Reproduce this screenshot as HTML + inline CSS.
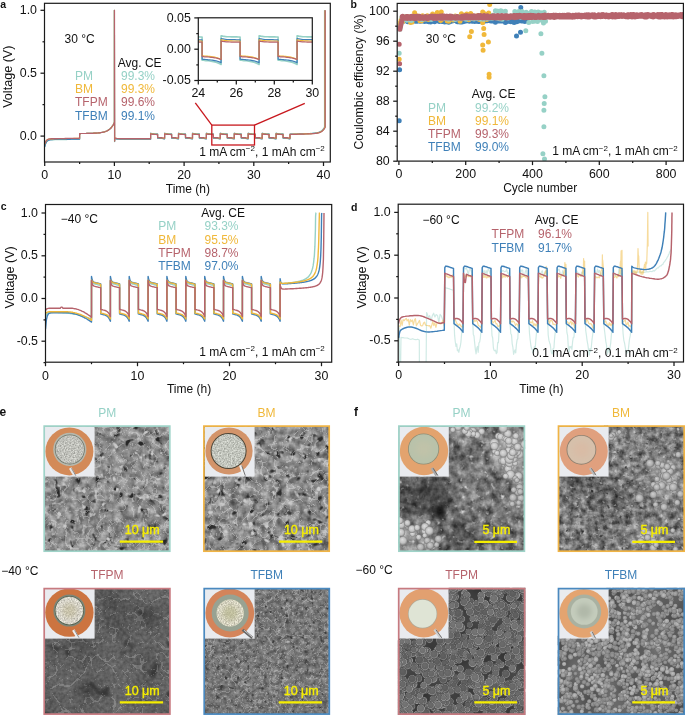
<!DOCTYPE html><html><head><meta charset="utf-8"><style>html,body{margin:0;padding:0;background:#fff}body{width:685px;height:715px;overflow:hidden;position:relative}svg{position:absolute;left:0;top:0;display:block;will-change:transform}text{font-family:"Liberation Sans",sans-serif}</style></head><body><svg width="685" height="715" viewBox="0 0 685 715"><defs><filter id="se1b" x="0" y="0" width="1" height="1" color-interpolation-filters="sRGB"><feTurbulence type="fractalNoise" baseFrequency="0.03" numOctaves="2" seed="11"/><feColorMatrix type="matrix" values="0.327 0 0 0 0.378 0.327 0 0 0 0.378 0.327 0 0 0 0.378 0 0 0 0 1"/></filter><filter id="se1m" x="0" y="0" width="1" height="1" color-interpolation-filters="sRGB"><feTurbulence type="fractalNoise" baseFrequency="0.14" numOctaves="3" seed="12"/><feColorMatrix type="matrix" values="0.784 0 0 0 0.149 0.784 0 0 0 0.149 0.784 0 0 0 0.149 0 0 0 0 0.7"/></filter><filter id="se1p" x="0" y="0" width="1" height="1" color-interpolation-filters="sRGB"><feTurbulence type="fractalNoise" baseFrequency="0.13" numOctaves="2" seed="13"/><feColorMatrix type="matrix" values="0 0 0 0 0.1568627450980392 0 0 0 0 0.1568627450980392 0 0 0 0 0.1568627450980392 -7 0 0 0 2.59"/><feGaussianBlur stdDeviation="0.5"/></filter><filter id="se1e" x="0" y="0" width="1" height="1" color-interpolation-filters="sRGB"><feTurbulence type="turbulence" baseFrequency="0.09" numOctaves="1" seed="14"/><feColorMatrix type="matrix" values="0 0 0 0 0.92 0 0 0 0 0.92 0 0 0 0 0.92 -12 0 0 0 0.3"/><feGaussianBlur stdDeviation="0.6"/></filter><filter id="se1l" x="0" y="0" width="1" height="1" color-interpolation-filters="sRGB"><feTurbulence type="fractalNoise" baseFrequency="0.16" numOctaves="2" seed="16"/><feColorMatrix type="matrix" values="0 0 0 0 0.7843137254901961 0 0 0 0 0.7843137254901961 0 0 0 0 0.7843137254901961 6 0 0 0 -3.84"/><feGaussianBlur stdDeviation="0.4"/></filter><filter id="se2b" x="0" y="0" width="1" height="1" color-interpolation-filters="sRGB"><feTurbulence type="fractalNoise" baseFrequency="0.03" numOctaves="2" seed="12"/><feColorMatrix type="matrix" values="0.261 0 0 0 0.403 0.261 0 0 0 0.403 0.261 0 0 0 0.403 0 0 0 0 1"/></filter><filter id="se2m" x="0" y="0" width="1" height="1" color-interpolation-filters="sRGB"><feTurbulence type="fractalNoise" baseFrequency="0.13" numOctaves="3" seed="13"/><feColorMatrix type="matrix" values="0.915 0 0 0 0.076 0.915 0 0 0 0.076 0.915 0 0 0 0.076 0 0 0 0 0.7"/></filter><filter id="se2p" x="0" y="0" width="1" height="1" color-interpolation-filters="sRGB"><feTurbulence type="fractalNoise" baseFrequency="0.12" numOctaves="2" seed="14"/><feColorMatrix type="matrix" values="0 0 0 0 0.17647058823529413 0 0 0 0 0.17647058823529413 0 0 0 0 0.17647058823529413 -7 0 0 0 2.59"/><feGaussianBlur stdDeviation="0.5"/></filter><filter id="se2e" x="0" y="0" width="1" height="1" color-interpolation-filters="sRGB"><feTurbulence type="turbulence" baseFrequency="0.08" numOctaves="1" seed="15"/><feColorMatrix type="matrix" values="0 0 0 0 0.92 0 0 0 0 0.92 0 0 0 0 0.92 -12 0 0 0 0.35"/><feGaussianBlur stdDeviation="0.6"/></filter><filter id="se2l" x="0" y="0" width="1" height="1" color-interpolation-filters="sRGB"><feTurbulence type="fractalNoise" baseFrequency="0.14" numOctaves="2" seed="17"/><feColorMatrix type="matrix" values="0 0 0 0 0.803921568627451 0 0 0 0 0.803921568627451 0 0 0 0 0.803921568627451 6 0 0 0 -3.7199999999999998"/><feGaussianBlur stdDeviation="0.4"/></filter><filter id="se3b" x="0" y="0" width="1" height="1" color-interpolation-filters="sRGB"><feTurbulence type="fractalNoise" baseFrequency="0.03" numOctaves="2" seed="13"/><feColorMatrix type="matrix" values="0.261 0 0 0 0.242 0.261 0 0 0 0.242 0.261 0 0 0 0.242 0 0 0 0 1"/></filter><filter id="se3m" x="0" y="0" width="1" height="1" color-interpolation-filters="sRGB"><feTurbulence type="fractalNoise" baseFrequency="0.3" numOctaves="2" seed="14"/><feColorMatrix type="matrix" values="0.392 0 0 0 0.176 0.392 0 0 0 0.176 0.392 0 0 0 0.176 0 0 0 0 0.5"/></filter><filter id="se3p" x="0" y="0" width="1" height="1" color-interpolation-filters="sRGB"><feTurbulence type="fractalNoise" baseFrequency="0.05" numOctaves="2" seed="15"/><feColorMatrix type="matrix" values="0 0 0 0 0.19607843137254902 0 0 0 0 0.19607843137254902 0 0 0 0 0.19607843137254902 -8 0 0 0 2.4"/><feGaussianBlur stdDeviation="0.5"/></filter><filter id="se3e" x="0" y="0" width="1" height="1" color-interpolation-filters="sRGB"><feTurbulence type="turbulence" baseFrequency="0.07" numOctaves="1" seed="16"/><feColorMatrix type="matrix" values="0 0 0 0 0.92 0 0 0 0 0.92 0 0 0 0 0.92 -18 0 0 0 0.2"/><feGaussianBlur stdDeviation="0.6"/></filter><filter id="se4b" x="0" y="0" width="1" height="1" color-interpolation-filters="sRGB"><feTurbulence type="fractalNoise" baseFrequency="0.03" numOctaves="2" seed="14"/><feColorMatrix type="matrix" values="0.196 0 0 0 0.357 0.196 0 0 0 0.357 0.196 0 0 0 0.357 0 0 0 0 1"/></filter><filter id="se4m" x="0" y="0" width="1" height="1" color-interpolation-filters="sRGB"><feTurbulence type="fractalNoise" baseFrequency="0.22" numOctaves="3" seed="15"/><feColorMatrix type="matrix" values="0.588 0 0 0 0.161 0.588 0 0 0 0.161 0.588 0 0 0 0.161 0 0 0 0 0.7"/></filter><filter id="se4p" x="0" y="0" width="1" height="1" color-interpolation-filters="sRGB"><feTurbulence type="fractalNoise" baseFrequency="0.2" numOctaves="2" seed="16"/><feColorMatrix type="matrix" values="0 0 0 0 0.23529411764705882 0 0 0 0 0.23529411764705882 0 0 0 0 0.23529411764705882 -6 0 0 0 2.0999999999999996"/><feGaussianBlur stdDeviation="0.5"/></filter><filter id="se4e" x="0" y="0" width="1" height="1" color-interpolation-filters="sRGB"><feTurbulence type="turbulence" baseFrequency="0.14" numOctaves="1" seed="17"/><feColorMatrix type="matrix" values="0 0 0 0 0.92 0 0 0 0 0.92 0 0 0 0 0.92 -12 0 0 0 0.25"/><feGaussianBlur stdDeviation="0.6"/></filter><filter id="se4l" x="0" y="0" width="1" height="1" color-interpolation-filters="sRGB"><feTurbulence type="fractalNoise" baseFrequency="0.22" numOctaves="2" seed="19"/><feColorMatrix type="matrix" values="0 0 0 0 0.7058823529411765 0 0 0 0 0.7058823529411765 0 0 0 0 0.7058823529411765 5 0 0 0 -3.3000000000000003"/><feGaussianBlur stdDeviation="0.4"/></filter><filter id="sf1b" x="0" y="0" width="1" height="1" color-interpolation-filters="sRGB"><feTurbulence type="fractalNoise" baseFrequency="0.025" numOctaves="2" seed="21"/><feColorMatrix type="matrix" values="0.458 0 0 0 0.210 0.458 0 0 0 0.210 0.458 0 0 0 0.210 0 0 0 0 1"/></filter><filter id="sf1m" x="0" y="0" width="1" height="1" color-interpolation-filters="sRGB"><feTurbulence type="fractalNoise" baseFrequency="0.13" numOctaves="3" seed="22"/><feColorMatrix type="matrix" values="1.046 0 0 0 -0.084 1.046 0 0 0 -0.084 1.046 0 0 0 -0.084 0 0 0 0 0.7"/></filter><filter id="sf1l" x="0" y="0" width="1" height="1" color-interpolation-filters="sRGB"><feTurbulence type="fractalNoise" baseFrequency="0.2" numOctaves="2" seed="26"/><feColorMatrix type="matrix" values="0 0 0 0 0.8431372549019608 0 0 0 0 0.8431372549019608 0 0 0 0 0.8431372549019608 4 0 0 0 -2.56"/><feGaussianBlur stdDeviation="0.4"/></filter><filter id="sf2b" x="0" y="0" width="1" height="1" color-interpolation-filters="sRGB"><feTurbulence type="fractalNoise" baseFrequency="0.025" numOctaves="2" seed="22"/><feColorMatrix type="matrix" values="0.392 0 0 0 0.267 0.392 0 0 0 0.267 0.392 0 0 0 0.267 0 0 0 0 1"/></filter><filter id="sf2m" x="0" y="0" width="1" height="1" color-interpolation-filters="sRGB"><feTurbulence type="fractalNoise" baseFrequency="0.16" numOctaves="3" seed="23"/><feColorMatrix type="matrix" values="1.046 0 0 0 -0.060 1.046 0 0 0 -0.060 1.046 0 0 0 -0.060 0 0 0 0 0.7"/></filter><filter id="sf2p" x="0" y="0" width="1" height="1" color-interpolation-filters="sRGB"><feTurbulence type="fractalNoise" baseFrequency="0.2" numOctaves="2" seed="24"/><feColorMatrix type="matrix" values="0 0 0 0 0.19607843137254902 0 0 0 0 0.19607843137254902 0 0 0 0 0.19607843137254902 -5 0 0 0 1.6500000000000001"/><feGaussianBlur stdDeviation="0.5"/></filter><filter id="sf2l" x="0" y="0" width="1" height="1" color-interpolation-filters="sRGB"><feTurbulence type="fractalNoise" baseFrequency="0.22" numOctaves="2" seed="27"/><feColorMatrix type="matrix" values="0 0 0 0 0.8235294117647058 0 0 0 0 0.8235294117647058 0 0 0 0 0.8235294117647058 4 0 0 0 -2.6"/><feGaussianBlur stdDeviation="0.4"/></filter><filter id="sf3b" x="0" y="0" width="1" height="1" color-interpolation-filters="sRGB"><feTurbulence type="fractalNoise" baseFrequency="0.03" numOctaves="2" seed="23"/><feColorMatrix type="matrix" values="0.196 0 0 0 0.145 0.196 0 0 0 0.145 0.196 0 0 0 0.145 0 0 0 0 1"/></filter><filter id="sf4b" x="0" y="0" width="1" height="1" color-interpolation-filters="sRGB"><feTurbulence type="fractalNoise" baseFrequency="0.03" numOctaves="2" seed="24"/><feColorMatrix type="matrix" values="0.261 0 0 0 0.230 0.261 0 0 0 0.230 0.261 0 0 0 0.230 0 0 0 0 1"/></filter><radialGradient id="sph1" cx="0.45" cy="0.4" r="0.6"><stop offset="0" stop-color="#acacac"/><stop offset="0.7" stop-color="#929292"/><stop offset="1" stop-color="#686868"/></radialGradient><radialGradient id="sph2" cx="0.45" cy="0.4" r="0.6"><stop offset="0" stop-color="#9c9c9c"/><stop offset="0.7" stop-color="#848484"/><stop offset="1" stop-color="#5e5e5e"/></radialGradient><radialGradient id="sph3" cx="0.45" cy="0.4" r="0.6"><stop offset="0" stop-color="#bebebe"/><stop offset="0.7" stop-color="#a2a2a2"/><stop offset="1" stop-color="#727272"/></radialGradient><radialGradient id="gr1" cx="0.5" cy="0.5" r="0.5" fx="0.4" fy="0.35"><stop offset="0" stop-color="#6c6c6c"/><stop offset="0.7" stop-color="#646464"/><stop offset="0.86" stop-color="#8a8a8a"/><stop offset="1" stop-color="#4e4e4e"/></radialGradient><radialGradient id="gr2" cx="0.5" cy="0.5" r="0.5" fx="0.4" fy="0.35"><stop offset="0" stop-color="#626262"/><stop offset="0.7" stop-color="#5a5a5a"/><stop offset="0.86" stop-color="#7c7c7c"/><stop offset="1" stop-color="#484848"/></radialGradient><radialGradient id="gr3" cx="0.5" cy="0.5" r="0.5" fx="0.4" fy="0.35"><stop offset="0" stop-color="#767676"/><stop offset="0.7" stop-color="#6e6e6e"/><stop offset="0.86" stop-color="#969696"/><stop offset="1" stop-color="#545454"/></radialGradient><radialGradient id="br1" cx="0.5" cy="0.5" r="0.5" fx="0.42" fy="0.38"><stop offset="0" stop-color="#dedede"/><stop offset="0.65" stop-color="#c2c2c2"/><stop offset="1" stop-color="#848484"/></radialGradient><radialGradient id="br2" cx="0.5" cy="0.5" r="0.5" fx="0.42" fy="0.38"><stop offset="0" stop-color="#cfcfcf"/><stop offset="0.65" stop-color="#b0b0b0"/><stop offset="1" stop-color="#7a7a7a"/></radialGradient><filter id="blur05" x="-5%" y="-5%" width="110%" height="110%"><feGaussianBlur stdDeviation="0.55"/></filter><filter id="blur2" x="-50%" y="-50%" width="200%" height="200%"><feGaussianBlur stdDeviation="2.5"/></filter><filter id="speck" x="0" y="0" width="1" height="1" color-interpolation-filters="sRGB"><feTurbulence type="fractalNoise" baseFrequency="0.7" numOctaves="2" seed="9"/><feColorMatrix type="matrix" values="1.2 0 0 0 0.12 1.2 0 0 0 0.12 1.2 0 0 0 0.12 0 0 0 0 0.4"/><feComposite in2="SourceGraphic" operator="in"/></filter><filter id="blur6" x="-20%" y="-20%" width="140%" height="140%"><feGaussianBlur stdDeviation="6"/></filter></defs><clipPath id="ca"><rect x="44.5" y="3.3" width="285.8" height="158.7"/></clipPath><path d="M44.7 147.2 L45.3 144.9 L45.9 143.3 L46.4 142.2 L47 141.4 L47.6 140.9 L48.2 140.6 L48.8 140.3 L49.3 140.2 L49.9 140 L50.5 140 L51.1 139.9 L51.7 139.9 L52.3 139.8 L52.8 139.8 L53.4 139.8 L54 139.8 L54.6 139.7 L55.2 139.7 L55.7 139.7 L56.3 139.7 L56.9 139.7 L57.5 139.7 L58.1 139.7 L58.6 139.7 L59.2 139.7 L59.8 139.7 L60.4 139.6 L61 139.6 L61.5 139.6 L62.1 139.6 L62.7 139.6 L63.3 139.6 L63.9 139.6 L64.4 139.6 L65 139.6 L65.6 139.6 L66.2 139.6 L66.8 139.6 L67.4 139.5 L67.9 139.5 L68.5 139.5 L69.1 139.5 L69.7 139.5 L70.3 139.5 L70.8 139.5 L71.4 139.5 L72 139.5 L72.6 139.5 L73.2 139.5 L73.7 139.5 L74.3 139.4 L74.9 139.4 L75.5 139.4 L76.1 139.4 L76.6 139.4 L77.2 139.4 L77.8 139.4 L78.4 139.4 L79 139.4 L79.6 139.4 L79.6 133.6 L80.1 133.6 L80.7 133.6 L81.3 133.5 L81.9 133.5 L82.5 133.5 L83.1 133.5 L83.7 133.5 L84.3 133.5 L84.8 133.5 L85.4 133.5 L86 133.5 L86.6 133.4 L87.2 133.4 L87.8 133.4 L88.4 133.4 L89 133.4 L89.6 133.4 L90.1 133.4 L90.7 133.3 L91.3 133.3 L91.9 133.3 L92.5 133.3 L93.1 133.2 L93.7 133.2 L94.3 133.2 L94.8 133.2 L95.4 133.1 L96 133.1 L96.6 133.1 L97.2 133 L97.8 133 L98.4 132.9 L99 132.8 L99.6 132.8 L100.1 132.7 L100.7 132.6 L101.3 132.5 L101.9 132.4 L102.5 132.3 L103.1 132.2 L103.7 132 L104.3 131.9 L104.8 131.7 L105.4 131.5 L106 131.2 L106.6 131 L107.2 130.7 L107.8 130.3 L108.4 130 L109 129.5 L109.6 129.1 L110.1 128.5 L110.7 127.9 L111.3 127.3 L111.9 126.5 L112.5 125.7 L113.1 124.7 L113.7 123.6 L114.3 122.4 L114.3 10.3 L114.5 141.6 L114.7 138.6 L116.6 139.1 L118.5 139.2 L120.4 139.3 L122.3 139.4 L124.2 139.4 L126.1 139.4 L128 139.4 L129.9 139.4 L131.8 139.4 L133.6 139.4 L135.5 139.4 L137.4 139.4 L139.3 139.4 L141.2 139.4 L143.1 139.4 L145 139.4 L146.9 139.4 L148.8 139.4 L150.6 139.4 L150.6 133.1 L151.6 133.4 L152.6 133.6 L153.6 133.7 L154.6 133.7 L155.6 133.8 L156.6 133.8 L157.6 133.8 L157.6 138.2 L158.6 138.3 L159.6 138.3 L160.6 138.4 L161.6 138.5 L162.6 138.6 L163.6 138.8 L164.6 139 L164.6 133.1 L165.6 133.4 L166.6 133.6 L167.6 133.7 L168.6 133.7 L169.6 133.8 L170.6 133.8 L171.6 133.8 L171.6 138.2 L172.5 138.3 L173.5 138.3 L174.5 138.4 L175.5 138.5 L176.5 138.6 L177.5 138.8 L178.5 139 L178.5 133.1 L179.5 133.4 L180.5 133.6 L181.5 133.7 L182.5 133.7 L183.5 133.8 L184.5 133.8 L185.5 133.8 L185.5 138.2 L186.5 138.3 L187.5 138.3 L188.5 138.4 L189.5 138.5 L190.5 138.6 L191.5 138.8 L192.5 139 L192.5 133.1 L193.5 133.4 L194.5 133.6 L195.5 133.7 L196.4 133.7 L197.4 133.8 L198.4 133.8 L199.4 133.8 L199.4 138.2 L200.4 138.3 L201.4 138.3 L202.4 138.4 L203.4 138.5 L204.4 138.6 L205.4 138.8 L206.4 139 L206.4 133.1 L207.4 133.4 L208.4 133.6 L209.4 133.7 L210.4 133.7 L211.4 133.8 L212.4 133.8 L213.4 133.8 L213.4 138.2 L214.4 138.3 L215.4 138.3 L216.4 138.4 L217.4 138.5 L218.4 138.6 L219.3 138.8 L220.3 139 L220.3 133.1 L221.3 133.4 L222.3 133.6 L223.3 133.7 L224.3 133.7 L225.3 133.8 L226.3 133.8 L227.3 133.8 L227.3 138.2 L228.3 138.3 L229.3 138.3 L230.3 138.4 L231.3 138.5 L232.3 138.6 L233.3 138.8 L234.3 139 L234.3 133.1 L235.3 133.4 L236.3 133.6 L237.3 133.7 L238.3 133.7 L239.3 133.8 L240.3 133.8 L241.3 133.8 L241.3 138.2 L242.2 138.3 L243.2 138.3 L244.2 138.4 L245.2 138.5 L246.2 138.6 L247.2 138.8 L248.2 139 L248.2 133.1 L249.2 133.4 L250.2 133.6 L251.2 133.7 L252.2 133.7 L253.2 133.8 L254.2 133.8 L255.2 133.8 L255.2 138.2 L256.2 138.3 L257.2 138.3 L258.2 138.4 L259.2 138.5 L260.2 138.6 L261.2 138.8 L262.2 139 L262.2 133.1 L263.2 133.4 L264.2 133.6 L265.2 133.7 L266.1 133.7 L267.1 133.8 L268.1 133.8 L269.1 133.8 L269.1 138.2 L270.1 138.3 L271.1 138.3 L272.1 138.4 L273.1 138.5 L274.1 138.6 L275.1 138.8 L276.1 139 L276.1 133.1 L277.1 133.4 L278.1 133.6 L279.1 133.7 L280.1 133.7 L281.1 133.8 L282.1 133.8 L283.1 133.8 L283.1 138.2 L284.1 138.3 L285.1 138.3 L286.1 138.4 L287.1 138.5 L288.1 138.6 L289 138.8 L290 139 L290 134.1 L290.5 134.1 L290.9 134.1 L291.3 134 L291.8 134 L292.2 134 L292.6 134 L293.1 134 L293.5 134 L293.9 134 L294.4 134 L294.8 133.9 L295.2 133.9 L295.7 133.9 L296.1 133.9 L296.5 133.9 L296.9 133.9 L297.4 133.9 L297.8 133.9 L298.2 133.8 L298.7 133.8 L299.1 133.8 L299.5 133.8 L300 133.8 L300.4 133.8 L300.8 133.8 L301.3 133.8 L301.7 133.7 L302.1 133.7 L302.6 133.7 L303 133.7 L303.4 133.7 L303.8 133.7 L304.3 133.7 L304.7 133.7 L305.1 133.6 L305.6 133.6 L306 133.6 L306.4 133.6 L306.9 133.6 L307.3 133.6 L307.7 133.5 L308.2 133.5 L308.6 133.5 L309 133.5 L309.5 133.5 L309.9 133.5 L310.3 133.4 L310.7 133.4 L311.2 133.4 L311.6 133.4 L312 133.3 L312.5 133.3 L312.9 133.3 L313.3 133.2 L313.8 133.2 L314.2 133.2 L314.6 133.1 L315.1 133.1 L315.5 133 L315.9 132.9 L316.4 132.9 L316.8 132.8 L317.2 132.7 L317.6 132.6 L318.1 132.5 L318.5 132.3 L318.9 132.2 L319.4 132 L319.8 131.8 L320.2 131.6 L320.7 131.4 L321.1 131.1 L321.5 130.8 L322 130.4 L322.4 130 L322.8 129.5 L323.3 129 L323.7 128.3 L324.1 127.6 L324.5 126.8 L324.5 10.3" fill="none" stroke="#96d1c6" stroke-width="1.2" stroke-linejoin="round" clip-path="url(#ca)"/><path d="M44.7 146.9 L45.3 144.6 L45.9 143 L46.4 141.9 L47 141.2 L47.6 140.7 L48.2 140.3 L48.8 140.1 L49.3 139.9 L49.9 139.8 L50.5 139.7 L51.1 139.6 L51.7 139.6 L52.3 139.6 L52.8 139.5 L53.4 139.5 L54 139.5 L54.6 139.5 L55.2 139.5 L55.7 139.5 L56.3 139.5 L56.9 139.4 L57.5 139.4 L58.1 139.4 L58.6 139.4 L59.2 139.4 L59.8 139.4 L60.4 139.4 L61 139.4 L61.5 139.4 L62.1 139.4 L62.7 139.4 L63.3 139.4 L63.9 139.3 L64.4 139.3 L65 139.3 L65.6 139.3 L66.2 139.3 L66.8 139.3 L67.4 139.3 L67.9 139.3 L68.5 139.3 L69.1 139.3 L69.7 139.3 L70.3 139.3 L70.8 139.2 L71.4 139.2 L72 139.2 L72.6 139.2 L73.2 139.2 L73.7 139.2 L74.3 139.2 L74.9 139.2 L75.5 139.2 L76.1 139.2 L76.6 139.2 L77.2 139.2 L77.8 139.1 L78.4 139.1 L79 139.1 L79.6 139.1 L79.6 133.6 L80.1 133.6 L80.7 133.6 L81.3 133.5 L81.9 133.5 L82.5 133.5 L83.1 133.5 L83.7 133.5 L84.3 133.5 L84.9 133.5 L85.5 133.5 L86 133.5 L86.6 133.4 L87.2 133.4 L87.8 133.4 L88.4 133.4 L89 133.4 L89.6 133.4 L90.2 133.4 L90.8 133.3 L91.4 133.3 L92 133.3 L92.5 133.3 L93.1 133.3 L93.7 133.2 L94.3 133.2 L94.9 133.2 L95.5 133.1 L96.1 133.1 L96.7 133.1 L97.3 133 L97.9 133 L98.5 132.9 L99 132.8 L99.6 132.8 L100.2 132.7 L100.8 132.6 L101.4 132.5 L102 132.4 L102.6 132.3 L103.2 132.2 L103.8 132 L104.4 131.9 L104.9 131.7 L105.5 131.5 L106.1 131.2 L106.7 131 L107.3 130.7 L107.9 130.4 L108.5 130 L109.1 129.6 L109.7 129.1 L110.3 128.6 L110.9 128 L111.4 127.3 L112 126.5 L112.6 125.7 L113.2 124.7 L113.8 123.6 L114.4 122.4 L114.4 10.3 L114.6 141.5 L114.7 138.5 L116.6 138.9 L118.5 139.1 L120.4 139.2 L122.3 139.2 L124.2 139.2 L126.1 139.2 L128 139.2 L129.9 139.2 L131.8 139.2 L133.6 139.2 L135.5 139.2 L137.4 139.2 L139.3 139.2 L141.2 139.2 L143.1 139.2 L145 139.2 L146.9 139.2 L148.8 139.2 L150.6 139.2 L150.6 133.3 L151.6 133.7 L152.6 133.8 L153.6 133.9 L154.6 134 L155.6 134 L156.6 134 L157.6 134.1 L157.6 138.1 L158.6 138.2 L159.6 138.2 L160.6 138.3 L161.6 138.4 L162.6 138.5 L163.6 138.6 L164.6 138.9 L164.6 133.3 L165.6 133.7 L166.6 133.8 L167.6 133.9 L168.6 134 L169.6 134 L170.6 134 L171.6 134.1 L171.6 138.1 L172.5 138.2 L173.5 138.2 L174.5 138.3 L175.5 138.4 L176.5 138.5 L177.5 138.6 L178.5 138.9 L178.5 133.3 L179.5 133.7 L180.5 133.8 L181.5 133.9 L182.5 134 L183.5 134 L184.5 134 L185.5 134.1 L185.5 138.1 L186.5 138.2 L187.5 138.2 L188.5 138.3 L189.5 138.4 L190.5 138.5 L191.5 138.6 L192.5 138.9 L192.5 133.3 L193.5 133.7 L194.5 133.8 L195.5 133.9 L196.4 134 L197.4 134 L198.4 134 L199.4 134.1 L199.4 138.1 L200.4 138.2 L201.4 138.2 L202.4 138.3 L203.4 138.4 L204.4 138.5 L205.4 138.6 L206.4 138.9 L206.4 133.3 L207.4 133.7 L208.4 133.8 L209.4 133.9 L210.4 134 L211.4 134 L212.4 134 L213.4 134.1 L213.4 138.1 L214.4 138.2 L215.4 138.2 L216.4 138.3 L217.4 138.4 L218.4 138.5 L219.3 138.6 L220.3 138.9 L220.3 133.3 L221.3 133.7 L222.3 133.8 L223.3 133.9 L224.3 134 L225.3 134 L226.3 134 L227.3 134.1 L227.3 138.1 L228.3 138.2 L229.3 138.2 L230.3 138.3 L231.3 138.4 L232.3 138.5 L233.3 138.6 L234.3 138.9 L234.3 133.3 L235.3 133.7 L236.3 133.8 L237.3 133.9 L238.3 134 L239.3 134 L240.3 134 L241.3 134.1 L241.3 138.1 L242.2 138.2 L243.2 138.2 L244.2 138.3 L245.2 138.4 L246.2 138.5 L247.2 138.6 L248.2 138.9 L248.2 133.3 L249.2 133.7 L250.2 133.8 L251.2 133.9 L252.2 134 L253.2 134 L254.2 134 L255.2 134.1 L255.2 138.1 L256.2 138.2 L257.2 138.2 L258.2 138.3 L259.2 138.4 L260.2 138.5 L261.2 138.6 L262.2 138.9 L262.2 133.3 L263.2 133.7 L264.2 133.8 L265.2 133.9 L266.1 134 L267.1 134 L268.1 134 L269.1 134.1 L269.1 138.1 L270.1 138.2 L271.1 138.2 L272.1 138.3 L273.1 138.4 L274.1 138.5 L275.1 138.6 L276.1 138.9 L276.1 133.3 L277.1 133.7 L278.1 133.8 L279.1 133.9 L280.1 134 L281.1 134 L282.1 134 L283.1 134.1 L283.1 138.1 L284.1 138.2 L285.1 138.2 L286.1 138.3 L287.1 138.4 L288.1 138.5 L289 138.6 L290 138.9 L290 134.2 L290.5 134.2 L290.9 134.2 L291.4 134.2 L291.8 134.2 L292.2 134.1 L292.7 134.1 L293.1 134.1 L293.5 134.1 L294 134.1 L294.4 134.1 L294.8 134.1 L295.3 134.1 L295.7 134 L296.1 134 L296.6 134 L297 134 L297.4 134 L297.9 134 L298.3 134 L298.8 134 L299.2 133.9 L299.6 133.9 L300.1 133.9 L300.5 133.9 L300.9 133.9 L301.4 133.9 L301.8 133.9 L302.2 133.9 L302.7 133.8 L303.1 133.8 L303.5 133.8 L304 133.8 L304.4 133.8 L304.9 133.8 L305.3 133.8 L305.7 133.7 L306.2 133.7 L306.6 133.7 L307 133.7 L307.5 133.7 L307.9 133.7 L308.3 133.7 L308.8 133.6 L309.2 133.6 L309.6 133.6 L310.1 133.6 L310.5 133.6 L311 133.5 L311.4 133.5 L311.8 133.5 L312.3 133.5 L312.7 133.4 L313.1 133.4 L313.6 133.4 L314 133.3 L314.4 133.3 L314.9 133.2 L315.3 133.2 L315.7 133.1 L316.2 133.1 L316.6 133 L317.1 132.9 L317.5 132.8 L317.9 132.7 L318.4 132.6 L318.8 132.5 L319.2 132.3 L319.7 132.2 L320.1 132 L320.5 131.8 L321 131.5 L321.4 131.2 L321.8 130.9 L322.3 130.5 L322.7 130.1 L323.2 129.6 L323.6 129.1 L324 128.5 L324.5 127.7 L324.9 126.9 L324.9 10.3" fill="none" stroke="#3f80b8" stroke-width="1.2" stroke-linejoin="round" clip-path="url(#ca)"/><path d="M44.7 144.2 L45.3 142.5 L45.9 141.3 L46.4 140.5 L47 140 L47.6 139.6 L48.2 139.4 L48.8 139.2 L49.3 139.1 L49.9 139 L50.5 138.9 L51.1 138.9 L51.7 138.8 L52.3 138.8 L52.8 138.8 L53.4 138.8 L54 138.7 L54.6 138.7 L55.2 138.7 L55.7 138.7 L56.3 138.7 L56.9 138.7 L57.5 138.7 L58.1 138.7 L58.6 138.7 L59.2 138.7 L59.8 138.6 L60.4 138.6 L61 138.6 L61.5 138.6 L62.1 138.6 L62.7 138.6 L63.3 138.6 L63.9 138.6 L64.4 138.6 L65 138.6 L65.6 138.6 L66.2 138.6 L66.8 138.5 L67.4 138.5 L67.9 138.5 L68.5 138.5 L69.1 138.5 L69.7 138.5 L70.3 138.5 L70.8 138.5 L71.4 138.5 L72 138.5 L72.6 138.5 L73.2 138.5 L73.7 138.4 L74.3 138.4 L74.9 138.4 L75.5 138.4 L76.1 138.4 L76.6 138.4 L77.2 138.4 L77.8 138.4 L78.4 138.4 L79 138.4 L79.6 138.4 L79.6 133.6 L80.1 133.6 L80.7 133.6 L81.3 133.5 L81.9 133.5 L82.5 133.5 L83.1 133.5 L83.7 133.5 L84.3 133.5 L84.9 133.5 L85.5 133.5 L86 133.5 L86.6 133.4 L87.2 133.4 L87.8 133.4 L88.4 133.4 L89 133.4 L89.6 133.4 L90.2 133.4 L90.8 133.3 L91.4 133.3 L92 133.3 L92.5 133.3 L93.1 133.3 L93.7 133.2 L94.3 133.2 L94.9 133.2 L95.5 133.1 L96.1 133.1 L96.7 133.1 L97.3 133 L97.9 133 L98.5 132.9 L99 132.8 L99.6 132.8 L100.2 132.7 L100.8 132.6 L101.4 132.5 L102 132.4 L102.6 132.3 L103.2 132.2 L103.8 132 L104.4 131.9 L104.9 131.7 L105.5 131.5 L106.1 131.2 L106.7 131 L107.3 130.7 L107.9 130.4 L108.5 130 L109.1 129.6 L109.7 129.1 L110.3 128.6 L110.9 128 L111.4 127.3 L112 126.5 L112.6 125.7 L113.2 124.7 L113.8 123.6 L114.4 122.4 L114.4 10.3 L114.6 141 L114.7 138 L116.6 138.4 L118.5 138.6 L120.4 138.7 L122.3 138.7 L124.2 138.7 L126.1 138.7 L128 138.7 L129.9 138.7 L131.8 138.7 L133.6 138.7 L135.5 138.7 L137.4 138.7 L139.3 138.7 L141.2 138.7 L143.1 138.7 L145 138.7 L146.9 138.7 L148.8 138.7 L150.6 138.7 L150.6 133.6 L151.6 133.9 L152.6 134.1 L153.6 134.2 L154.6 134.2 L155.6 134.3 L156.6 134.3 L157.6 134.3 L157.6 137.6 L158.6 137.7 L159.6 137.7 L160.6 137.8 L161.6 137.9 L162.6 138 L163.6 138.1 L164.6 138.4 L164.6 133.6 L165.6 133.9 L166.6 134.1 L167.6 134.2 L168.6 134.2 L169.6 134.3 L170.6 134.3 L171.6 134.3 L171.6 137.6 L172.5 137.7 L173.5 137.7 L174.5 137.8 L175.5 137.9 L176.5 138 L177.5 138.1 L178.5 138.4 L178.5 133.6 L179.5 133.9 L180.5 134.1 L181.5 134.2 L182.5 134.2 L183.5 134.3 L184.5 134.3 L185.5 134.3 L185.5 137.6 L186.5 137.7 L187.5 137.7 L188.5 137.8 L189.5 137.9 L190.5 138 L191.5 138.1 L192.5 138.4 L192.5 133.6 L193.5 133.9 L194.5 134.1 L195.5 134.2 L196.4 134.2 L197.4 134.3 L198.4 134.3 L199.4 134.3 L199.4 137.6 L200.4 137.7 L201.4 137.7 L202.4 137.8 L203.4 137.9 L204.4 138 L205.4 138.1 L206.4 138.4 L206.4 133.6 L207.4 133.9 L208.4 134.1 L209.4 134.2 L210.4 134.2 L211.4 134.3 L212.4 134.3 L213.4 134.3 L213.4 137.6 L214.4 137.7 L215.4 137.7 L216.4 137.8 L217.4 137.9 L218.4 138 L219.3 138.1 L220.3 138.4 L220.3 133.6 L221.3 133.9 L222.3 134.1 L223.3 134.2 L224.3 134.2 L225.3 134.3 L226.3 134.3 L227.3 134.3 L227.3 137.6 L228.3 137.7 L229.3 137.7 L230.3 137.8 L231.3 137.9 L232.3 138 L233.3 138.1 L234.3 138.4 L234.3 133.6 L235.3 133.9 L236.3 134.1 L237.3 134.2 L238.3 134.2 L239.3 134.3 L240.3 134.3 L241.3 134.3 L241.3 137.6 L242.2 137.7 L243.2 137.7 L244.2 137.8 L245.2 137.9 L246.2 138 L247.2 138.1 L248.2 138.4 L248.2 133.6 L249.2 133.9 L250.2 134.1 L251.2 134.2 L252.2 134.2 L253.2 134.3 L254.2 134.3 L255.2 134.3 L255.2 137.6 L256.2 137.7 L257.2 137.7 L258.2 137.8 L259.2 137.9 L260.2 138 L261.2 138.1 L262.2 138.4 L262.2 133.6 L263.2 133.9 L264.2 134.1 L265.2 134.2 L266.1 134.2 L267.1 134.3 L268.1 134.3 L269.1 134.3 L269.1 137.6 L270.1 137.7 L271.1 137.7 L272.1 137.8 L273.1 137.9 L274.1 138 L275.1 138.1 L276.1 138.4 L276.1 133.6 L277.1 133.9 L278.1 134.1 L279.1 134.2 L280.1 134.2 L281.1 134.3 L282.1 134.3 L283.1 134.3 L283.1 137.6 L284.1 137.7 L285.1 137.7 L286.1 137.8 L287.1 137.9 L288.1 138 L289 138.1 L290 138.4 L290 134.3 L290.5 134.3 L290.9 134.3 L291.4 134.3 L291.8 134.3 L292.2 134.3 L292.7 134.3 L293.1 134.3 L293.5 134.2 L294 134.2 L294.4 134.2 L294.9 134.2 L295.3 134.2 L295.7 134.2 L296.2 134.2 L296.6 134.1 L297 134.1 L297.5 134.1 L297.9 134.1 L298.4 134.1 L298.8 134.1 L299.2 134.1 L299.7 134.1 L300.1 134 L300.5 134 L301 134 L301.4 134 L301.9 134 L302.3 134 L302.7 134 L303.2 134 L303.6 133.9 L304 133.9 L304.5 133.9 L304.9 133.9 L305.4 133.9 L305.8 133.9 L306.2 133.9 L306.7 133.8 L307.1 133.8 L307.5 133.8 L308 133.8 L308.4 133.8 L308.9 133.8 L309.3 133.7 L309.7 133.7 L310.2 133.7 L310.6 133.7 L311 133.7 L311.5 133.6 L311.9 133.6 L312.3 133.6 L312.8 133.6 L313.2 133.5 L313.7 133.5 L314.1 133.5 L314.5 133.4 L315 133.4 L315.4 133.3 L315.8 133.3 L316.3 133.2 L316.7 133.1 L317.2 133 L317.6 133 L318 132.9 L318.5 132.7 L318.9 132.6 L319.3 132.5 L319.8 132.3 L320.2 132.1 L320.7 131.9 L321.1 131.6 L321.5 131.4 L322 131 L322.4 130.7 L322.8 130.3 L323.3 129.8 L323.7 129.2 L324.2 128.6 L324.6 127.9 L325 127 L325 10.3" fill="none" stroke="#f0b83a" stroke-width="1.2" stroke-linejoin="round" clip-path="url(#ca)"/><path d="M44.7 144 L45.3 142.4 L45.9 141.2 L46.4 140.4 L47 139.9 L47.6 139.5 L48.2 139.2 L48.8 139.1 L49.3 138.9 L49.9 138.8 L50.5 138.8 L51.1 138.7 L51.7 138.7 L52.3 138.7 L52.8 138.7 L53.4 138.6 L54 138.6 L54.6 138.6 L55.2 138.6 L55.7 138.6 L56.3 138.6 L56.9 138.6 L57.5 138.6 L58.1 138.5 L58.6 138.5 L59.2 138.5 L59.8 138.5 L60.4 138.5 L61 138.5 L61.5 138.5 L62.1 138.5 L62.7 138.5 L63.3 138.5 L63.9 138.5 L64.4 138.5 L65 138.4 L65.6 138.4 L66.2 138.4 L66.8 138.4 L67.4 138.4 L67.9 138.4 L68.5 138.4 L69.1 138.4 L69.7 138.4 L70.3 138.4 L70.8 138.4 L71.4 138.4 L72 138.3 L72.6 138.3 L73.2 138.3 L73.7 138.3 L74.3 138.3 L74.9 138.3 L75.5 138.3 L76.1 138.3 L76.6 138.3 L77.2 138.3 L77.8 138.3 L78.4 138.3 L79 138.2 L79.6 138.2 L79.6 133.6 L80.1 133.6 L80.7 133.6 L81.3 133.5 L81.9 133.5 L82.5 133.5 L83.1 133.5 L83.7 133.5 L84.3 133.5 L84.9 133.5 L85.5 133.5 L86.1 133.5 L86.7 133.4 L87.3 133.4 L87.9 133.4 L88.4 133.4 L89 133.4 L89.6 133.4 L90.2 133.4 L90.8 133.3 L91.4 133.3 L92 133.3 L92.6 133.3 L93.2 133.3 L93.8 133.2 L94.4 133.2 L95 133.2 L95.6 133.1 L96.2 133.1 L96.7 133.1 L97.3 133 L97.9 133 L98.5 132.9 L99.1 132.8 L99.7 132.8 L100.3 132.7 L100.9 132.6 L101.5 132.5 L102.1 132.4 L102.7 132.3 L103.3 132.2 L103.9 132 L104.5 131.9 L105.1 131.7 L105.6 131.5 L106.2 131.2 L106.8 131 L107.4 130.7 L108 130.4 L108.6 130 L109.2 129.6 L109.8 129.1 L110.4 128.6 L111 128 L111.6 127.3 L112.2 126.5 L112.8 125.7 L113.4 124.7 L113.9 123.6 L114.5 122.4 L114.5 10.3 L114.7 140.9 L114.7 137.9 L116.6 138.3 L118.5 138.5 L120.4 138.6 L122.3 138.6 L124.2 138.6 L126.1 138.6 L128 138.6 L129.9 138.6 L131.8 138.6 L133.6 138.6 L135.5 138.6 L137.4 138.6 L139.3 138.6 L141.2 138.6 L143.1 138.6 L145 138.6 L146.9 138.6 L148.8 138.6 L150.6 138.6 L150.6 133.8 L151.6 134.2 L152.6 134.3 L153.6 134.4 L154.6 134.5 L155.6 134.5 L156.6 134.6 L157.6 134.6 L157.6 137.5 L158.6 137.5 L159.6 137.6 L160.6 137.7 L161.6 137.7 L162.6 137.9 L163.6 138 L164.6 138.2 L164.6 133.8 L165.6 134.2 L166.6 134.3 L167.6 134.4 L168.6 134.5 L169.6 134.5 L170.6 134.6 L171.6 134.6 L171.6 137.5 L172.5 137.5 L173.5 137.6 L174.5 137.7 L175.5 137.7 L176.5 137.9 L177.5 138 L178.5 138.2 L178.5 133.8 L179.5 134.2 L180.5 134.3 L181.5 134.4 L182.5 134.5 L183.5 134.5 L184.5 134.6 L185.5 134.6 L185.5 137.5 L186.5 137.5 L187.5 137.6 L188.5 137.7 L189.5 137.7 L190.5 137.9 L191.5 138 L192.5 138.2 L192.5 133.8 L193.5 134.2 L194.5 134.3 L195.5 134.4 L196.4 134.5 L197.4 134.5 L198.4 134.6 L199.4 134.6 L199.4 137.5 L200.4 137.5 L201.4 137.6 L202.4 137.7 L203.4 137.7 L204.4 137.9 L205.4 138 L206.4 138.2 L206.4 133.8 L207.4 134.2 L208.4 134.3 L209.4 134.4 L210.4 134.5 L211.4 134.5 L212.4 134.6 L213.4 134.6 L213.4 137.5 L214.4 137.5 L215.4 137.6 L216.4 137.7 L217.4 137.7 L218.4 137.9 L219.3 138 L220.3 138.2 L220.3 133.8 L221.3 134.2 L222.3 134.3 L223.3 134.4 L224.3 134.5 L225.3 134.5 L226.3 134.6 L227.3 134.6 L227.3 137.5 L228.3 137.5 L229.3 137.6 L230.3 137.7 L231.3 137.7 L232.3 137.9 L233.3 138 L234.3 138.2 L234.3 133.8 L235.3 134.2 L236.3 134.3 L237.3 134.4 L238.3 134.5 L239.3 134.5 L240.3 134.6 L241.3 134.6 L241.3 137.5 L242.2 137.5 L243.2 137.6 L244.2 137.7 L245.2 137.7 L246.2 137.9 L247.2 138 L248.2 138.2 L248.2 133.8 L249.2 134.2 L250.2 134.3 L251.2 134.4 L252.2 134.5 L253.2 134.5 L254.2 134.6 L255.2 134.6 L255.2 137.5 L256.2 137.5 L257.2 137.6 L258.2 137.7 L259.2 137.7 L260.2 137.9 L261.2 138 L262.2 138.2 L262.2 133.8 L263.2 134.2 L264.2 134.3 L265.2 134.4 L266.1 134.5 L267.1 134.5 L268.1 134.6 L269.1 134.6 L269.1 137.5 L270.1 137.5 L271.1 137.6 L272.1 137.7 L273.1 137.7 L274.1 137.9 L275.1 138 L276.1 138.2 L276.1 133.8 L277.1 134.2 L278.1 134.3 L279.1 134.4 L280.1 134.5 L281.1 134.5 L282.1 134.6 L283.1 134.6 L283.1 137.5 L284.1 137.5 L285.1 137.6 L286.1 137.7 L287.1 137.7 L288.1 137.9 L289 138 L290 138.2 L290 134.5 L290.5 134.5 L290.9 134.4 L291.4 134.4 L291.8 134.4 L292.2 134.4 L292.7 134.4 L293.1 134.4 L293.6 134.4 L294 134.3 L294.4 134.3 L294.9 134.3 L295.3 134.3 L295.8 134.3 L296.2 134.3 L296.6 134.3 L297.1 134.3 L297.5 134.2 L298 134.2 L298.4 134.2 L298.8 134.2 L299.3 134.2 L299.7 134.2 L300.2 134.2 L300.6 134.2 L301 134.1 L301.5 134.1 L301.9 134.1 L302.4 134.1 L302.8 134.1 L303.2 134.1 L303.7 134.1 L304.1 134.1 L304.6 134 L305 134 L305.4 134 L305.9 134 L306.3 134 L306.8 134 L307.2 133.9 L307.6 133.9 L308.1 133.9 L308.5 133.9 L309 133.9 L309.4 133.9 L309.8 133.8 L310.3 133.8 L310.7 133.8 L311.2 133.8 L311.6 133.8 L312 133.7 L312.5 133.7 L312.9 133.7 L313.4 133.6 L313.8 133.6 L314.2 133.6 L314.7 133.5 L315.1 133.5 L315.6 133.4 L316 133.4 L316.4 133.3 L316.9 133.3 L317.3 133.2 L317.8 133.1 L318.2 133 L318.6 132.9 L319.1 132.7 L319.5 132.6 L320 132.4 L320.4 132.2 L320.8 132 L321.3 131.8 L321.7 131.5 L322.2 131.2 L322.6 130.8 L323 130.4 L323.5 129.9 L323.9 129.4 L324.4 128.7 L324.8 128 L325.2 127.2 L325.2 10.3" fill="none" stroke="#b6636c" stroke-width="1.2" stroke-linejoin="round" clip-path="url(#ca)"/><rect x="44.5" y="3.3" width="285.8" height="158.7" fill="none" stroke="#1a1a1a" stroke-width="1.2"/><line x1="40.5" y1="136.1" x2="44.5" y2="136.1" stroke="#1a1a1a" stroke-width="1.25"/><text x="37" y="139.7" text-anchor="end" fill="#111" font-size="12.4" >0.0</text><line x1="40.5" y1="73.2" x2="44.5" y2="73.2" stroke="#1a1a1a" stroke-width="1.25"/><text x="37" y="76.8" text-anchor="end" fill="#111" font-size="12.4" >0.5</text><line x1="40.5" y1="10.3" x2="44.5" y2="10.3" stroke="#1a1a1a" stroke-width="1.25"/><text x="37" y="13.9" text-anchor="end" fill="#111" font-size="12.4" >1.0</text><line x1="42.5" y1="104.6" x2="44.5" y2="104.6" stroke="#1a1a1a" stroke-width="1.25"/><line x1="42.5" y1="41.8" x2="44.5" y2="41.8" stroke="#1a1a1a" stroke-width="1.25"/><line x1="44.7" y1="162" x2="44.7" y2="166" stroke="#1a1a1a" stroke-width="1.25"/><text x="44.7" y="179.3" text-anchor="middle" fill="#111" font-size="12.4" >0</text><line x1="114.4" y1="162" x2="114.4" y2="166" stroke="#1a1a1a" stroke-width="1.25"/><text x="114.4" y="179.3" text-anchor="middle" fill="#111" font-size="12.4" >10</text><line x1="184.1" y1="162" x2="184.1" y2="166" stroke="#1a1a1a" stroke-width="1.25"/><text x="184.1" y="179.3" text-anchor="middle" fill="#111" font-size="12.4" >20</text><line x1="253.8" y1="162" x2="253.8" y2="166" stroke="#1a1a1a" stroke-width="1.25"/><text x="253.8" y="179.3" text-anchor="middle" fill="#111" font-size="12.4" >30</text><line x1="323.5" y1="162" x2="323.5" y2="166" stroke="#1a1a1a" stroke-width="1.25"/><text x="323.5" y="179.3" text-anchor="middle" fill="#111" font-size="12.4" >40</text><line x1="79.6" y1="162" x2="79.6" y2="164" stroke="#1a1a1a" stroke-width="1.25"/><line x1="149.2" y1="162" x2="149.2" y2="164" stroke="#1a1a1a" stroke-width="1.25"/><line x1="218.9" y1="162" x2="218.9" y2="164" stroke="#1a1a1a" stroke-width="1.25"/><line x1="288.6" y1="162" x2="288.6" y2="164" stroke="#1a1a1a" stroke-width="1.25"/><text x="187.9" y="192.7" text-anchor="middle" fill="#111" font-size="12" >Time (h)</text><text x="12.4" y="76.7" text-anchor="middle" fill="#111" font-size="12.6" transform="rotate(-90 12.4 76.7)">Voltage (V)</text><text x="64.5" y="42.9" text-anchor="start" fill="#111" font-size="12" >30 &#176;C</text><text x="117.8" y="66.7" text-anchor="start" fill="#111" font-size="12" >Avg. CE</text><text x="75" y="80.1" text-anchor="start" fill="#96d1c6" font-size="12" >PM</text><text x="121" y="80.1" text-anchor="start" fill="#96d1c6" font-size="12" >99.3%</text><text x="75" y="93.2" text-anchor="start" fill="#f0b83a" font-size="12" >BM</text><text x="121" y="93.2" text-anchor="start" fill="#f0b83a" font-size="12" >99.3%</text><text x="75" y="106.4" text-anchor="start" fill="#b6636c" font-size="12" >TFPM</text><text x="121" y="106.4" text-anchor="start" fill="#b6636c" font-size="12" >99.6%</text><text x="75" y="119.5" text-anchor="start" fill="#3f80b8" font-size="12" >TFBM</text><text x="121" y="119.5" text-anchor="start" fill="#3f80b8" font-size="12" >99.1%</text><text x="324.8" y="155.6" fill="#111" font-size="12" text-anchor="end">1 mA cm<tspan font-size="8" dy="-4.5">&#8722;2</tspan><tspan dy="4.5">, 1 mAh cm</tspan><tspan font-size="8" dy="-4.5">&#8722;2</tspan></text><rect x="211.8" y="125.1" width="42.7" height="19.9" fill="none" stroke="#c8181e" stroke-width="1.3"/><line x1="195.3" y1="102.9" x2="211.8" y2="125.1" stroke="#c8181e" stroke-width="1.3"/><line x1="254.5" y1="125.1" x2="304.8" y2="103.3" stroke="#c8181e" stroke-width="1.3"/><rect x="198.3" y="17.8" width="114.0" height="62.60000000000001" fill="#fff"/><clipPath id="ci"><rect x="198.3" y="17.8" width="114.0" height="62.60000000000001"/></clipPath><path d="M183.1 35.7 L184.8 36.1 L186.6 36.4 L188.3 36.6 L190 36.7 L191.7 36.8 L193.5 36.9 L195.2 36.9 L196.9 36.9 L198.6 36.9 L200.4 37 L202.1 37 L202.1 60.2 L203.4 60.3 L204.6 60.4 L205.9 60.6 L207.2 60.7 L208.4 60.8 L209.7 61 L211 61.2 L212.2 61.4 L213.5 61.7 L214.8 61.9 L216 62.3 L217.3 62.7 L218.6 63.2 L219.8 63.8 L221.1 64.5 L221.1 35.7 L222.8 36.1 L224.6 36.4 L226.3 36.6 L228 36.7 L229.7 36.8 L231.5 36.9 L233.2 36.9 L234.9 36.9 L236.6 36.9 L238.4 37 L240.1 37 L240.1 60.2 L241.4 60.3 L242.6 60.4 L243.9 60.6 L245.2 60.7 L246.4 60.8 L247.7 61 L249 61.2 L250.2 61.4 L251.5 61.7 L252.8 61.9 L254 62.3 L255.3 62.7 L256.6 63.2 L257.8 63.8 L259.1 64.5 L259.1 35.7 L260.8 36.1 L262.6 36.4 L264.3 36.6 L266 36.7 L267.7 36.8 L269.5 36.9 L271.2 36.9 L272.9 36.9 L274.6 36.9 L276.4 37 L278.1 37 L278.1 60.2 L279.4 60.3 L280.6 60.4 L281.9 60.6 L283.2 60.7 L284.4 60.8 L285.7 61 L287 61.2 L288.2 61.4 L289.5 61.7 L290.8 61.9 L292 62.3 L293.3 62.7 L294.6 63.2 L295.8 63.8 L297.1 64.5 L297.1 35.7 L298.8 36.1 L300.6 36.4 L302.3 36.6 L304 36.7 L305.7 36.8 L307.5 36.9 L309.2 36.9 L310.9 36.9 L312.6 36.9 L314.4 37 L316.1 37 L316.1 60.2 L317.4 60.3 L318.6 60.4 L319.9 60.6 L321.2 60.7 L322.4 60.8 L323.7 61 L325 61.2 L326.2 61.4 L327.5 61.7 L328.8 61.9 L330 62.3 L331.3 62.7 L332.6 63.2 L333.8 63.8 L335.1 64.5" fill="none" stroke="#96d1c6" stroke-width="1.6" stroke-linejoin="round" clip-path="url(#ci)"/><path d="M183.1 38.6 L184.8 38.9 L186.6 39.2 L188.3 39.4 L190 39.5 L191.7 39.6 L193.5 39.7 L195.2 39.7 L196.9 39.7 L198.6 39.8 L200.4 39.8 L202.1 39.8 L202.1 59.2 L203.4 59.3 L204.6 59.4 L205.9 59.5 L207.2 59.6 L208.4 59.8 L209.7 59.9 L211 60 L212.2 60.2 L213.5 60.4 L214.8 60.6 L216 60.9 L217.3 61.2 L218.6 61.6 L219.8 62.1 L221.1 62.7 L221.1 38.6 L222.8 38.9 L224.6 39.2 L226.3 39.4 L228 39.5 L229.7 39.6 L231.5 39.7 L233.2 39.7 L234.9 39.7 L236.6 39.8 L238.4 39.8 L240.1 39.8 L240.1 59.2 L241.4 59.3 L242.6 59.4 L243.9 59.5 L245.2 59.6 L246.4 59.8 L247.7 59.9 L249 60 L250.2 60.2 L251.5 60.4 L252.8 60.6 L254 60.9 L255.3 61.2 L256.6 61.6 L257.8 62.1 L259.1 62.7 L259.1 38.6 L260.8 38.9 L262.6 39.2 L264.3 39.4 L266 39.5 L267.7 39.6 L269.5 39.7 L271.2 39.7 L272.9 39.7 L274.6 39.8 L276.4 39.8 L278.1 39.8 L278.1 59.2 L279.4 59.3 L280.6 59.4 L281.9 59.5 L283.2 59.6 L284.4 59.8 L285.7 59.9 L287 60 L288.2 60.2 L289.5 60.4 L290.8 60.6 L292 60.9 L293.3 61.2 L294.6 61.6 L295.8 62.1 L297.1 62.7 L297.1 38.6 L298.8 38.9 L300.6 39.2 L302.3 39.4 L304 39.5 L305.7 39.6 L307.5 39.7 L309.2 39.7 L310.9 39.7 L312.6 39.8 L314.4 39.8 L316.1 39.8 L316.1 59.2 L317.4 59.3 L318.6 59.4 L319.9 59.5 L321.2 59.6 L322.4 59.8 L323.7 59.9 L325 60 L326.2 60.2 L327.5 60.4 L328.8 60.6 L330 60.9 L331.3 61.2 L332.6 61.6 L333.8 62.1 L335.1 62.7" fill="none" stroke="#3f80b8" stroke-width="1.2" stroke-linejoin="round" clip-path="url(#ci)"/><path d="M183.1 39.8 L184.8 40.2 L186.6 40.5 L188.3 40.6 L190 40.8 L191.7 40.9 L193.5 40.9 L195.2 41 L196.9 41 L198.6 41 L200.4 41 L202.1 41 L202.1 55.8 L203.4 55.9 L204.6 56 L205.9 56.1 L207.2 56.2 L208.4 56.3 L209.7 56.4 L211 56.6 L212.2 56.8 L213.5 56.9 L214.8 57.2 L216 57.5 L217.3 57.8 L218.6 58.2 L219.8 58.7 L221.1 59.2 L221.1 39.8 L222.8 40.2 L224.6 40.5 L226.3 40.6 L228 40.8 L229.7 40.9 L231.5 40.9 L233.2 41 L234.9 41 L236.6 41 L238.4 41 L240.1 41 L240.1 55.8 L241.4 55.9 L242.6 56 L243.9 56.1 L245.2 56.2 L246.4 56.3 L247.7 56.4 L249 56.6 L250.2 56.8 L251.5 56.9 L252.8 57.2 L254 57.5 L255.3 57.8 L256.6 58.2 L257.8 58.7 L259.1 59.2 L259.1 39.8 L260.8 40.2 L262.6 40.5 L264.3 40.6 L266 40.8 L267.7 40.9 L269.5 40.9 L271.2 41 L272.9 41 L274.6 41 L276.4 41 L278.1 41 L278.1 55.8 L279.4 55.9 L280.6 56 L281.9 56.1 L283.2 56.2 L284.4 56.3 L285.7 56.4 L287 56.6 L288.2 56.8 L289.5 56.9 L290.8 57.2 L292 57.5 L293.3 57.8 L294.6 58.2 L295.8 58.7 L297.1 59.2 L297.1 39.8 L298.8 40.2 L300.6 40.5 L302.3 40.6 L304 40.8 L305.7 40.9 L307.5 40.9 L309.2 41 L310.9 41 L312.6 41 L314.4 41 L316.1 41 L316.1 55.8 L317.4 55.9 L318.6 56 L319.9 56.1 L321.2 56.2 L322.4 56.3 L323.7 56.4 L325 56.6 L326.2 56.8 L327.5 56.9 L328.8 57.2 L330 57.5 L331.3 57.8 L332.6 58.2 L333.8 58.7 L335.1 59.2" fill="none" stroke="#f0b83a" stroke-width="1.2" stroke-linejoin="round" clip-path="url(#ci)"/><path d="M183.1 41.1 L184.8 41.4 L186.6 41.6 L188.3 41.8 L190 41.9 L191.7 42 L193.5 42.1 L195.2 42.1 L196.9 42.1 L198.6 42.1 L200.4 42.2 L202.1 42.2 L202.1 56.6 L203.4 56.7 L204.6 56.8 L205.9 56.9 L207.2 56.9 L208.4 57 L209.7 57.2 L211 57.3 L212.2 57.4 L213.5 57.6 L214.8 57.8 L216 58 L217.3 58.3 L218.6 58.6 L219.8 59.1 L221.1 59.5 L221.1 41.1 L222.8 41.4 L224.6 41.6 L226.3 41.8 L228 41.9 L229.7 42 L231.5 42.1 L233.2 42.1 L234.9 42.1 L236.6 42.1 L238.4 42.2 L240.1 42.2 L240.1 56.6 L241.4 56.7 L242.6 56.8 L243.9 56.9 L245.2 56.9 L246.4 57 L247.7 57.2 L249 57.3 L250.2 57.4 L251.5 57.6 L252.8 57.8 L254 58 L255.3 58.3 L256.6 58.6 L257.8 59.1 L259.1 59.5 L259.1 41.1 L260.8 41.4 L262.6 41.6 L264.3 41.8 L266 41.9 L267.7 42 L269.5 42.1 L271.2 42.1 L272.9 42.1 L274.6 42.1 L276.4 42.2 L278.1 42.2 L278.1 56.6 L279.4 56.7 L280.6 56.8 L281.9 56.9 L283.2 56.9 L284.4 57 L285.7 57.2 L287 57.3 L288.2 57.4 L289.5 57.6 L290.8 57.8 L292 58 L293.3 58.3 L294.6 58.6 L295.8 59.1 L297.1 59.5 L297.1 41.1 L298.8 41.4 L300.6 41.6 L302.3 41.8 L304 41.9 L305.7 42 L307.5 42.1 L309.2 42.1 L310.9 42.1 L312.6 42.1 L314.4 42.2 L316.1 42.2 L316.1 56.6 L317.4 56.7 L318.6 56.8 L319.9 56.9 L321.2 56.9 L322.4 57 L323.7 57.2 L325 57.3 L326.2 57.4 L327.5 57.6 L328.8 57.8 L330 58 L331.3 58.3 L332.6 58.6 L333.8 59.1 L335.1 59.5" fill="none" stroke="#b6636c" stroke-width="1.2" stroke-linejoin="round" clip-path="url(#ci)"/><rect x="198.3" y="17.8" width="114" height="62.6" fill="none" stroke="#1a1a1a" stroke-width="1.2"/><line x1="194.3" y1="80.5" x2="198.3" y2="80.5" stroke="#1a1a1a" stroke-width="1.25"/><text x="190.8" y="84.1" text-anchor="end" fill="#111" font-size="12.4" >-0.05</text><line x1="194.3" y1="49.2" x2="198.3" y2="49.2" stroke="#1a1a1a" stroke-width="1.25"/><text x="190.8" y="52.8" text-anchor="end" fill="#111" font-size="12.4" >0.00</text><line x1="194.3" y1="17.9" x2="198.3" y2="17.9" stroke="#1a1a1a" stroke-width="1.25"/><text x="190.8" y="21.5" text-anchor="end" fill="#111" font-size="12.4" >0.05</text><line x1="196.3" y1="64.9" x2="198.3" y2="64.9" stroke="#1a1a1a" stroke-width="1.25"/><line x1="196.3" y1="33.6" x2="198.3" y2="33.6" stroke="#1a1a1a" stroke-width="1.25"/><line x1="198.3" y1="80.4" x2="198.3" y2="84.4" stroke="#1a1a1a" stroke-width="1.25"/><text x="198.3" y="96.8" text-anchor="middle" fill="#111" font-size="12.4" >24</text><line x1="236.3" y1="80.4" x2="236.3" y2="84.4" stroke="#1a1a1a" stroke-width="1.25"/><text x="236.3" y="96.8" text-anchor="middle" fill="#111" font-size="12.4" >26</text><line x1="274.3" y1="80.4" x2="274.3" y2="84.4" stroke="#1a1a1a" stroke-width="1.25"/><text x="274.3" y="96.8" text-anchor="middle" fill="#111" font-size="12.4" >28</text><line x1="312.3" y1="80.4" x2="312.3" y2="84.4" stroke="#1a1a1a" stroke-width="1.25"/><text x="312.3" y="96.8" text-anchor="middle" fill="#111" font-size="12.4" >30</text><line x1="217.3" y1="80.4" x2="217.3" y2="82.4" stroke="#1a1a1a" stroke-width="1.25"/><line x1="255.3" y1="80.4" x2="255.3" y2="82.4" stroke="#1a1a1a" stroke-width="1.25"/><line x1="293.3" y1="80.4" x2="293.3" y2="82.4" stroke="#1a1a1a" stroke-width="1.25"/><text x="0.3" y="8.3" text-anchor="start" fill="#111" font-size="10.5" font-weight="bold" >a</text><clipPath id="cb"><rect x="397.2" y="3.4" width="286.2" height="157.7"/></clipPath><g clip-path="url(#cb)"><path d="M399.2 120.7h0M399.6 69.7h0M399.9 27.4h0M400.6 24.7h0M401.2 22h0M401.9 21h0M402.6 21.4h0M403.2 20.9h0M403.9 20.1h0M404.6 20.5h0M405.2 20.2h0M405.9 20.7h0M406.6 20.6h0M407.2 20.7h0M407.9 21.8h0M408.6 20.3h0M409.3 20.5h0M409.9 20.5h0M410.6 21.8h0M411.3 21.8h0M411.9 21.3h0M412.6 21.1h0M413.3 20.6h0M413.9 20.8h0M414.6 20.5h0M415.3 21.2h0M415.9 20.6h0M416.6 20.6h0M417.3 21.2h0M417.9 19.8h0M418.6 20.5h0M419.3 20.1h0M419.9 21.2h0M420.6 21.2h0M421.3 21h0M421.9 20.9h0M422.6 20.4h0M423.3 20.7h0M423.9 21.1h0M424.6 21.4h0M425.3 21.1h0M426 20.1h0M426.6 21.3h0M427.3 20.7h0M428 20.5h0M428.6 21.7h0M429.3 20.8h0M430 20h0M430.6 22h0M431.3 21h0M432 20.9h0M432.6 21.3h0M433.3 20.5h0M434 20.8h0M434.6 21.7h0M435.3 20.3h0M436 20.4h0M436.6 20.2h0M437.3 19.9h0M438 20.6h0M438.6 20.7h0M439.3 21.6h0M440 20.4h0M440.6 21.2h0M441.3 21.1h0M442 21.6h0M442.7 21.4h0M443.3 21.1h0M444 20h0M444.7 22h0M445.3 21.7h0M446 20.7h0M446.7 19.9h0M447.3 20.5h0M448 21.9h0M448.7 22.3h0M449.3 20.6h0M450 21.2h0M450.7 21.5h0M451.3 20.2h0M452 20.1h0M452.7 20.7h0M453.3 20.7h0M454 20.5h0M454.7 19.8h0M455.3 20.4h0M456 20.5h0M456.7 20.5h0M457.3 21.7h0M458 20h0M458.7 20.2h0M459.4 20.5h0M460 22h0M460.7 21.2h0M461.4 20.3h0M462 21.9h0M462.7 20.9h0M463.4 20.2h0M464 21.6h0M464.7 19.8h0M465.4 20.5h0M466 20.9h0M466.7 20.6h0M467.4 20.4h0M468 20.7h0M468.7 20.1h0M469.4 21.2h0M470 21h0M470.7 20.2h0M471.4 20.8h0M472 21.3h0M472.7 20.2h0M473.4 19.9h0M474 21.1h0M474.7 21.6h0M475.4 20.9h0M476.1 20.9h0M476.7 21h0M477.4 20h0M478.1 21.4h0M478.7 20h0M479.4 21.6h0M480.1 21.3h0M480.7 20.4h0M481.4 20.1h0M482.1 20.3h0M482.7 20.6h0M483.4 20.7h0M484.1 20.7h0M484.7 20.5h0M485.4 20.9h0M486.1 20.6h0M486.7 20.5h0M487.4 20.8h0M488.1 20.3h0M488.7 20.5h0M489.4 19.6h0M490.1 20.6h0M490.8 21.1h0M491.4 21h0M492.1 20.8h0M492.8 20.2h0M493.4 21h0M494.1 20.6h0M494.8 19.7h0M495.4 22.3h0M496.1 21.5h0M496.8 20.7h0M497.4 20.6h0M498.1 20.7h0M498.8 21.1h0M499.4 20.4h0M500.1 20.6h0M500.8 21.1h0M501.4 19.3h0M502.1 20.6h0M502.8 21.1h0M503.4 20.9h0M504.1 20.9h0M504.8 20.8h0M505.4 22.4h0M506.1 21.1h0M506.8 20.2h0M507.4 21.5h0M508.1 20.8h0M508.8 20.2h0M509.5 20.3h0M510.1 19.9h0M510.8 21.8h0M511.5 21h0M512.1 21h0M512.8 20.4h0M513.5 20.1h0M514.1 22.4h0M514.8 20.1h0M515.5 21.7h0M516.1 20.4h0M516.8 21.7h0M517.5 20.7h0M518.1 20.1h0M518.8 20.9h0M519.5 20.7h0M520.1 20.3h0M520.8 20.7h0M521.5 20.9h0M522.1 19.9h0M522.8 20.2h0M523.5 21h0M524.1 19.2h0M524.8 21.5h0M525.5 20.3h0M526.2 21h0M526.8 20.7h0M520.8 7.4h0M520.5 32.2h0M516.5 35.9h0" stroke="#3f80b8" stroke-width="5.0" stroke-linecap="round" fill="none"/><path d="M399.2 59.2h0M399.9 24.3h0M400.6 22.1h0M401.2 19.8h0M401.9 18.5h0M402.6 21.8h0M403.2 16.9h0M403.9 18.7h0M404.6 17h0M405.2 18h0M405.9 17.9h0M406.6 16.6h0M407.2 17h0M407.9 16.8h0M408.6 17h0M409.3 17.7h0M409.9 17.7h0M410.6 22.5h0M411.3 17.3h0M411.9 22.2h0M412.6 17h0M413.3 16.5h0M413.9 17.8h0M414.6 12.8h0M415.3 18.1h0M415.9 18.6h0M416.6 16.9h0M417.3 17.5h0M417.9 16.1h0M418.6 18.3h0M419.3 16.9h0M419.9 20.7h0M420.6 18.3h0M421.3 21.1h0M421.9 17.5h0M422.6 15.7h0M423.3 17.1h0M423.9 19.2h0M424.6 18.3h0M425.3 17.2h0M426 18.2h0M426.6 17.4h0M427.3 15.7h0M428 18.7h0M428.6 19.5h0M429.3 17.8h0M430 17.7h0M430.6 18h0M431.3 16.1h0M432 16.1h0M432.6 14h0M433.3 16.7h0M434 18h0M434.6 16.6h0M435.3 16.7h0M436 16.4h0M436.6 16.9h0M437.3 12.4h0M438 16.4h0M438.6 17.1h0M439.3 14.8h0M440 16.2h0M440.6 20.4h0M441.3 12.1h0M442 18.2h0M442.7 19.1h0M443.3 18.2h0M444 17.3h0M444.7 17h0M445.3 17.7h0M446 16.8h0M446.7 17.2h0M447.3 21h0M448 16.5h0M448.7 21.3h0M449.3 17.5h0M450 17.2h0M450.7 16.6h0M451.3 17.8h0M452 17.3h0M452.7 17.4h0M453.3 20.1h0M454 17.8h0M454.7 17.4h0M455.3 15.9h0M456 16.2h0M456.7 16.7h0M457.3 18h0M458 16.4h0M458.7 17.3h0M459.4 17.8h0M460 21.3h0M460.7 18.5h0M461.4 13.8h0M462 17.6h0M462.7 17.8h0M463.4 17.7h0M464 17.1h0M464.7 14.9h0M465.4 17.8h0M466 16.4h0M466.7 13.9h0M467.4 17.4h0M468 15.9h0M468.7 19.8h0M469.4 16.3h0M470 17.5h0M470.7 17.5h0M471.4 16.1h0M472 15.6h0M472.7 17.1h0M473.4 18.6h0M474 17.6h0M474.7 17.5h0M475.4 18.1h0M476.1 17.3h0M476.7 15.9h0M477.4 18h0M478.1 15.8h0M478.7 17.1h0M479.4 19.5h0M480.1 17.6h0M480.7 15.8h0M481.4 16.2h0M482.1 18.2h0M482.7 22.7h0M483.4 18.3h0M484.1 13.5h0M484.7 16.6h0M485.4 16.9h0M486.1 17.4h0M486.7 19.6h0M487.4 18.6h0M488.1 17h0M488.7 13.1h0M489.4 17.5h0M490.1 17.5h0M489.7 4.4h0M482.7 11.9h0M471.4 31.5h0M469.7 36.7h0M483.7 28.4h0M484.1 34.4h0M488.4 41.9h0M482.7 44.9h0M483.1 50.2h0M489.1 74.2h0M489.1 77.2h0M470.7 13.4h0" stroke="#f0b83a" stroke-width="5.0" stroke-linecap="round" fill="none"/><path d="M399.2 53.2h0M399.9 29.2h0M400.6 26.2h0M401.2 23.2h0M401.9 17.5h0M402.6 17.6h0M403.2 19.1h0M403.9 17.9h0M404.6 18.1h0M405.2 17.1h0M405.9 17.7h0M406.6 20.3h0M407.2 18.6h0M407.9 18.1h0M408.6 17.2h0M409.3 17.5h0M409.9 18h0M410.6 17.7h0M411.3 20.4h0M411.9 18.1h0M412.6 17.2h0M413.3 18h0M413.9 16.5h0M414.6 18.8h0M415.3 17.7h0M415.9 17.8h0M416.6 18h0M417.3 18.5h0M417.9 18.6h0M418.6 17.2h0M419.3 18.4h0M419.9 18.4h0M420.6 17.4h0M421.3 17.5h0M421.9 19.5h0M422.6 17.9h0M423.3 18.3h0M423.9 17.7h0M424.6 16.9h0M425.3 18.3h0M426 19h0M426.6 17.3h0M427.3 18.6h0M428 17.6h0M428.6 17.5h0M429.3 17.5h0M430 18.3h0M430.6 17.3h0M431.3 19.4h0M432 16.9h0M432.6 17.9h0M433.3 17.8h0M434 18h0M434.6 18.5h0M435.3 17.3h0M436 17.7h0M436.6 17.7h0M437.3 18.2h0M438 16.8h0M438.6 18.5h0M439.3 17.6h0M440 18.4h0M440.6 16.9h0M441.3 17.6h0M442 18.2h0M442.7 18.3h0M443.3 17.2h0M444 18.1h0M444.7 18.5h0M445.3 16.8h0M446 17.8h0M446.7 18.7h0M447.3 16.7h0M448 17.7h0M448.7 19.2h0M449.3 17.1h0M450 18.4h0M450.7 18.1h0M451.3 16.4h0M452 17.1h0M452.7 18.8h0M453.3 17.4h0M454 17h0M454.7 16.8h0M455.3 19.6h0M456 17.8h0M456.7 18.4h0M457.3 18.1h0M458 18.5h0M458.7 17.6h0M459.4 18h0M460 16.7h0M460.7 18.4h0M461.4 18.6h0M462 17.9h0M462.7 17.1h0M463.4 18.1h0M464 18.3h0M464.7 18.1h0M465.4 18.2h0M466 19.3h0M466.7 18h0M467.4 18.7h0M468 18.2h0M468.7 18.6h0M469.4 16.9h0M470 18.8h0M470.7 17.5h0M471.4 17.9h0M472 17.5h0M472.7 18.6h0M473.4 18.2h0M474 18.9h0M474.7 16.9h0M475.4 17.9h0M476.1 17.8h0M476.7 17.4h0M477.4 18.5h0M478.1 18h0M478.7 18.5h0M479.4 18.1h0M480.1 16.7h0M480.7 18.9h0M481.4 17.9h0M482.1 18.7h0M482.7 17.1h0M483.4 19.3h0M484.1 18.2h0M484.7 17.8h0M485.4 18.2h0M486.1 17.4h0M486.7 18.4h0M487.4 18.4h0M488.1 18.6h0M488.7 18.5h0M489.4 16.7h0M490.1 17.6h0M490.8 16.9h0M491.4 16.7h0M492.1 18.2h0M492.8 15.3h0M493.4 16.1h0M494.1 17.6h0M494.8 16.7h0M495.4 10.8h0M496.1 16.3h0M496.8 17.9h0M497.4 11.2h0M498.1 11.2h0M498.8 17.2h0M499.4 18.7h0M500.1 11.3h0M500.8 10.7h0M501.4 10.9h0M502.1 19.3h0M502.8 17.4h0M503.4 16.5h0M504.1 17.3h0M504.8 16.1h0M505.4 11.3h0M506.1 15.4h0M506.8 16.4h0M507.4 16.6h0M508.1 18h0M508.8 16.8h0M509.5 16.9h0M510.1 16.8h0M510.8 16h0M511.5 16.5h0M512.1 16.5h0M512.8 16h0M513.5 16h0M514.1 16.2h0M514.8 11.5h0M515.5 12.1h0M516.1 15.8h0M516.8 16.7h0M517.5 16.5h0M518.1 16.1h0M518.8 11.5h0M519.5 16.4h0M520.1 15.8h0M520.8 17.3h0M521.5 15.7h0M522.1 11.5h0M522.8 16.1h0M523.5 16.4h0M524.1 16.8h0M524.8 17.6h0M525.5 16.7h0M526.2 12.3h0M526.8 17.2h0M527.5 16.7h0M528.2 16.5h0M528.8 22.5h0M529.5 16.4h0M530.2 15.4h0M530.8 12.5h0M531.5 11.4h0M532.2 16.4h0M532.8 21.4h0M533.5 16.9h0M534.2 21.2h0M534.8 12h0M535.5 15.3h0M536.2 16.8h0M536.8 20.6h0M537.5 21.4h0M538.2 12h0M538.8 13.8h0M539.5 16.2h0M540.2 15.3h0M540.9 12.7h0M541.5 15.9h0M542.2 20.5h0M542.9 15.9h0M543.5 22.9h0M544.2 12.3h0M544.9 15.9h0M545.5 21.3h0M525.8 30.7h0M540.9 33.7h0M541.9 53.2h0M543.9 75.7h0M544.9 96.7h0M544.2 103.4h0M543.9 110.2h0M543.9 126.7h0M542.9 153.7h0M544.5 159h0" stroke="#96d1c6" stroke-width="5.0" stroke-linecap="round" fill="none"/><path d="M399.2 44.2h0M399.6 63.7h0M399.9 29.2h0M400.2 27.7h0M400.6 26.2h0M400.9 24.7h0M401.2 23.2h0M401.6 21.7h0M401.9 20.2h0M402.2 16.6h0M402.6 16.3h0M402.9 18.1h0M403.2 18.6h0M403.6 18.6h0M403.9 17.5h0M404.2 17h0M404.6 17.7h0M404.9 18.2h0M405.2 17.7h0M405.6 17.2h0M405.9 17.1h0M406.2 16.9h0M406.6 16.6h0M406.9 17.1h0M407.2 18.5h0M407.6 16.6h0M407.9 18h0M408.3 17.3h0M408.6 17.8h0M408.9 16.9h0M409.3 18.3h0M409.6 18.1h0M409.9 18.1h0M410.3 18.4h0M410.6 16.5h0M410.9 17.3h0M411.3 17.9h0M411.6 17.7h0M411.9 16.2h0M412.3 17.4h0M412.6 18.1h0M412.9 16.7h0M413.3 17.1h0M413.6 16.2h0M413.9 18.5h0M414.3 17.5h0M414.6 16.6h0M414.9 16.6h0M415.3 16.4h0M415.6 18.6h0M415.9 18h0M416.3 18.4h0M416.6 18.2h0M416.9 16.2h0M417.3 17.2h0M417.6 16.3h0M417.9 17.7h0M418.3 16.5h0M418.6 17.5h0M418.9 18h0M419.3 16.7h0M419.6 16.3h0M419.9 18.4h0M420.3 17.1h0M420.6 17.1h0M420.9 18.1h0M421.3 17.7h0M421.6 18.3h0M421.9 18.1h0M422.3 18h0M422.6 17.1h0M422.9 17h0M423.3 18.1h0M423.6 18.6h0M423.9 17.8h0M424.3 16.9h0M424.6 18.2h0M425 17.8h0M425.3 18.1h0M425.6 16.6h0M426 17.2h0M426.3 18.5h0M426.6 18.4h0M427 17.6h0M427.3 17.2h0M427.6 17h0M428 18.4h0M428.3 18.2h0M428.6 16.8h0M429 17.5h0M429.3 17.9h0M429.6 17.8h0M430 16.2h0M430.3 17.8h0M430.6 17.1h0M431 17.7h0M431.3 17.5h0M431.6 16.4h0M432 16h0M432.3 17.6h0M432.6 18.1h0M433 16.7h0M433.3 18h0M433.6 18.5h0M434 16.2h0M434.3 17.5h0M434.6 16.4h0M435 17.5h0M435.3 16.3h0M435.6 17.4h0M436 18.1h0M436.3 18.5h0M436.6 17.1h0M437 16.9h0M437.3 16.2h0M437.6 18.3h0M438 16.9h0M438.3 17.6h0M438.6 17.2h0M439 18.1h0M439.3 17.8h0M439.6 17.2h0M440 16.1h0M440.3 18.2h0M440.6 17.2h0M441 16.4h0M441.3 16h0M441.7 18h0M442 18.2h0M442.3 16.1h0M442.7 16h0M443 17.2h0M443.3 18.3h0M443.7 16.1h0M444 17.5h0M444.3 16.2h0M444.7 16.9h0M445 16.3h0M445.3 18h0M445.7 16.4h0M446 17.9h0M446.3 17.4h0M446.7 16.3h0M447 16.3h0M447.3 18h0M447.7 17.9h0M448 17.4h0M448.3 17.1h0M448.7 17.4h0M449 18.1h0M449.3 17.8h0M449.7 16.6h0M450 16.1h0M450.3 18.3h0M450.7 17h0M451 16.5h0M451.3 18.3h0M451.7 16.3h0M452 18.1h0M452.3 16.9h0M452.7 17h0M453 16.8h0M453.3 17.6h0M453.7 17.3h0M454 16.9h0M454.3 17.3h0M454.7 16.7h0M455 17.2h0M455.3 17.2h0M455.7 18.3h0M456 16.8h0M456.3 17.1h0M456.7 17.8h0M457 16.4h0M457.3 16.4h0M457.7 17.2h0M458 17.9h0M458.4 17.1h0M458.7 18.1h0M459 18h0M459.4 17.2h0M459.7 18.1h0M460 17.2h0M460.4 17h0M460.7 18.2h0M461 16.7h0M461.4 18.1h0M461.7 16.4h0M462 16.3h0M462.4 17h0M462.7 18.2h0M463 17h0M463.4 17.3h0M463.7 15.9h0M464 17.9h0M464.4 16.1h0M464.7 15.7h0M465 16.4h0M465.4 16.2h0M465.7 17.8h0M466 15.8h0M466.4 17h0M466.7 15.8h0M467 15.9h0M467.4 17.8h0M467.7 16.2h0M468 15.9h0M468.4 18.1h0M468.7 17.4h0M469 16.3h0M469.4 17.8h0M469.7 16h0M470 17.5h0M470.4 16.2h0M470.7 17.9h0M471 16.9h0M471.4 15.9h0M471.7 17.7h0M472 17.5h0M472.4 16.9h0M472.7 17.4h0M473 18.1h0M473.4 17.7h0M473.7 17.8h0M474 15.8h0M474.4 16.5h0M474.7 15.9h0M475.1 17.8h0M475.4 16.2h0M475.7 17.9h0M476.1 16.8h0M476.4 16.6h0M476.7 17.3h0M477.1 15.9h0M477.4 16.8h0M477.7 16.7h0M478.1 15.9h0M478.4 17.9h0M478.7 15.6h0M479.1 16.6h0M479.4 17.1h0M479.7 16.1h0M480.1 17.5h0M480.4 15.6h0M480.7 16.7h0M481.1 17.2h0M481.4 16.2h0M481.7 17h0M482.1 17.7h0M482.4 16.2h0M482.7 18h0M483.1 16h0M483.4 17.5h0M483.7 16.5h0M484.1 15.6h0M484.4 16.6h0M484.7 16.4h0M485.1 17.3h0M485.4 18.1h0M485.7 18h0M486.1 17.7h0M486.4 16.5h0M486.7 17h0M487.1 16.8h0M487.4 15.8h0M487.7 17.7h0M488.1 17.5h0M488.4 16.4h0M488.7 18h0M489.1 18.1h0M489.4 17.2h0M489.7 17.8h0M490.1 17.2h0M490.4 17.5h0M490.8 16.6h0M491.1 16.6h0M491.4 17.5h0M491.8 16.5h0M492.1 16.8h0M492.4 17.7h0M492.8 15.7h0M493.1 17.4h0M493.4 17.7h0M493.8 17.8h0M494.1 16.4h0M494.4 15.8h0M494.8 16h0M495.1 17h0M495.4 17.3h0M495.8 18h0M496.1 16.4h0M496.4 16.6h0M496.8 17.1h0M497.1 16.4h0M497.4 16.9h0M497.8 15.6h0M498.1 16.1h0M498.4 17.4h0M498.8 15.7h0M499.1 17.9h0M499.4 16.6h0M499.8 16.9h0M500.1 17.4h0M500.4 17.8h0M500.8 16h0M501.1 17.9h0M501.4 16.6h0M501.8 15.6h0M502.1 17.6h0M502.4 17.4h0M502.8 16.4h0M503.1 16.7h0M503.4 16.3h0M503.8 15.9h0M504.1 17.5h0M504.4 17.1h0M504.8 17.2h0M505.1 17.8h0M505.4 15.7h0M505.8 15.9h0M506.1 16.1h0M506.4 17.9h0M506.8 15.8h0M507.1 16h0M507.4 16.7h0M507.8 16h0M508.1 16.8h0M508.5 17.3h0M508.8 17.6h0M509.1 17.3h0M509.5 17.8h0M509.8 17h0M510.1 16h0M510.5 16.1h0M510.8 15.7h0M511.1 16.1h0M511.5 17.2h0M511.8 16.5h0M512.1 16.8h0M512.5 15.9h0M512.8 16.5h0M513.1 17.2h0M513.5 16.2h0M513.8 15.4h0M514.1 17.3h0M514.5 15.6h0M514.8 17.8h0M515.1 17.2h0M515.5 17.2h0M515.8 15.9h0M516.1 15.4h0M516.5 15.9h0M516.8 17h0M517.1 15.6h0M517.5 17h0M517.8 17.2h0M518.1 15.5h0M518.5 16.2h0M518.8 16h0M519.1 16.1h0M519.5 15.3h0M519.8 16.6h0M520.1 15.7h0M520.5 16h0M520.8 15.6h0M521.1 16.7h0M521.5 15.9h0M521.8 16.3h0M522.1 17h0M522.5 17.2h0M522.8 16.2h0M523.1 17.6h0M523.5 15.5h0M523.8 17.4h0M524.1 17.7h0M524.5 17.5h0M524.8 15.4h0M525.2 16.9h0M525.5 17.4h0M525.8 17.7h0M526.2 17.6h0M526.5 16h0M526.8 16.1h0M527.2 16h0M527.5 15.9h0M527.8 17.6h0M528.2 16.2h0M528.5 16.8h0M528.8 15.6h0M529.2 15.6h0M529.5 15.4h0M529.8 17.6h0M530.2 15.5h0M530.5 15.4h0M530.8 15.3h0M531.2 17.4h0M531.5 17.2h0M531.8 17.4h0M532.2 17.6h0M532.5 15.5h0M532.8 15.6h0M533.2 16.1h0M533.5 15.6h0M533.8 16.1h0M534.2 16.9h0M534.5 17.4h0M534.8 17.4h0M535.2 15.7h0M535.5 17.1h0M535.8 16.9h0M536.2 16.6h0M536.5 17.6h0M536.8 17h0M537.2 16.9h0M537.5 15.8h0M537.8 16.7h0M538.2 16.8h0M538.5 15.2h0M538.8 16.4h0M539.2 15.5h0M539.5 16.1h0M539.8 17.6h0M540.2 16.6h0M540.5 16.5h0M540.9 15.7h0M541.2 16.7h0M541.5 15.8h0M541.9 16.2h0M542.2 17.1h0M542.5 15.4h0M542.9 17.4h0M543.2 15.5h0M543.5 17.2h0M543.9 17.6h0M544.2 17.1h0M544.5 15.6h0M544.9 15.1h0M545.2 17.6h0M545.5 16.3h0M545.9 16.3h0M546.2 15.5h0M546.5 17.1h0M546.9 16.3h0M547.2 16.7h0M547.5 15.4h0M547.9 16.9h0M548.2 15.2h0M548.5 16.8h0M548.9 17h0M549.2 15.8h0M549.5 16.3h0M549.9 17.3h0M550.2 15.9h0M550.5 17.3h0M550.9 15.5h0M551.2 15.8h0M551.5 15.5h0M551.9 15.9h0M552.2 16.6h0M552.5 16.5h0M552.9 16.5h0M553.2 15.2h0M553.5 17.3h0M553.9 15.2h0M554.2 17.4h0M554.5 17h0M554.9 16.8h0M555.2 15.2h0M555.5 16.2h0M555.9 16.5h0M556.2 15.2h0M556.5 16.9h0M556.9 16.3h0M557.2 16.1h0M557.5 15.6h0M557.9 15.6h0M558.2 15.8h0M558.6 16.6h0M558.9 16.6h0M559.2 17.1h0M559.6 15.3h0M559.9 15.8h0M560.2 15.6h0M560.6 17h0M560.9 16.3h0M561.2 15.5h0M561.6 16h0M561.9 17.1h0M562.2 16.3h0M562.6 15.2h0M562.9 16.8h0M563.2 16.9h0M563.6 16.7h0M563.9 15.6h0M564.2 15.3h0M564.6 17h0M564.9 17h0M565.2 16.8h0M565.6 16.6h0M565.9 16.1h0M566.2 17h0M566.6 16.6h0M566.9 16.9h0M567.2 14.9h0M567.6 15.5h0M567.9 17.1h0M568.2 14.9h0M568.6 17.1h0M568.9 16.4h0M569.2 14.9h0M569.6 15.3h0M569.9 15.5h0M570.2 16.3h0M570.6 16.9h0M570.9 15.7h0M571.2 17.1h0M571.6 16.8h0M571.9 16.4h0M572.2 17.3h0M572.6 16.3h0M572.9 15.3h0M573.2 15.6h0M573.6 16.1h0M573.9 15.7h0M574.2 16.2h0M574.6 17h0M574.9 15.8h0M575.3 16.3h0M575.6 15.4h0M575.9 15h0M576.3 16.2h0M576.6 15.9h0M576.9 15.4h0M577.3 16.2h0M577.6 16.7h0M577.9 15.5h0M578.3 15.1h0M578.6 15.3h0M578.9 15.5h0M579.3 15.1h0M579.6 15.6h0M579.9 15.7h0M580.3 16.1h0M580.6 16.5h0M580.9 15.7h0M581.3 17h0M581.6 16.2h0M581.9 15.3h0M582.3 15.4h0M582.6 15.7h0M582.9 16.6h0M583.3 16.2h0M583.6 16.1h0M583.9 15.7h0M584.3 16.2h0M584.6 15.5h0M584.9 14.9h0M585.3 16.8h0M585.6 15.6h0M585.9 15.3h0M586.3 16.2h0M586.6 16h0M586.9 14.7h0M587.3 17.1h0M587.6 15.8h0M587.9 16.8h0M588.3 15.2h0M588.6 14.8h0M588.9 15.9h0M589.3 16.9h0M589.6 15.7h0M589.9 15.8h0M590.3 15.4h0M590.6 15.9h0M591 15.6h0M591.3 15.1h0M591.6 15.9h0M592 16.1h0M592.3 14.8h0M592.6 16.6h0M593 15.4h0M593.3 16.2h0M593.6 15.2h0M594 16.9h0M594.3 14.7h0M594.6 16.3h0M595 17h0M595.3 16.5h0M595.6 16.1h0M596 17.1h0M596.3 16.1h0M596.6 16.1h0M597 15.4h0M597.3 16.2h0M597.6 16.5h0M598 16.6h0M598.3 15.2h0M598.6 14.7h0M599 15.8h0M599.3 16.6h0M599.6 15.1h0M600 16.1h0M600.3 16.6h0M600.6 16.8h0M601 15.1h0M601.3 15h0M601.6 15.5h0M602 15.9h0M602.3 15.7h0M602.6 16.5h0M603 14.6h0M603.3 16.2h0M603.6 15.5h0M604 15h0M604.3 15h0M604.6 15.9h0M605 16.3h0M605.3 15.7h0M605.6 16.7h0M606 14.9h0M606.3 16.2h0M606.6 14.9h0M607 16.4h0M607.3 16.1h0M607.6 16.4h0M608 16h0M608.3 16.6h0M608.7 17h0M609 15.2h0M609.3 16.3h0M609.7 16.4h0M610 16.3h0M610.3 15.8h0M610.7 15.9h0M611 15.4h0M611.3 15.3h0M611.7 16.1h0M612 14.6h0M612.3 14.8h0M612.7 16.9h0M613 14.9h0M613.3 14.7h0M613.7 15h0M614 16.6h0M614.3 14.9h0M614.7 15.4h0M615 16.9h0M615.3 17h0M615.7 14.6h0M616 15.3h0M616.3 16.3h0M616.7 16.7h0M617 16.6h0M617.3 16.4h0M617.7 15h0M618 16.1h0M618.3 16.6h0M618.7 14.7h0M619 15h0M619.3 16.5h0M619.7 14.7h0M620 15.4h0M620.3 15h0M620.7 15.3h0M621 14.7h0M621.3 15h0M621.7 14.8h0M622 16.5h0M622.3 15.2h0M622.7 15.6h0M623 15.1h0M623.3 15.9h0M623.7 14.7h0M624 15.6h0M624.4 16.3h0M624.7 16.4h0M625 16.6h0M625.4 15.7h0M625.7 16.8h0M626 15.8h0M626.4 16.6h0M626.7 15.7h0M627 15.7h0M627.4 15.6h0M627.7 14.8h0M628 17h0M628.4 14.8h0M628.7 15.8h0M629 15.5h0M629.4 15.3h0M629.7 14.8h0M630 16h0M630.4 15.9h0M630.7 14.5h0M631 16.8h0M631.4 15.4h0M631.7 15.4h0M632 16.9h0M632.4 15.4h0M632.7 15.2h0M633 14.6h0M633.4 16.1h0M633.7 14.5h0M634 15.7h0M634.4 15.7h0M634.7 14.7h0M635 16.9h0M635.4 15.1h0M635.7 15.4h0M636 16.1h0M636.4 14.8h0M636.7 16h0M637 15.8h0M637.4 15.6h0M637.7 15h0M638 16.4h0M638.4 15.9h0M638.7 15.9h0M639 15.6h0M639.4 14.9h0M639.7 16.2h0M640 14.9h0M640.4 15.9h0M640.7 15.7h0M641 16.3h0M641.4 15.7h0M641.7 14.5h0M642.1 15.3h0M642.4 15h0M642.7 16.1h0M643.1 16.2h0M643.4 16.2h0M643.7 15.5h0M644.1 15.4h0M644.4 15h0M644.7 16.9h0M645.1 15.1h0M645.4 14.7h0M645.7 15.6h0M646.1 16.8h0M646.4 16.2h0M646.7 17h0M647.1 16.5h0M647.4 14.6h0M647.7 15.4h0M648.1 15.3h0M648.4 15h0M648.7 14.7h0M649.1 15.4h0M649.4 15.4h0M649.7 15.4h0M650.1 15.2h0M650.4 15.5h0M650.7 15.2h0M651.1 16.4h0M651.4 15.3h0M651.7 15.8h0M652.1 15h0M652.4 16.7h0M652.7 16.5h0M653.1 16.9h0M653.4 15h0M653.7 14.6h0M654.1 15.3h0M654.4 16h0M654.7 14.9h0M655.1 15h0M655.4 15.5h0M655.7 16.3h0M656.1 16.2h0M656.4 15.9h0M656.7 16.2h0M657.1 15.9h0M657.4 15.3h0M657.8 14.6h0M658.1 16.8h0M658.4 15.5h0M658.8 16.9h0M659.1 16.7h0M659.4 14.9h0M659.8 15.5h0M660.1 14.6h0M660.4 15.8h0M660.8 16.9h0M661.1 16h0M661.4 15.5h0M661.8 14.6h0M662.1 14.5h0M662.4 15.8h0M662.8 15.9h0M663.1 16.7h0M663.4 15.3h0M663.8 16.4h0M664.1 16.6h0M664.4 16.9h0M664.8 17h0M665.1 15.2h0M665.4 16.7h0M665.8 14.5h0M666.1 16.8h0M666.4 14.8h0M666.8 16.6h0M667.1 16.9h0M667.4 15.1h0M667.8 16.4h0M668.1 15.1h0M668.4 16.5h0M668.8 16.8h0M669.1 15h0M669.4 15.2h0M669.8 14.8h0M670.1 15.1h0M670.4 16.8h0M670.8 15.4h0M671.1 15.2h0M671.4 15.8h0M671.8 14.6h0M672.1 16.3h0M672.4 14.5h0M672.8 15.1h0M673.1 16.9h0M673.4 16.9h0M673.8 15.3h0M674.1 14.9h0M674.5 16.8h0M674.8 16.2h0M675.1 15.1h0M675.5 16.6h0M675.8 14.8h0M676.1 15.7h0M676.5 16.8h0M676.8 16h0M677.1 15.5h0M677.5 15.9h0M677.8 15.2h0M678.1 16.6h0M678.5 14.9h0M678.8 16h0M679.1 15.3h0M679.5 15.4h0M679.8 15.9h0M680.1 16h0M680.5 15h0M680.8 14.6h0M681.1 15h0M681.5 15.5h0M681.8 16.2h0M682.1 16.8h0M682.5 14.5h0M682.8 15.2h0M683.1 14.9h0M683.5 16.1h0M683.8 15.4h0M684.1 14.5h0M684.5 14.9h0M684.8 15.4h0M685.1 16.2h0M685.5 15.9h0M685.8 14.7h0" stroke="#b6636c" stroke-width="5.0" stroke-linecap="round" fill="none"/></g><rect x="397.2" y="3.4" width="286.2" height="157.7" fill="none" stroke="#1a1a1a" stroke-width="1.2"/><line x1="393.2" y1="161.2" x2="397.2" y2="161.2" stroke="#1a1a1a" stroke-width="1.25"/><text x="389.7" y="164.8" text-anchor="end" fill="#111" font-size="12.4" >80</text><line x1="393.2" y1="131.2" x2="397.2" y2="131.2" stroke="#1a1a1a" stroke-width="1.25"/><text x="389.7" y="134.8" text-anchor="end" fill="#111" font-size="12.4" >84</text><line x1="393.2" y1="101.2" x2="397.2" y2="101.2" stroke="#1a1a1a" stroke-width="1.25"/><text x="389.7" y="104.8" text-anchor="end" fill="#111" font-size="12.4" >88</text><line x1="393.2" y1="71.2" x2="397.2" y2="71.2" stroke="#1a1a1a" stroke-width="1.25"/><text x="389.7" y="74.8" text-anchor="end" fill="#111" font-size="12.4" >92</text><line x1="393.2" y1="41.2" x2="397.2" y2="41.2" stroke="#1a1a1a" stroke-width="1.25"/><text x="389.7" y="44.8" text-anchor="end" fill="#111" font-size="12.4" >96</text><line x1="393.2" y1="11.2" x2="397.2" y2="11.2" stroke="#1a1a1a" stroke-width="1.25"/><text x="389.7" y="14.8" text-anchor="end" fill="#111" font-size="12.4" >100</text><line x1="395.2" y1="146.2" x2="397.2" y2="146.2" stroke="#1a1a1a" stroke-width="1.25"/><line x1="395.2" y1="116.2" x2="397.2" y2="116.2" stroke="#1a1a1a" stroke-width="1.25"/><line x1="395.2" y1="86.2" x2="397.2" y2="86.2" stroke="#1a1a1a" stroke-width="1.25"/><line x1="395.2" y1="56.2" x2="397.2" y2="56.2" stroke="#1a1a1a" stroke-width="1.25"/><line x1="395.2" y1="26.2" x2="397.2" y2="26.2" stroke="#1a1a1a" stroke-width="1.25"/><line x1="398.9" y1="161.1" x2="398.9" y2="165.1" stroke="#1a1a1a" stroke-width="1.25"/><text x="398.9" y="178.4" text-anchor="middle" fill="#111" font-size="12.4" >0</text><line x1="465.7" y1="161.1" x2="465.7" y2="165.1" stroke="#1a1a1a" stroke-width="1.25"/><text x="465.7" y="178.4" text-anchor="middle" fill="#111" font-size="12.4" >200</text><line x1="532.5" y1="161.1" x2="532.5" y2="165.1" stroke="#1a1a1a" stroke-width="1.25"/><text x="532.5" y="178.4" text-anchor="middle" fill="#111" font-size="12.4" >400</text><line x1="599.3" y1="161.1" x2="599.3" y2="165.1" stroke="#1a1a1a" stroke-width="1.25"/><text x="599.3" y="178.4" text-anchor="middle" fill="#111" font-size="12.4" >600</text><line x1="666.1" y1="161.1" x2="666.1" y2="165.1" stroke="#1a1a1a" stroke-width="1.25"/><text x="666.1" y="178.4" text-anchor="middle" fill="#111" font-size="12.4" >800</text><line x1="432.3" y1="161.1" x2="432.3" y2="163.1" stroke="#1a1a1a" stroke-width="1.25"/><line x1="499.1" y1="161.1" x2="499.1" y2="163.1" stroke="#1a1a1a" stroke-width="1.25"/><line x1="565.9" y1="161.1" x2="565.9" y2="163.1" stroke="#1a1a1a" stroke-width="1.25"/><line x1="632.7" y1="161.1" x2="632.7" y2="163.1" stroke="#1a1a1a" stroke-width="1.25"/><text x="540.2" y="191.5" text-anchor="middle" fill="#111" font-size="12" >Cycle number</text><text x="363.3" y="82" text-anchor="middle" fill="#111" font-size="12.3" transform="rotate(-90 363.3 82)">Coulombic efficiency (%)</text><text x="425.8" y="42.7" text-anchor="start" fill="#111" font-size="12" >30 &#176;C</text><text x="471.7" y="98" text-anchor="start" fill="#111" font-size="12" >Avg. CE</text><text x="428" y="111.5" text-anchor="start" fill="#96d1c6" font-size="12" >PM</text><text x="475" y="111.5" text-anchor="start" fill="#96d1c6" font-size="12" >99.2%</text><text x="428" y="124.7" text-anchor="start" fill="#f0b83a" font-size="12" >BM</text><text x="475" y="124.7" text-anchor="start" fill="#f0b83a" font-size="12" >99.1%</text><text x="428" y="137.8" text-anchor="start" fill="#b6636c" font-size="12" >TFPM</text><text x="475" y="137.8" text-anchor="start" fill="#b6636c" font-size="12" >99.3%</text><text x="428" y="150.9" text-anchor="start" fill="#3f80b8" font-size="12" >TFBM</text><text x="475" y="150.9" text-anchor="start" fill="#3f80b8" font-size="12" >99.0%</text><text x="677.8" y="155.4" fill="#111" font-size="12" text-anchor="end">1 mA cm<tspan font-size="8" dy="-4.5">&#8722;2</tspan><tspan dy="4.5">, 1 mAh cm</tspan><tspan font-size="8" dy="-4.5">&#8722;2</tspan></text><text x="350.6" y="8" text-anchor="start" fill="#111" font-size="10.5" font-weight="bold" >b</text><clipPath id="cc"><rect x="45.5" y="204.5" width="286.2" height="157.7"/></clipPath><path d="M45.5 317.3 L46.4 314.6 L47.3 313.4 L48.3 312.8 L49.2 312.6 L50.1 312.5 L51 312.5 L51.9 312.5 L52.9 312.4 L53.8 312.4 L54.7 312.4 L55.6 312.4 L56.5 312.4 L57.5 312.4 L58.4 312.5 L59.3 312.5 L60.2 312.5 L61.1 312.6 L62.1 312.6 L63 312.7 L63.9 312.7 L64.8 312.8 L65.7 312.9 L66.7 313 L67.6 313.1 L68.5 313.2 L69.4 313.3 L70.3 313.5 L71.3 313.6 L72.2 313.8 L73.1 313.9 L74 314.1 L74.9 314.3 L75.9 314.4 L76.8 314.6 L77.7 314.8 L78.6 315.1 L79.5 315.3 L80.5 315.5 L81.4 315.8 L82.3 316 L83.2 316.3 L84.1 316.5 L85.1 316.8 L86 317.1 L86.9 317.4 L87.8 317.7 L88.7 318 L89.7 318.3 L90.6 318.7 L91.5 319 L91.5 281 L92.2 282.5 L92.9 283.2 L93.6 283.5 L94.3 283.8 L95 284 L95.7 284.2 L96.5 284.4 L97.2 284.6 L97.9 284.8 L98.6 285 L99.3 285.1 L100 285.3 L100.7 285.5 L100.7 313.5 L101.4 313.6 L102.2 313.8 L102.9 314 L103.7 314.2 L104.4 314.4 L105.2 314.6 L105.9 314.9 L106.6 315.2 L107.4 315.7 L108.1 316.3 L108.9 317.2 L109.6 318.3 L110.4 319.9 L110.4 281 L111.1 282.5 L111.8 283.2 L112.5 283.5 L113.2 283.8 L113.9 284 L114.6 284.2 L115.3 284.4 L116 284.6 L116.7 284.8 L117.4 285 L118.1 285.1 L118.9 285.3 L119.6 285.5 L119.6 313.5 L120.3 313.6 L121 313.8 L121.8 314 L122.5 314.2 L123.3 314.4 L124 314.6 L124.8 314.9 L125.5 315.2 L126.2 315.7 L127 316.3 L127.7 317.2 L128.5 318.3 L129.2 319.9 L129.2 281 L129.9 282.5 L130.6 283.2 L131.3 283.5 L132.1 283.8 L132.8 284 L133.5 284.2 L134.2 284.4 L134.9 284.6 L135.6 284.8 L136.3 285 L137 285.1 L137.7 285.3 L138.4 285.5 L138.4 313.5 L139.2 313.6 L139.9 313.8 L140.6 314 L141.4 314.2 L142.1 314.4 L142.9 314.6 L143.6 314.9 L144.4 315.2 L145.1 315.7 L145.9 316.3 L146.6 317.2 L147.3 318.3 L148.1 319.9 L148.1 281 L148.8 282.5 L149.5 283.2 L150.2 283.5 L150.9 283.8 L151.6 284 L152.3 284.2 L153 284.4 L153.7 284.6 L154.4 284.8 L155.2 285 L155.9 285.1 L156.6 285.3 L157.3 285.5 L157.3 313.5 L158 313.6 L158.8 313.8 L159.5 314 L160.3 314.2 L161 314.4 L161.7 314.6 L162.5 314.9 L163.2 315.2 L164 315.7 L164.7 316.3 L165.5 317.2 L166.2 318.3 L166.9 319.9 L166.9 281 L167.6 282.5 L168.4 283.2 L169.1 283.5 L169.8 283.8 L170.5 284 L171.2 284.2 L171.9 284.4 L172.6 284.6 L173.3 284.8 L174 285 L174.7 285.1 L175.4 285.3 L176.1 285.5 L176.1 313.5 L176.9 313.6 L177.6 313.8 L178.4 314 L179.1 314.2 L179.9 314.4 L180.6 314.6 L181.3 314.9 L182.1 315.2 L182.8 315.7 L183.6 316.3 L184.3 317.2 L185.1 318.3 L185.8 319.9 L185.8 281 L186.5 282.5 L187.2 283.2 L187.9 283.5 L188.6 283.8 L189.3 284 L190 284.2 L190.8 284.4 L191.5 284.6 L192.2 284.8 L192.9 285 L193.6 285.1 L194.3 285.3 L195 285.5 L195 313.5 L195.7 313.6 L196.5 313.8 L197.2 314 L198 314.2 L198.7 314.4 L199.5 314.6 L200.2 314.9 L200.9 315.2 L201.7 315.7 L202.4 316.3 L203.2 317.2 L203.9 318.3 L204.7 319.9 L204.7 281 L205.4 282.5 L206.1 283.2 L206.8 283.5 L207.5 283.8 L208.2 284 L208.9 284.2 L209.6 284.4 L210.3 284.6 L211 284.8 L211.7 285 L212.4 285.1 L213.2 285.3 L213.9 285.5 L213.9 313.5 L214.6 313.6 L215.3 313.8 L216.1 314 L216.8 314.2 L217.6 314.4 L218.3 314.6 L219.1 314.9 L219.8 315.2 L220.5 315.7 L221.3 316.3 L222 317.2 L222.8 318.3 L223.5 319.9 L223.5 281 L224.2 282.5 L224.9 283.2 L225.6 283.5 L226.4 283.8 L227.1 284 L227.8 284.2 L228.5 284.4 L229.2 284.6 L229.9 284.8 L230.6 285 L231.3 285.1 L232 285.3 L232.7 285.5 L232.7 313.5 L233.5 313.6 L234.2 313.8 L234.9 314 L235.7 314.2 L236.4 314.4 L237.2 314.6 L237.9 314.9 L238.7 315.2 L239.4 315.7 L240.2 316.3 L240.9 317.2 L241.6 318.3 L242.4 319.9 L242.4 281 L243.1 282.5 L243.8 283.2 L244.5 283.5 L245.2 283.8 L245.9 284 L246.6 284.2 L247.3 284.4 L248 284.6 L248.7 284.8 L249.5 285 L250.2 285.1 L250.9 285.3 L251.6 285.5 L251.6 313.5 L252.3 313.6 L253.1 313.8 L253.8 314 L254.6 314.2 L255.3 314.4 L256 314.6 L256.8 314.9 L257.5 315.2 L258.3 315.7 L259 316.3 L259.8 317.2 L260.5 318.3 L261.2 319.9 L261.2 281 L261.9 282.5 L262.7 283.2 L263.4 283.5 L264.1 283.8 L264.8 284 L265.5 284.2 L266.2 284.4 L266.9 284.6 L267.6 284.8 L268.3 285 L269 285.1 L269.7 285.3 L270.4 285.5 L270.4 313.5 L271.2 313.6 L271.9 313.8 L272.7 314 L273.4 314.2 L274.2 314.4 L274.9 314.6 L275.6 314.9 L276.4 315.2 L277.1 315.7 L277.9 316.3 L278.6 317.2 L279.4 318.3 L280.1 319.9 L280.1 281.7 L280.4 282.3 L280.6 282.7 L280.9 283 L281.1 283.2 L281.4 283.3 L281.6 283.4 L281.9 283.5 L282.2 283.5 L282.4 283.5 L282.7 283.5 L282.9 283.5 L283.2 283.5 L283.4 283.5 L283.7 283.5 L284 283.5 L284.2 283.4 L284.5 283.4 L284.7 283.4 L285 283.4 L285.3 283.3 L285.5 283.3 L285.8 283.3 L286 283.3 L286.3 283.2 L286.5 283.2 L286.8 283.2 L287.1 283.2 L287.3 283.1 L287.6 283.1 L287.8 283.1 L288.1 283.1 L288.3 283 L288.6 283 L288.9 283 L289.1 282.9 L289.4 282.9 L289.6 282.9 L289.9 282.9 L290.1 282.8 L290.4 282.8 L290.7 282.8 L290.9 282.7 L291.2 282.7 L291.4 282.7 L291.7 282.6 L291.9 282.6 L292.2 282.5 L292.5 282.5 L292.7 282.5 L293 282.4 L293.2 282.4 L293.5 282.4 L293.8 282.3 L294 282.3 L294.3 282.2 L294.5 282.2 L294.8 282.2 L295 282.1 L295.3 282.1 L295.6 282 L295.8 282 L296.1 281.9 L296.3 281.9 L296.6 281.8 L296.8 281.8 L297.1 281.7 L297.4 281.7 L297.6 281.6 L297.9 281.6 L298.1 281.5 L298.4 281.4 L298.6 281.4 L298.9 281.3 L299.2 281.3 L299.4 281.2 L299.7 281.1 L299.9 281.1 L300.2 281 L300.5 280.9 L300.7 280.8 L301 280.8 L301.2 280.7 L301.5 280.6 L301.7 280.5 L302 280.4 L302.3 280.4 L302.5 280.3 L302.8 280.2 L303 280.1 L303.3 280 L303.5 279.9 L303.8 279.8 L304.1 279.6 L304.3 279.5 L304.6 279.4 L304.8 279.3 L305.1 279.1 L305.3 279 L305.6 278.8 L305.9 278.7 L306.1 278.5 L306.4 278.4 L306.6 278.2 L306.9 278 L307.1 277.8 L307.4 277.6 L307.7 277.4 L307.9 277.2 L308.2 276.9 L308.4 276.7 L308.7 276.4 L309 276.1 L309.2 275.8 L309.5 275.5 L309.7 275.1 L310 274.7 L310.2 274.3 L310.5 273.9 L310.8 273.4 L311 272.8 L311.3 272.3 L311.5 271.6 L311.8 270.9 L312 270.1 L312.3 269.3 L312.6 268.3 L312.8 267.2 L313.1 265.9 L313.3 264.4 L313.6 262.7 L313.8 260.6 L314.1 258.2 L314.4 255.1 L314.6 251.3 L314.9 246.4 L315.1 239.8 L315.4 230.4 L315.6 216.1 L315.9 213 L316.2 213 L316.2 213" fill="none" stroke="#96d1c6" stroke-width="1.4" stroke-linejoin="round" clip-path="url(#cc)"/><path d="M45.5 329.3 L46.4 319.9 L47.3 315.8 L48.3 314.1 L49.2 313.3 L50.1 313 L51 312.8 L51.9 312.7 L52.9 312.7 L53.8 312.7 L54.7 312.7 L55.6 312.7 L56.5 312.7 L57.5 312.7 L58.4 312.7 L59.3 312.7 L60.2 312.7 L61.1 312.7 L62.1 312.7 L63 312.7 L63.9 312.7 L64.8 312.7 L65.7 312.7 L66.7 312.7 L67.6 312.7 L68.5 312.8 L69.4 312.9 L70.3 313 L71.3 313.1 L72.2 313.3 L73.1 313.5 L74 313.7 L74.9 313.9 L75.9 314.1 L76.8 314.4 L77.7 314.7 L78.6 315 L79.5 315.4 L80.5 315.8 L81.4 316.2 L82.3 316.6 L83.2 317 L84.1 317.5 L85.1 318 L86 318.5 L86.9 319 L87.8 319.6 L88.7 320.2 L89.7 320.8 L90.6 321.4 L91.5 322.1 L91.5 276.4 L92.2 279.9 L92.9 281.3 L93.6 282 L94.3 282.3 L95 282.5 L95.7 282.7 L96.5 282.9 L97.2 283 L97.9 283.2 L98.6 283.3 L99.3 283.5 L100 283.6 L100.7 283.8 L100.7 313.9 L101.4 314.1 L102.2 314.3 L102.9 314.5 L103.7 314.7 L104.4 314.9 L105.2 315.2 L105.9 315.5 L106.6 315.9 L107.4 316.4 L108.1 317.1 L108.9 318.1 L109.6 319.4 L110.4 321.2 L110.4 276.4 L111.1 279.9 L111.8 281.3 L112.5 282 L113.2 282.3 L113.9 282.5 L114.6 282.7 L115.3 282.9 L116 283 L116.7 283.2 L117.4 283.3 L118.1 283.5 L118.9 283.6 L119.6 283.8 L119.6 313.9 L120.3 314.1 L121 314.3 L121.8 314.5 L122.5 314.7 L123.3 314.9 L124 315.2 L124.8 315.5 L125.5 315.9 L126.2 316.4 L127 317.1 L127.7 318.1 L128.5 319.4 L129.2 321.2 L129.2 276.4 L129.9 279.9 L130.6 281.3 L131.3 282 L132.1 282.3 L132.8 282.5 L133.5 282.7 L134.2 282.9 L134.9 283 L135.6 283.2 L136.3 283.3 L137 283.5 L137.7 283.6 L138.4 283.8 L138.4 313.9 L139.2 314.1 L139.9 314.3 L140.6 314.5 L141.4 314.7 L142.1 314.9 L142.9 315.2 L143.6 315.5 L144.4 315.9 L145.1 316.4 L145.9 317.1 L146.6 318.1 L147.3 319.4 L148.1 321.2 L148.1 276.4 L148.8 279.9 L149.5 281.3 L150.2 282 L150.9 282.3 L151.6 282.5 L152.3 282.7 L153 282.9 L153.7 283 L154.4 283.2 L155.2 283.3 L155.9 283.5 L156.6 283.6 L157.3 283.8 L157.3 313.9 L158 314.1 L158.8 314.3 L159.5 314.5 L160.3 314.7 L161 314.9 L161.7 315.2 L162.5 315.5 L163.2 315.9 L164 316.4 L164.7 317.1 L165.5 318.1 L166.2 319.4 L166.9 321.2 L166.9 276.4 L167.6 279.9 L168.4 281.3 L169.1 282 L169.8 282.3 L170.5 282.5 L171.2 282.7 L171.9 282.9 L172.6 283 L173.3 283.2 L174 283.3 L174.7 283.5 L175.4 283.6 L176.1 283.8 L176.1 313.9 L176.9 314.1 L177.6 314.3 L178.4 314.5 L179.1 314.7 L179.9 314.9 L180.6 315.2 L181.3 315.5 L182.1 315.9 L182.8 316.4 L183.6 317.1 L184.3 318.1 L185.1 319.4 L185.8 321.2 L185.8 276.4 L186.5 279.9 L187.2 281.3 L187.9 282 L188.6 282.3 L189.3 282.5 L190 282.7 L190.8 282.9 L191.5 283 L192.2 283.2 L192.9 283.3 L193.6 283.5 L194.3 283.6 L195 283.8 L195 313.9 L195.7 314.1 L196.5 314.3 L197.2 314.5 L198 314.7 L198.7 314.9 L199.5 315.2 L200.2 315.5 L200.9 315.9 L201.7 316.4 L202.4 317.1 L203.2 318.1 L203.9 319.4 L204.7 321.2 L204.7 276.4 L205.4 279.9 L206.1 281.3 L206.8 282 L207.5 282.3 L208.2 282.5 L208.9 282.7 L209.6 282.9 L210.3 283 L211 283.2 L211.7 283.3 L212.4 283.5 L213.2 283.6 L213.9 283.8 L213.9 313.9 L214.6 314.1 L215.3 314.3 L216.1 314.5 L216.8 314.7 L217.6 314.9 L218.3 315.2 L219.1 315.5 L219.8 315.9 L220.5 316.4 L221.3 317.1 L222 318.1 L222.8 319.4 L223.5 321.2 L223.5 276.4 L224.2 279.9 L224.9 281.3 L225.6 282 L226.4 282.3 L227.1 282.5 L227.8 282.7 L228.5 282.9 L229.2 283 L229.9 283.2 L230.6 283.3 L231.3 283.5 L232 283.6 L232.7 283.8 L232.7 313.9 L233.5 314.1 L234.2 314.3 L234.9 314.5 L235.7 314.7 L236.4 314.9 L237.2 315.2 L237.9 315.5 L238.7 315.9 L239.4 316.4 L240.2 317.1 L240.9 318.1 L241.6 319.4 L242.4 321.2 L242.4 276.4 L243.1 279.9 L243.8 281.3 L244.5 282 L245.2 282.3 L245.9 282.5 L246.6 282.7 L247.3 282.9 L248 283 L248.7 283.2 L249.5 283.3 L250.2 283.5 L250.9 283.6 L251.6 283.8 L251.6 313.9 L252.3 314.1 L253.1 314.3 L253.8 314.5 L254.6 314.7 L255.3 314.9 L256 315.2 L256.8 315.5 L257.5 315.9 L258.3 316.4 L259 317.1 L259.8 318.1 L260.5 319.4 L261.2 321.2 L261.2 276.4 L261.9 279.9 L262.7 281.3 L263.4 282 L264.1 282.3 L264.8 282.5 L265.5 282.7 L266.2 282.9 L266.9 283 L267.6 283.2 L268.3 283.3 L269 283.5 L269.7 283.6 L270.4 283.8 L270.4 313.9 L271.2 314.1 L271.9 314.3 L272.7 314.5 L273.4 314.7 L274.2 314.9 L274.9 315.2 L275.6 315.5 L276.4 315.9 L277.1 316.4 L277.9 317.1 L278.6 318.1 L279.4 319.4 L280.1 321.2 L280.1 278.7 L280.4 280.5 L280.7 281.7 L281 282.5 L281.3 283 L281.6 283.3 L281.9 283.6 L282.2 283.7 L282.5 283.8 L282.8 283.9 L283.1 283.9 L283.4 283.9 L283.7 283.9 L284 283.9 L284.3 283.9 L284.6 283.9 L284.9 283.9 L285.2 283.8 L285.5 283.8 L285.8 283.8 L286.1 283.8 L286.4 283.8 L286.7 283.8 L287 283.7 L287.3 283.7 L287.6 283.7 L287.9 283.7 L288.2 283.7 L288.5 283.6 L288.8 283.6 L289.1 283.6 L289.3 283.6 L289.6 283.6 L289.9 283.5 L290.2 283.5 L290.5 283.5 L290.8 283.5 L291.1 283.5 L291.4 283.4 L291.7 283.4 L292 283.4 L292.3 283.4 L292.6 283.4 L292.9 283.3 L293.2 283.3 L293.5 283.3 L293.8 283.3 L294.1 283.2 L294.4 283.2 L294.7 283.2 L295 283.2 L295.3 283.1 L295.6 283.1 L295.9 283.1 L296.2 283 L296.5 283 L296.8 283 L297.1 283 L297.4 282.9 L297.7 282.9 L298 282.9 L298.3 282.8 L298.6 282.8 L298.9 282.8 L299.2 282.8 L299.5 282.7 L299.8 282.7 L300.1 282.6 L300.4 282.6 L300.7 282.6 L301 282.5 L301.3 282.5 L301.6 282.5 L301.9 282.4 L302.2 282.4 L302.5 282.3 L302.8 282.3 L303.1 282.3 L303.4 282.2 L303.7 282.2 L304 282.1 L304.3 282.1 L304.6 282 L304.9 282 L305.2 281.9 L305.5 281.9 L305.8 281.8 L306.1 281.8 L306.4 281.7 L306.7 281.6 L307 281.6 L307.2 281.5 L307.5 281.4 L307.8 281.4 L308.1 281.3 L308.4 281.2 L308.7 281.1 L309 281.1 L309.3 281 L309.6 280.9 L309.9 280.8 L310.2 280.7 L310.5 280.6 L310.8 280.5 L311.1 280.4 L311.4 280.3 L311.7 280.1 L312 280 L312.3 279.9 L312.6 279.7 L312.9 279.6 L313.2 279.4 L313.5 279.2 L313.8 279.1 L314.1 278.9 L314.4 278.6 L314.7 278.4 L315 278.2 L315.3 277.9 L315.6 277.6 L315.9 277.3 L316.2 276.9 L316.5 276.5 L316.8 276.1 L317.1 275.6 L317.4 275.1 L317.7 274.5 L318 273.8 L318.3 273 L318.6 272.1 L318.9 271 L319.2 269.7 L319.5 268.1 L319.8 266.1 L320.1 263.6 L320.4 260.2 L320.7 255.5 L321 248.5 L321.3 236.9 L321.6 214.3 L321.9 213 L321.9 213" fill="none" stroke="#3f80b8" stroke-width="1.4" stroke-linejoin="round" clip-path="url(#cc)"/><path d="M45.5 313.9 L46.4 312.7 L47.3 312.2 L48.3 311.9 L49.2 311.8 L50.1 311.8 L51 311.8 L51.9 311.8 L52.9 311.8 L53.8 311.8 L54.7 311.8 L55.6 311.8 L56.5 311.8 L57.5 311.8 L58.4 311.8 L59.3 311.8 L60.2 311.8 L61.1 311.8 L62.1 311.8 L63 311.8 L63.9 311.8 L64.8 311.8 L65.7 311.8 L66.7 311.8 L67.6 311.8 L68.5 311.9 L69.4 311.9 L70.3 312 L71.3 312.1 L72.2 312.3 L73.1 312.5 L74 312.6 L74.9 312.8 L75.9 313.1 L76.8 313.3 L77.7 313.6 L78.6 313.9 L79.5 314.2 L80.5 314.5 L81.4 314.9 L82.3 315.3 L83.2 315.7 L84.1 316.1 L85.1 316.6 L86 317 L86.9 317.5 L87.8 318 L88.7 318.6 L89.7 319.1 L90.6 319.7 L91.5 320.3 L91.5 280.1 L92.2 281.4 L92.9 282 L93.6 282.3 L94.3 282.6 L95 282.8 L95.7 283 L96.5 283.2 L97.2 283.4 L97.9 283.5 L98.6 283.7 L99.3 283.9 L100 284.1 L100.7 284.3 L100.7 313 L101.4 313.2 L102.2 313.4 L102.9 313.5 L103.7 313.7 L104.4 313.9 L105.2 314.1 L105.9 314.3 L106.6 314.7 L107.4 315.1 L108.1 315.7 L108.9 316.5 L109.6 317.6 L110.4 319 L110.4 280.1 L111.1 281.4 L111.8 282 L112.5 282.3 L113.2 282.6 L113.9 282.8 L114.6 283 L115.3 283.2 L116 283.4 L116.7 283.5 L117.4 283.7 L118.1 283.9 L118.9 284.1 L119.6 284.3 L119.6 313 L120.3 313.2 L121 313.4 L121.8 313.5 L122.5 313.7 L123.3 313.9 L124 314.1 L124.8 314.3 L125.5 314.7 L126.2 315.1 L127 315.7 L127.7 316.5 L128.5 317.6 L129.2 319 L129.2 280.1 L129.9 281.4 L130.6 282 L131.3 282.3 L132.1 282.6 L132.8 282.8 L133.5 283 L134.2 283.2 L134.9 283.4 L135.6 283.5 L136.3 283.7 L137 283.9 L137.7 284.1 L138.4 284.3 L138.4 313 L139.2 313.2 L139.9 313.4 L140.6 313.5 L141.4 313.7 L142.1 313.9 L142.9 314.1 L143.6 314.3 L144.4 314.7 L145.1 315.1 L145.9 315.7 L146.6 316.5 L147.3 317.6 L148.1 319 L148.1 280.1 L148.8 281.4 L149.5 282 L150.2 282.3 L150.9 282.6 L151.6 282.8 L152.3 283 L153 283.2 L153.7 283.4 L154.4 283.5 L155.2 283.7 L155.9 283.9 L156.6 284.1 L157.3 284.3 L157.3 313 L158 313.2 L158.8 313.4 L159.5 313.5 L160.3 313.7 L161 313.9 L161.7 314.1 L162.5 314.3 L163.2 314.7 L164 315.1 L164.7 315.7 L165.5 316.5 L166.2 317.6 L166.9 319 L166.9 280.1 L167.6 281.4 L168.4 282 L169.1 282.3 L169.8 282.6 L170.5 282.8 L171.2 283 L171.9 283.2 L172.6 283.4 L173.3 283.5 L174 283.7 L174.7 283.9 L175.4 284.1 L176.1 284.3 L176.1 313 L176.9 313.2 L177.6 313.4 L178.4 313.5 L179.1 313.7 L179.9 313.9 L180.6 314.1 L181.3 314.3 L182.1 314.7 L182.8 315.1 L183.6 315.7 L184.3 316.5 L185.1 317.6 L185.8 319 L185.8 280.1 L186.5 281.4 L187.2 282 L187.9 282.3 L188.6 282.6 L189.3 282.8 L190 283 L190.8 283.2 L191.5 283.4 L192.2 283.5 L192.9 283.7 L193.6 283.9 L194.3 284.1 L195 284.3 L195 313 L195.7 313.2 L196.5 313.4 L197.2 313.5 L198 313.7 L198.7 313.9 L199.5 314.1 L200.2 314.3 L200.9 314.7 L201.7 315.1 L202.4 315.7 L203.2 316.5 L203.9 317.6 L204.7 319 L204.7 280.1 L205.4 281.4 L206.1 282 L206.8 282.3 L207.5 282.6 L208.2 282.8 L208.9 283 L209.6 283.2 L210.3 283.4 L211 283.5 L211.7 283.7 L212.4 283.9 L213.2 284.1 L213.9 284.3 L213.9 313 L214.6 313.2 L215.3 313.4 L216.1 313.5 L216.8 313.7 L217.6 313.9 L218.3 314.1 L219.1 314.3 L219.8 314.7 L220.5 315.1 L221.3 315.7 L222 316.5 L222.8 317.6 L223.5 319 L223.5 280.1 L224.2 281.4 L224.9 282 L225.6 282.3 L226.4 282.6 L227.1 282.8 L227.8 283 L228.5 283.2 L229.2 283.4 L229.9 283.5 L230.6 283.7 L231.3 283.9 L232 284.1 L232.7 284.3 L232.7 313 L233.5 313.2 L234.2 313.4 L234.9 313.5 L235.7 313.7 L236.4 313.9 L237.2 314.1 L237.9 314.3 L238.7 314.7 L239.4 315.1 L240.2 315.7 L240.9 316.5 L241.6 317.6 L242.4 319 L242.4 280.1 L243.1 281.4 L243.8 282 L244.5 282.3 L245.2 282.6 L245.9 282.8 L246.6 283 L247.3 283.2 L248 283.4 L248.7 283.5 L249.5 283.7 L250.2 283.9 L250.9 284.1 L251.6 284.3 L251.6 313 L252.3 313.2 L253.1 313.4 L253.8 313.5 L254.6 313.7 L255.3 313.9 L256 314.1 L256.8 314.3 L257.5 314.7 L258.3 315.1 L259 315.7 L259.8 316.5 L260.5 317.6 L261.2 319 L261.2 280.1 L261.9 281.4 L262.7 282 L263.4 282.3 L264.1 282.6 L264.8 282.8 L265.5 283 L266.2 283.2 L266.9 283.4 L267.6 283.5 L268.3 283.7 L269 283.9 L269.7 284.1 L270.4 284.3 L270.4 313 L271.2 313.2 L271.9 313.4 L272.7 313.5 L273.4 313.7 L274.2 313.9 L274.9 314.1 L275.6 314.3 L276.4 314.7 L277.1 315.1 L277.9 315.7 L278.6 316.5 L279.4 317.6 L280.1 319 L280.1 281.9 L280.4 282.4 L280.7 282.8 L280.9 283 L281.2 283.2 L281.5 283.3 L281.8 283.3 L282.1 283.4 L282.4 283.4 L282.6 283.4 L282.9 283.4 L283.2 283.4 L283.5 283.4 L283.8 283.4 L284.1 283.4 L284.3 283.3 L284.6 283.3 L284.9 283.3 L285.2 283.3 L285.5 283.3 L285.8 283.2 L286 283.2 L286.3 283.2 L286.6 283.2 L286.9 283.2 L287.2 283.1 L287.4 283.1 L287.7 283.1 L288 283.1 L288.3 283 L288.6 283 L288.9 283 L289.1 283 L289.4 282.9 L289.7 282.9 L290 282.9 L290.3 282.9 L290.6 282.8 L290.8 282.8 L291.1 282.8 L291.4 282.8 L291.7 282.7 L292 282.7 L292.3 282.7 L292.5 282.7 L292.8 282.6 L293.1 282.6 L293.4 282.6 L293.7 282.5 L293.9 282.5 L294.2 282.5 L294.5 282.4 L294.8 282.4 L295.1 282.4 L295.4 282.3 L295.6 282.3 L295.9 282.3 L296.2 282.2 L296.5 282.2 L296.8 282.2 L297.1 282.1 L297.3 282.1 L297.6 282.1 L297.9 282 L298.2 282 L298.5 281.9 L298.7 281.9 L299 281.9 L299.3 281.8 L299.6 281.8 L299.9 281.7 L300.2 281.7 L300.4 281.6 L300.7 281.6 L301 281.5 L301.3 281.5 L301.6 281.4 L301.9 281.4 L302.1 281.3 L302.4 281.3 L302.7 281.2 L303 281.1 L303.3 281.1 L303.6 281 L303.8 280.9 L304.1 280.9 L304.4 280.8 L304.7 280.7 L305 280.7 L305.2 280.6 L305.5 280.5 L305.8 280.4 L306.1 280.3 L306.4 280.2 L306.7 280.1 L306.9 280 L307.2 279.9 L307.5 279.8 L307.8 279.7 L308.1 279.6 L308.4 279.5 L308.6 279.4 L308.9 279.2 L309.2 279.1 L309.5 279 L309.8 278.8 L310.1 278.6 L310.3 278.5 L310.6 278.3 L310.9 278.1 L311.2 277.9 L311.5 277.7 L311.7 277.5 L312 277.2 L312.3 277 L312.6 276.7 L312.9 276.4 L313.2 276.1 L313.4 275.7 L313.7 275.3 L314 274.9 L314.3 274.5 L314.6 273.9 L314.9 273.4 L315.1 272.8 L315.4 272.1 L315.7 271.3 L316 270.4 L316.3 269.3 L316.6 268.1 L316.8 266.7 L317.1 265.1 L317.4 263 L317.7 260.5 L318 257.3 L318.2 253 L318.5 247.2 L318.8 238.6 L319.1 224.9 L319.4 213 L319.7 213 L319.7 213" fill="none" stroke="#f0b83a" stroke-width="1.4" stroke-linejoin="round" clip-path="url(#cc)"/><path d="M45.5 310.5 L46.4 309.2 L47.3 308.6 L48.3 308.4 L49.2 308.2 L50.1 308.2 L51 308.2 L51.9 308.2 L52.9 308.2 L53.8 308.2 L54.7 308.2 L55.6 308.2 L56.5 308.2 L57.5 308.2 L58.4 308.2 L59.3 308.2 L60.2 308.2 L61.1 307.1 L62.1 307.1 L63 308.2 L63.9 308.2 L64.8 308.2 L65.7 308.2 L66.7 308.2 L67.6 308.2 L68.5 308.2 L69.4 308.2 L70.3 308.2 L71.3 308.2 L72.2 308.3 L73.1 308.4 L74 308.6 L74.9 308.7 L75.9 308.9 L76.8 309.2 L77.7 309.4 L78.6 309.7 L79.5 310.1 L80.5 310.4 L81.4 310.8 L82.3 311.3 L83.2 311.7 L84.1 312.2 L85.1 312.8 L86 313.3 L86.9 313.9 L87.8 314.5 L88.7 315.2 L89.7 315.8 L90.6 316.6 L91.5 317.3 L91.5 280.5 L92.2 283.9 L92.9 285.2 L93.6 285.9 L94.3 286.2 L95 286.4 L95.7 286.6 L96.5 286.8 L97.2 286.9 L97.9 287.1 L98.6 287.3 L99.3 287.4 L100 287.6 L100.7 287.7 L100.7 309.3 L101.4 309.5 L102.2 309.7 L102.9 309.9 L103.7 310.1 L104.4 310.3 L105.2 310.5 L105.9 310.8 L106.6 311.2 L107.4 311.8 L108.1 312.5 L108.9 313.4 L109.6 314.7 L110.4 316.5 L110.4 280.5 L111.1 283.9 L111.8 285.2 L112.5 285.9 L113.2 286.2 L113.9 286.4 L114.6 286.6 L115.3 286.8 L116 286.9 L116.7 287.1 L117.4 287.3 L118.1 287.4 L118.9 287.6 L119.6 287.7 L119.6 309.3 L120.3 309.5 L121 309.7 L121.8 309.9 L122.5 310.1 L123.3 310.3 L124 310.5 L124.8 310.8 L125.5 311.2 L126.2 311.8 L127 312.5 L127.7 313.4 L128.5 314.7 L129.2 316.5 L129.2 280.5 L129.9 283.9 L130.6 285.2 L131.3 285.9 L132.1 286.2 L132.8 286.4 L133.5 286.6 L134.2 286.8 L134.9 286.9 L135.6 287.1 L136.3 287.3 L137 287.4 L137.7 287.6 L138.4 287.7 L138.4 309.3 L139.2 309.5 L139.9 309.7 L140.6 309.9 L141.4 310.1 L142.1 310.3 L142.9 310.5 L143.6 310.8 L144.4 311.2 L145.1 311.8 L145.9 312.5 L146.6 313.4 L147.3 314.7 L148.1 316.5 L148.1 280.5 L148.8 283.9 L149.5 285.2 L150.2 285.9 L150.9 286.2 L151.6 286.4 L152.3 286.6 L153 286.8 L153.7 286.9 L154.4 287.1 L155.2 287.3 L155.9 287.4 L156.6 287.6 L157.3 287.7 L157.3 309.3 L158 309.5 L158.8 309.7 L159.5 309.9 L160.3 310.1 L161 310.3 L161.7 310.5 L162.5 310.8 L163.2 311.2 L164 311.8 L164.7 312.5 L165.5 313.4 L166.2 314.7 L166.9 316.5 L166.9 280.5 L167.6 283.9 L168.4 285.2 L169.1 285.9 L169.8 286.2 L170.5 286.4 L171.2 286.6 L171.9 286.8 L172.6 286.9 L173.3 287.1 L174 287.3 L174.7 287.4 L175.4 287.6 L176.1 287.7 L176.1 309.3 L176.9 309.5 L177.6 309.7 L178.4 309.9 L179.1 310.1 L179.9 310.3 L180.6 310.5 L181.3 310.8 L182.1 311.2 L182.8 311.8 L183.6 312.5 L184.3 313.4 L185.1 314.7 L185.8 316.5 L185.8 280.5 L186.5 283.9 L187.2 285.2 L187.9 285.9 L188.6 286.2 L189.3 286.4 L190 286.6 L190.8 286.8 L191.5 286.9 L192.2 287.1 L192.9 287.3 L193.6 287.4 L194.3 287.6 L195 287.7 L195 309.3 L195.7 309.5 L196.5 309.7 L197.2 309.9 L198 310.1 L198.7 310.3 L199.5 310.5 L200.2 310.8 L200.9 311.2 L201.7 311.8 L202.4 312.5 L203.2 313.4 L203.9 314.7 L204.7 316.5 L204.7 280.5 L205.4 283.9 L206.1 285.2 L206.8 285.9 L207.5 286.2 L208.2 286.4 L208.9 286.6 L209.6 286.8 L210.3 286.9 L211 287.1 L211.7 287.3 L212.4 287.4 L213.2 287.6 L213.9 287.7 L213.9 309.3 L214.6 309.5 L215.3 309.7 L216.1 309.9 L216.8 310.1 L217.6 310.3 L218.3 310.5 L219.1 310.8 L219.8 311.2 L220.5 311.8 L221.3 312.5 L222 313.4 L222.8 314.7 L223.5 316.5 L223.5 280.5 L224.2 283.9 L224.9 285.2 L225.6 285.9 L226.4 286.2 L227.1 286.4 L227.8 286.6 L228.5 286.8 L229.2 286.9 L229.9 287.1 L230.6 287.3 L231.3 287.4 L232 287.6 L232.7 287.7 L232.7 309.3 L233.5 309.5 L234.2 309.7 L234.9 309.9 L235.7 310.1 L236.4 310.3 L237.2 310.5 L237.9 310.8 L238.7 311.2 L239.4 311.8 L240.2 312.5 L240.9 313.4 L241.6 314.7 L242.4 316.5 L242.4 280.5 L243.1 283.9 L243.8 285.2 L244.5 285.9 L245.2 286.2 L245.9 286.4 L246.6 286.6 L247.3 286.8 L248 286.9 L248.7 287.1 L249.5 287.3 L250.2 287.4 L250.9 287.6 L251.6 287.7 L251.6 309.3 L252.3 309.5 L253.1 309.7 L253.8 309.9 L254.6 310.1 L255.3 310.3 L256 310.5 L256.8 310.8 L257.5 311.2 L258.3 311.8 L259 312.5 L259.8 313.4 L260.5 314.7 L261.2 316.5 L261.2 280.5 L261.9 283.9 L262.7 285.2 L263.4 285.9 L264.1 286.2 L264.8 286.4 L265.5 286.6 L266.2 286.8 L266.9 286.9 L267.6 287.1 L268.3 287.3 L269 287.4 L269.7 287.6 L270.4 287.7 L270.4 309.3 L271.2 309.5 L271.9 309.7 L272.7 309.9 L273.4 310.1 L274.2 310.3 L274.9 310.5 L275.6 310.8 L276.4 311.2 L277.1 311.8 L277.9 312.5 L278.6 313.4 L279.4 314.7 L280.1 316.5 L280.1 284.1 L280.4 285.9 L280.7 287.1 L281 287.8 L281.4 288.3 L281.7 288.6 L282 288.8 L282.3 288.9 L282.6 289 L282.9 289 L283.2 289.1 L283.5 289.1 L283.9 289.1 L284.2 289.1 L284.5 289.1 L284.8 289.1 L285.1 289.1 L285.4 289 L285.7 289 L286.1 289 L286.4 289 L286.7 289 L287 289 L287.3 289 L287.6 288.9 L287.9 288.9 L288.2 288.9 L288.6 288.9 L288.9 288.9 L289.2 288.9 L289.5 288.9 L289.8 288.8 L290.1 288.8 L290.4 288.8 L290.8 288.8 L291.1 288.8 L291.4 288.8 L291.7 288.8 L292 288.7 L292.3 288.7 L292.6 288.7 L293 288.7 L293.3 288.7 L293.6 288.7 L293.9 288.6 L294.2 288.6 L294.5 288.6 L294.8 288.6 L295.1 288.6 L295.5 288.6 L295.8 288.5 L296.1 288.5 L296.4 288.5 L296.7 288.5 L297 288.5 L297.3 288.4 L297.7 288.4 L298 288.4 L298.3 288.4 L298.6 288.4 L298.9 288.3 L299.2 288.3 L299.5 288.3 L299.8 288.3 L300.2 288.3 L300.5 288.2 L300.8 288.2 L301.1 288.2 L301.4 288.2 L301.7 288.1 L302 288.1 L302.4 288.1 L302.7 288.1 L303 288 L303.3 288 L303.6 288 L303.9 288 L304.2 287.9 L304.5 287.9 L304.9 287.9 L305.2 287.9 L305.5 287.8 L305.8 287.8 L306.1 287.8 L306.4 287.7 L306.7 287.7 L307.1 287.7 L307.4 287.6 L307.7 287.6 L308 287.6 L308.3 287.5 L308.6 287.5 L308.9 287.4 L309.3 287.4 L309.6 287.4 L309.9 287.3 L310.2 287.3 L310.5 287.2 L310.8 287.2 L311.1 287.1 L311.4 287.1 L311.8 287 L312.1 287 L312.4 286.9 L312.7 286.8 L313 286.8 L313.3 286.7 L313.6 286.6 L314 286.5 L314.3 286.5 L314.6 286.4 L314.9 286.3 L315.2 286.2 L315.5 286.1 L315.8 286 L316.1 285.9 L316.5 285.7 L316.8 285.6 L317.1 285.4 L317.4 285.3 L317.7 285.1 L318 284.9 L318.3 284.7 L318.7 284.4 L319 284.2 L319.3 283.9 L319.6 283.5 L319.9 283.2 L320.2 282.7 L320.5 282.2 L320.8 281.6 L321.2 280.8 L321.5 279.9 L321.8 278.7 L322.1 277.2 L322.4 275.1 L322.7 272.2 L323 267.6 L323.4 259.5 L323.7 241.1 L324 213 L324 213" fill="none" stroke="#b6636c" stroke-width="1.4" stroke-linejoin="round" clip-path="url(#cc)"/><rect x="45.5" y="204.5" width="286.2" height="157.7" fill="none" stroke="#1a1a1a" stroke-width="1.2"/><line x1="41.5" y1="341.2" x2="45.5" y2="341.2" stroke="#1a1a1a" stroke-width="1.25"/><text x="38" y="344.9" text-anchor="end" fill="#111" font-size="12.4" >-0.5</text><line x1="41.5" y1="298.5" x2="45.5" y2="298.5" stroke="#1a1a1a" stroke-width="1.25"/><text x="38" y="302.1" text-anchor="end" fill="#111" font-size="12.4" >0.0</text><line x1="41.5" y1="255.8" x2="45.5" y2="255.8" stroke="#1a1a1a" stroke-width="1.25"/><text x="38" y="259.4" text-anchor="end" fill="#111" font-size="12.4" >0.5</text><line x1="41.5" y1="213" x2="45.5" y2="213" stroke="#1a1a1a" stroke-width="1.25"/><text x="38" y="216.6" text-anchor="end" fill="#111" font-size="12.4" >1.0</text><line x1="43.5" y1="362.6" x2="45.5" y2="362.6" stroke="#1a1a1a" stroke-width="1.25"/><line x1="43.5" y1="319.9" x2="45.5" y2="319.9" stroke="#1a1a1a" stroke-width="1.25"/><line x1="43.5" y1="277.1" x2="45.5" y2="277.1" stroke="#1a1a1a" stroke-width="1.25"/><line x1="43.5" y1="234.4" x2="45.5" y2="234.4" stroke="#1a1a1a" stroke-width="1.25"/><line x1="45.5" y1="362.2" x2="45.5" y2="366.2" stroke="#1a1a1a" stroke-width="1.25"/><text x="45.5" y="379.5" text-anchor="middle" fill="#111" font-size="12.4" >0</text><line x1="137.5" y1="362.2" x2="137.5" y2="366.2" stroke="#1a1a1a" stroke-width="1.25"/><text x="137.5" y="379.5" text-anchor="middle" fill="#111" font-size="12.4" >10</text><line x1="229.5" y1="362.2" x2="229.5" y2="366.2" stroke="#1a1a1a" stroke-width="1.25"/><text x="229.5" y="379.5" text-anchor="middle" fill="#111" font-size="12.4" >20</text><line x1="321.5" y1="362.2" x2="321.5" y2="366.2" stroke="#1a1a1a" stroke-width="1.25"/><text x="321.5" y="379.5" text-anchor="middle" fill="#111" font-size="12.4" >30</text><line x1="91.5" y1="362.2" x2="91.5" y2="364.2" stroke="#1a1a1a" stroke-width="1.25"/><line x1="183.5" y1="362.2" x2="183.5" y2="364.2" stroke="#1a1a1a" stroke-width="1.25"/><line x1="275.5" y1="362.2" x2="275.5" y2="364.2" stroke="#1a1a1a" stroke-width="1.25"/><text x="189.1" y="393" text-anchor="middle" fill="#111" font-size="12" >Time (h)</text><text x="14" y="277.4" text-anchor="middle" fill="#111" font-size="12.6" transform="rotate(-90 14 277.4)">Voltage (V)</text><text x="60.8" y="223.4" text-anchor="start" fill="#111" font-size="12" >&#8722;40 &#176;C</text><text x="201.2" y="217.3" text-anchor="start" fill="#111" font-size="12" >Avg. CE</text><text x="158.2" y="230.4" text-anchor="start" fill="#96d1c6" font-size="12" >PM</text><text x="204.5" y="230.4" text-anchor="start" fill="#96d1c6" font-size="12" >93.3%</text><text x="158.2" y="243.6" text-anchor="start" fill="#f0b83a" font-size="12" >BM</text><text x="204.5" y="243.6" text-anchor="start" fill="#f0b83a" font-size="12" >95.5%</text><text x="158.2" y="256.7" text-anchor="start" fill="#b6636c" font-size="12" >TFPM</text><text x="204.5" y="256.7" text-anchor="start" fill="#b6636c" font-size="12" >98.7%</text><text x="158.2" y="269.9" text-anchor="start" fill="#3f80b8" font-size="12" >TFBM</text><text x="204.5" y="269.9" text-anchor="start" fill="#3f80b8" font-size="12" >97.0%</text><text x="324.8" y="355.5" fill="#111" font-size="12" text-anchor="end">1 mA cm<tspan font-size="8" dy="-4.5">&#8722;2</tspan><tspan dy="4.5">, 1 mAh cm</tspan><tspan font-size="8" dy="-4.5">&#8722;2</tspan></text><text x="0.8" y="210.3" text-anchor="start" fill="#111" font-size="10.5" font-weight="bold" >c</text><clipPath id="cd"><rect x="398.2" y="204.2" width="285.3" height="157.8"/></clipPath><path d="M398.6 326.2 L399.3 328.8 L399.7 366.5 L400.6 366.5 L401 337.4 L401.4 337.6 L403 337.6 L404.6 338 L406.2 338 L407.9 338.2 L409.5 339 L411.1 339.3 L412.7 338.7 L414.4 339.5 L416 339.7 L417.6 339.2 L419.3 340 L419.4 366.5 L426.1 366.5 L426.6 312.6 L427.1 313.5 L428.4 317.5 L429.7 315.7 L431 321.1 L432.3 315.8 L433.6 313.2 L434.9 317 L436.2 314.6 L437.5 315.4 L438.8 322.1 L440.1 314.4 L441.4 316.2 L442.7 319.5 L444 322.5 L444.5 315.1 L445 287.4 L445.9 288 L446.8 288.1 L447.7 288.3 L448.6 288.7 L449.5 288.8 L450.5 289.5 L451.4 289.5 L452.3 290.1 L453.2 289.9 L453.9 317 L454.6 335.4 L455.3 342 L456 346.4 L456.7 343.8 L457.4 350.6 L458.1 350 L458.8 352.3 L459.5 348.7 L460.2 346.6 L460.9 342.3 L461.6 334.1 L462.3 325.5 L463 316.8 L463.2 315.1 L463.7 269.6 L464.6 268 L465.5 268.9 L466.4 268.1 L467.4 270.9 L468.3 275.1 L469.2 270 L470.1 269.5 L471 270.2 L471.9 273.1 L472.6 318.4 L473.3 334.4 L474 336 L474.7 343.4 L475.4 349.6 L476.1 353.8 L476.8 348 L477.5 346.4 L478.2 352.3 L478.9 343 L479.7 341.8 L480.4 337.8 L481.1 328 L481.8 318 L482 315.1 L482.4 268.2 L483.3 274.8 L484.2 270.7 L485.2 275.4 L486.1 270.5 L487 273.8 L487.9 269.8 L488.8 269.3 L489.8 273.3 L490.7 269.8 L491.3 321.9 L492 335.6 L492.7 338 L493.4 348 L494.1 350.3 L494.8 350.9 L495.6 350.1 L496.3 353.6 L497 352.7 L497.7 342.5 L498.4 342.6 L499.1 330.9 L499.8 322.9 L500.5 321.3 L500.7 315.1 L501.1 271.3 L502.1 271.2 L503 270.5 L503.9 271.2 L504.8 271.7 L505.7 271.5 L506.6 269.4 L507.6 273 L508.5 273.8 L509.4 271.9 L510 322.5 L510.8 333.7 L511.5 334.8 L512.2 343.8 L512.9 347.3 L513.6 354.3 L514.3 351.8 L515 349.9 L515.7 352.9 L516.4 344.6 L517.1 339.9 L517.8 338.6 L518.5 325.2 L519.2 320.5 L519.4 315.1 L519.9 269.7 L520.8 272.5 L521.7 270 L522.6 270.1 L523.5 275.9 L524.5 275.8 L525.4 271.4 L526.3 269.5 L527.2 275.2 L528.1 273.9 L528.8 319.5 L529.5 333.5 L530.2 340 L530.9 345.6 L531.6 348.9 L532.3 349.3 L533 352.8 L533.7 351.7 L534.4 346.5 L535.1 349.7 L535.8 340.4 L536.5 332.8 L537.2 327.9 L538 322.6 L538.1 315.1 L538.6 268.7 L539.5 273.3 L540.4 274 L541.3 272.4 L542.3 270.7 L543.2 275.5 L544.1 274.1 L545 274.3 L545.9 270.7 L546.9 274.1 L547.5 317.2 L548.2 334.8 L548.9 340.2 L549.6 342.7 L550.3 344.5 L551 350.5 L551.7 353.4 L552.4 353.9 L553.1 348.5 L553.9 348.2 L554.6 338.4 L555.3 331.9 L556 329 L556.7 322.2 L556.9 315.1 L557.3 268.7 L558.2 270.2 L559.2 269.2 L560.1 273.1 L561 275 L561.9 274.1 L562.8 270.5 L563.7 274.8 L564.7 274.5 L565.6 274.2 L566.2 320.9 L566.9 332.7 L567.6 335.3 L568.3 347 L569.1 352 L569.8 346.3 L570.5 347.8 L571.2 346.4 L571.9 349.4 L572.6 341.7 L573.3 337.3 L574 337.2 L574.7 324.2 L575.4 317.4 L575.6 315.1 L576 269.8 L577 271.2 L577.9 273.2 L578.8 273.1 L579.7 274.3 L580.6 275.8 L581.6 272.1 L582.5 274.7 L583.4 270.9 L584.3 277.1 L585 316.8 L585.7 330.3 L586.4 335.2 L587.1 340.6 L587.8 344.3 L588.5 349.4 L589.2 355.2 L589.9 348.5 L590.6 351.6 L591.3 347.3 L592 339.6 L592.7 334.6 L593.4 327 L594.1 316.5 L594.3 315.1 L594.8 270.2 L595.7 272.5 L596.6 273.5 L597.5 269.1 L598.4 272.4 L599.4 270.3 L600.3 273.9 L601.2 275.4 L602.1 273.1 L603 271.2 L603.7 323.1 L604.4 329.5 L605.1 335.2 L605.8 341.4 L606.5 345 L607.2 354.3 L607.9 349.9 L608.6 347.5 L609.3 352.7 L610 347.6 L610.7 343 L611.4 334.6 L612.2 326.9 L612.9 320.5 L613 315.1 L613.5 268.9 L614.4 275.2 L615.3 275 L616.3 274.8 L617.2 275.1 L618.1 275.8 L619 269.1 L619.9 270.3 L620.8 276.5 L621.8 273.6 L622.4 321.8 L623.1 333.6 L623.8 340.1 L624.5 342.8 L625.2 347 L625.9 351.3 L626.6 353.7 L627.4 352.1 L628.1 352 L628.8 345.1 L629.5 339.1 L630.2 335.9 L630.9 329.8 L631.6 323 L631.8 272.5 L632.9 272.2 L634.4 272 L636.2 272.5 L638.2 272 L640.1 272.2 L641.9 272.4 L643.5 272.4 L645.2 272.1 L646.8 271.7 L648.4 272 L649.8 271.4 L651 271.5 L652.1 271.6 L652.9 271 L653.6 270.6 L654.2 271.1 L654.9 270.3 L655.6 269.9 L656.5 268.7 L657.4 267.9 L658.4 268 L659.3 266.5 L660.3 265.9 L661.1 265.8 L662 264.7 L662.8 264.4 L663.6 262.6 L664.3 262 L665.1 260.8 L665.7 259.9 L666.4 259 L667 257.7 L667.5 256.7 L668.1 256.1 L668.5 254.3 L669 254.2 L669.3 253.2 L669.7 251.6 L669.9 252 L670.2 251.4 L670.4 250.9 L670.5 249.5" fill="none" stroke="#96d1c6" stroke-width="1.2" stroke-linejoin="round" clip-path="url(#cd)" stroke-opacity="0.45"/><path d="M399.1 325.6 L400.1 326.6 L401.1 320 L402.1 325.3 L403.1 319.6 L404.2 320.7 L405.2 319.3 L406.2 318.3 L407.2 321 L408.3 319.3 L409.3 325.1 L410.3 319.5 L411.3 321.5 L412.3 320 L413.4 324.8 L414.4 320 L415.4 318.7 L416.4 325.6 L417.5 323.8 L418.5 322.2 L419.5 320.4 L420.5 325.2 L421.6 325.9 L422.6 325.6 L423.6 323 L424.6 322.2 L425.6 325.2 L426.7 325.5 L427.7 325.5 L428.7 325.9 L429.7 325.5 L430.8 328.2 L431.8 325 L432.8 321.3 L433.8 325.6 L434.8 322.9 L435.9 327.3 L436.9 323.1 L437.9 322.4 L438.9 322.8 L440 323.8 L441 323.9 L442 322.4 L443 320.2 L444 325.7 L444.5 306.6 L445 278 L445.5 275.8 L446.1 275.2 L446.7 276.5 L447.2 276.8 L447.8 275.9 L448.4 277.7 L448.9 277.4 L449.5 277.6 L450.1 276.3 L450.7 277.2 L451.2 277.5 L451.8 275.9 L452.4 275 L452.9 277.3 L453.5 275.9 L454 320.7 L454.9 319 L455.8 321 L456.7 323.2 L457.6 324.1 L458.5 325.7 L459.5 324 L460.4 325.1 L461.3 326.7 L462.2 326.4 L463.1 327.2 L463.2 306.6 L463.7 275.7 L464.3 277.8 L464.8 274.9 L465.4 276.7 L466 276.3 L466.5 276.7 L467.1 275.5 L467.7 275.5 L468.2 276.4 L468.8 276.7 L469.4 275.8 L469.9 275.4 L470.5 276.9 L471.1 275.8 L471.7 275 L472.2 276.7 L472.7 321.6 L473.6 322.2 L474.5 320.3 L475.4 321.2 L476.4 320.3 L477.3 321.4 L478.2 325.2 L479.1 326 L480 326.3 L480.9 327.3 L481.9 325.2 L482 306.6 L482.4 275.4 L483 275.2 L483.6 277.4 L484.1 275.3 L484.7 277.2 L485.3 276.9 L485.8 275.8 L486.4 278 L487 278 L487.5 275.5 L488.1 277.3 L488.7 277.1 L489.2 276.3 L489.8 276 L490.4 278.3 L491 277.2 L491.4 320.6 L492.3 320.9 L493.2 322.9 L494.2 321.6 L495.1 320.3 L496 323.8 L496.9 323.6 L497.8 326.4 L498.8 326.2 L499.7 324.8 L500.6 328.2 L500.7 306.6 L501.1 275.3 L501.7 275.2 L502.3 278 L502.8 275.1 L503.4 277 L504 275.7 L504.6 275.7 L505.1 277.3 L505.7 276 L506.3 276.1 L506.8 275.6 L507.4 277.4 L508 275.7 L508.5 275 L509.1 276 L509.7 276.5 L510.1 322.2 L511.1 320.9 L512 322.2 L512.9 320.9 L513.8 321.7 L514.7 322.9 L515.6 325.5 L516.6 323.7 L517.5 324.4 L518.4 327.3 L519.3 324.2 L519.4 306.6 L519.9 276.1 L520.4 277.9 L521 275.1 L521.6 277.8 L522.1 277.2 L522.7 275.8 L523.3 276.3 L523.9 276.4 L524.4 276.1 L525 276.7 L525.6 277.2 L526.1 277.7 L526.7 278.1 L527.3 275.9 L527.8 275.7 L528.4 276.5 L528.9 319 L529.8 321.6 L530.7 322.7 L531.6 322.7 L532.5 320.7 L533.5 325.6 L534.4 323.8 L535.3 325.7 L536.2 323.7 L537.1 326.4 L538 327.1 L538.1 306.6 L538.6 276.9 L539.2 276.5 L539.7 275.7 L540.3 277.1 L540.9 275.4 L541.4 277.9 L542 277.4 L542.6 278 L543.1 277.6 L543.7 275 L544.3 275.8 L544.9 272.1 L545.4 271.4 L546 273.1 L546.2 266.3 L546.4 274.9 L546.6 271.2 L547.1 270.6 L547.6 321.5 L548.5 319.4 L549.4 323.9 L550.3 320.5 L551.3 320.6 L552.2 320.9 L553.1 324.5 L554 324.2 L554.9 324.6 L555.9 325 L556.8 323.8 L556.9 306.6 L557.3 276 L557.9 277.3 L558.5 275.4 L559 276.7 L559.6 276.3 L560.2 275.8 L560.7 278.3 L561.3 275.7 L561.9 275.7 L562.4 275.1 L563 274.8 L563.6 274.1 L564.2 270.8 L564.7 266.9 L564.9 262.5 L565.1 274.9 L565.3 269 L565.9 264.4 L566.3 322.6 L567.2 321.6 L568.2 322.8 L569.1 324.2 L570 322.5 L570.9 321 L571.8 324.8 L572.7 322.5 L573.7 324 L574.6 327.5 L575.5 324.4 L575.6 306.6 L576 276.3 L576.6 275.1 L577.2 275.9 L577.8 275.8 L578.3 277.1 L578.9 275.5 L579.5 275.1 L580 275.4 L580.6 276.2 L581.2 275.3 L581.7 275.8 L582.3 273.7 L582.9 268.5 L583.4 268 L583.6 258.6 L583.8 274.9 L584 266.7 L584.6 261.1 L585 320.8 L586 322.5 L586.9 319.4 L587.8 320.9 L588.7 323.3 L589.6 323.9 L590.6 323.7 L591.5 324 L592.4 326.5 L593.3 328.2 L594.2 327.7 L594.3 306.6 L594.8 275.6 L595.3 277.8 L595.9 276.7 L596.5 277.6 L597.1 277.6 L597.6 277.7 L598.2 276.9 L598.8 277.7 L599.3 277.8 L599.9 275.5 L600.5 275.4 L601 270.9 L601.6 270.2 L602.2 266.9 L602.4 254.8 L602.5 274.9 L602.7 260.2 L603.3 266.6 L603.8 320.4 L604.7 322.6 L605.6 320.8 L606.5 322.8 L607.4 324.6 L608.4 325.6 L609.3 322.7 L610.2 325.6 L611.1 323.6 L612 325.8 L613 324 L613 306.6 L613.5 277.3 L614.1 277.5 L614.6 277.4 L615.2 275.5 L615.8 276.2 L616.3 277.1 L616.9 278 L617.5 276 L618.1 274.2 L618.6 276.6 L619.2 274.3 L619.8 273.3 L620.3 262.9 L620.9 260.2 L621.1 250.9 L621.3 274.9 L621.5 257.4 L622 250.3 L622.5 322.6 L623.4 321.9 L624.3 320.9 L625.3 319.8 L626.2 324.8 L627.1 324.3 L628 322.1 L628.9 326.4 L629.8 325.6 L630.8 326.5 L631.7 325.3 L632.2 270.5 L632.6 273.7 L632.9 271.3 L633.2 271.3 L633.5 270.9 L633.8 272.1 L634.2 270.5 L634.5 272.9 L634.8 272.7 L635.1 273.5 L635.4 271.1 L635.8 272.4 L636.1 273.3 L636.4 273.7 L636.7 271.7 L637.1 271.9 L637.4 269 L637.7 262.4 L638 248.5 L638.3 255.3 L638.7 256.3 L639 264.6 L639.3 271.1 L639.6 271.2 L639.9 272.9 L640.3 272.8 L640.6 270.4 L640.9 274 L641.2 272 L641.5 274 L641.9 274.1 L642.2 271.7 L642.5 273.4 L642.8 274.2 L643.2 270.3 L643.5 272.8 L643.8 267.9 L644.1 267.9 L644.4 264.9 L644.8 264.1 L645.1 268.6 L645.4 262.1 L645.7 269.1 L646 262.8 L646.4 263.9 L646.7 263.2 L647 254.8 L647.4 242.4 L647.8 212.4 L648.1 246.6" fill="none" stroke="#f0b83a" stroke-width="1.2" stroke-linejoin="round" clip-path="url(#cd)" stroke-opacity="0.5"/><path d="M398.6 338.2 L398.7 337.5 L398.9 336.5 L399 335.3 L399.3 334.1 L399.5 333.1 L399.7 332.3 L399.9 331.6 L400.2 330.9 L400.6 330.3 L401.4 329.7 L402.5 329 L403.9 328.3 L405.6 327.7 L407.2 327.2 L408.7 326.9 L410 326.9 L411.3 327 L412.5 327.2 L413.8 327.6 L415.1 328 L416.6 328.5 L418.1 329.1 L419.6 329.8 L421.1 330.5 L422.5 331 L423.7 331.3 L424.7 331.6 L425.7 331.8 L426.8 331.9 L428 332 L429.3 332 L430.7 331.9 L432.2 331.7 L433.8 331.6 L435.3 331.4 L437 331.2 L439 330.9 L440.8 330.6 L442.4 330.4 L443.6 330.2 L444.3 330.2 L444.8 267.6 L445.7 266.1 L446.7 266.2 L447.7 266.5 L448.7 266.8 L449.6 267.1 L450.6 267.5 L451.6 267.8 L452.5 268.1 L453.5 268.5 L454 323.7 L455 324.4 L456 325.1 L457 325.9 L458 326.7 L459.1 327.6 L460.1 328.6 L461.1 329.7 L462.1 330.9 L463.1 332.2 L463 332.2 L463.5 267.6 L464.5 266.1 L465.4 266.2 L466.4 266.5 L467.4 266.8 L468.3 267.1 L469.3 267.5 L470.3 267.8 L471.3 268.1 L472.2 268.5 L472.7 323.7 L473.7 324.4 L474.7 325.1 L475.7 325.9 L476.8 326.7 L477.8 327.6 L478.8 328.6 L479.8 329.7 L480.8 330.9 L481.9 332.2 L481.8 332.2 L482.2 267.6 L483.2 266.1 L484.2 266.2 L485.1 266.5 L486.1 266.8 L487.1 267.1 L488 267.5 L489 267.8 L490 268.1 L491 268.5 L491.4 323.7 L492.4 324.4 L493.4 325.1 L494.5 325.9 L495.5 326.7 L496.5 327.6 L497.5 328.6 L498.5 329.7 L499.6 330.9 L500.6 332.2 L500.5 332.2 L501 267.6 L501.9 266.1 L502.9 266.2 L503.9 266.5 L504.8 266.8 L505.8 267.1 L506.8 267.5 L507.7 267.8 L508.7 268.1 L509.7 268.5 L510.1 323.7 L511.2 324.4 L512.2 325.1 L513.2 325.9 L514.2 326.7 L515.2 327.6 L516.3 328.6 L517.3 329.7 L518.3 330.9 L519.3 332.2 L519.2 332.2 L519.7 267.6 L520.7 266.1 L521.6 266.2 L522.6 266.5 L523.6 266.8 L524.5 267.1 L525.5 267.5 L526.5 267.8 L527.4 268.1 L528.4 268.5 L528.9 323.7 L529.9 324.4 L530.9 325.1 L531.9 325.9 L532.9 326.7 L534 327.6 L535 328.6 L536 329.7 L537 330.9 L538 332.2 L538 332.2 L538.4 267.6 L539.4 266.1 L540.3 266.2 L541.3 266.5 L542.3 266.8 L543.3 267.1 L544.2 267.5 L545.2 267.8 L546.2 268.1 L547.1 268.5 L547.6 323.7 L548.6 324.4 L549.6 325.1 L550.7 325.9 L551.7 326.7 L552.7 327.6 L553.7 328.6 L554.7 329.7 L555.8 330.9 L556.8 332.2 L556.7 332.2 L557.1 267.6 L558.1 266.1 L559.1 266.2 L560 266.5 L561 266.8 L562 267.1 L563 267.5 L563.9 267.8 L564.9 268.1 L565.9 268.5 L566.3 323.7 L567.3 324.4 L568.4 325.1 L569.4 325.9 L570.4 326.7 L571.4 327.6 L572.4 328.6 L573.5 329.7 L574.5 330.9 L575.5 332.2 L575.4 332.2 L575.9 267.6 L576.8 266.1 L577.8 266.2 L578.8 266.5 L579.7 266.8 L580.7 267.1 L581.7 267.5 L582.6 267.8 L583.6 268.1 L584.6 268.5 L585 323.7 L586.1 324.4 L587.1 325.1 L588.1 325.9 L589.1 326.7 L590.1 327.6 L591.2 328.6 L592.2 329.7 L593.2 330.9 L594.2 332.2 L594.1 332.2 L594.6 267.6 L595.6 266.1 L596.5 266.2 L597.5 266.5 L598.5 266.8 L599.4 267.1 L600.4 267.5 L601.4 267.8 L602.3 268.1 L603.3 268.5 L603.8 323.7 L604.8 324.4 L605.8 325.1 L606.8 325.9 L607.9 326.7 L608.9 327.6 L609.9 328.6 L610.9 329.7 L611.9 330.9 L613 332.2 L612.9 332.2 L613.3 267.6 L614.3 266.1 L615.3 266.2 L616.2 266.5 L617.2 266.8 L618.2 267.1 L619.1 267.5 L620.1 267.8 L621.1 268.1 L622 268.5 L622.5 323.7 L623.5 324.4 L624.5 325.1 L625.6 325.9 L626.6 326.7 L627.6 327.6 L628.6 328.6 L629.6 329.7 L630.7 330.9 L631.7 332.2 L631.6 332.2 L631.8 266.3 L632 266.5 L632.3 266.7 L632.7 267 L633.2 267.3 L633.8 267.6 L634.5 267.9 L635.5 268.1 L636.7 268.4 L638.1 268.7 L639.5 268.9 L640.8 269.2 L641.9 269.3 L642.8 269.4 L643.6 269.5 L644.3 269.6 L645 269.6 L645.7 269.6 L646.5 269.5 L647.3 269.4 L648.3 269.2 L649.3 269 L650.2 268.7 L651.1 268.4 L652 268 L652.7 267.6 L653.3 267.2 L653.9 266.7 L654.5 266.1 L655 265.5 L655.6 264.6 L656.3 263.6 L656.9 262.4 L657.5 261.1 L658.2 259.8 L658.8 258.3 L659.3 256.9 L659.8 255.5 L660.3 254.2 L660.8 252.7 L661.2 251.2 L661.6 249.5 L662.1 247.5 L662.5 245.2 L662.9 242.7 L663.3 240 L663.7 237.1 L664 234.2 L664.4 231.2 L664.7 228 L664.9 224.4 L665.2 220.8 L665.4 217.4 L665.6 214.5 L665.7 212.4" fill="none" stroke="#3f80b8" stroke-width="1.45" stroke-linejoin="round" clip-path="url(#cd)"/><path d="M398.6 323.7 L398.7 323.2 L398.8 322.4 L399 321.5 L399.2 320.7 L399.5 319.9 L399.9 319.2 L400.2 318.6 L400.7 318 L401.3 317.5 L402.3 317 L403.6 316.6 L405.1 316.4 L406.9 316.1 L408.7 316 L410.5 315.8 L412.3 315.7 L414.2 315.5 L416.1 315.5 L418 315.5 L419.7 315.6 L421.3 316 L422.8 316.4 L424.3 317 L425.7 317.6 L427.1 318.1 L428.3 318.6 L429.5 319.1 L430.7 319.7 L431.9 320.2 L433 320.7 L434.2 321.2 L435.5 321.8 L436.7 322.4 L437.9 322.9 L439 323.2 L440.1 323.3 L441.1 323.2 L442.1 323 L443 322.8 L443.6 322.7 L444.3 322.7 L444.8 273.2 L445.7 273.6 L446.7 273.9 L447.7 274.3 L448.7 274.7 L449.6 275.1 L450.6 275.5 L451.6 275.8 L452.5 276.2 L453.5 276.6 L454 319 L455 318.7 L456 318.5 L457 318.5 L458 318.7 L459.1 319.1 L460.1 319.9 L461.1 320.9 L462.1 322.1 L463.1 323.7 L463 323.7 L463.5 273.2 L464.5 282.1 L465.4 282.5 L466.4 274.3 L467.4 274.7 L468.3 275.1 L469.3 275.5 L470.3 275.8 L471.3 276.2 L472.2 276.6 L472.7 319 L473.7 318.7 L474.7 318.5 L475.7 318.5 L476.8 318.7 L477.8 319.1 L478.8 319.9 L479.8 320.9 L480.8 322.1 L481.9 323.7 L481.8 323.7 L482.2 273.2 L483.2 273.6 L484.2 273.9 L485.1 274.3 L486.1 274.7 L487.1 275.1 L488 275.5 L489 275.8 L490 276.2 L491 276.6 L491.4 319 L492.4 318.7 L493.4 318.5 L494.5 318.5 L495.5 318.7 L496.5 319.1 L497.5 319.9 L498.5 320.9 L499.6 322.1 L500.6 323.7 L500.5 323.7 L501 273.2 L501.9 273.6 L502.9 273.9 L503.9 274.3 L504.8 274.7 L505.8 275.1 L506.8 275.5 L507.7 275.8 L508.7 276.2 L509.7 276.6 L510.1 319 L511.2 318.7 L512.2 318.5 L513.2 318.5 L514.2 318.7 L515.2 319.1 L516.3 319.9 L517.3 320.9 L518.3 322.1 L519.3 323.7 L519.2 323.7 L519.7 273.2 L520.7 273.6 L521.6 273.9 L522.6 274.3 L523.6 274.7 L524.5 275.1 L525.5 275.5 L526.5 275.8 L527.4 276.2 L528.4 276.6 L528.9 319 L529.9 318.7 L530.9 318.5 L531.9 318.5 L532.9 318.7 L534 319.1 L535 319.9 L536 320.9 L537 322.1 L538 323.7 L538 323.7 L538.4 273.2 L539.4 273.6 L540.3 273.9 L541.3 274.3 L542.3 274.7 L543.3 275.1 L544.2 275.5 L545.2 275.8 L546.2 276.2 L547.1 276.6 L547.6 319 L548.6 318.7 L549.6 318.5 L550.7 318.5 L551.7 318.7 L552.7 319.1 L553.7 319.9 L554.7 320.9 L555.8 322.1 L556.8 323.7 L556.7 323.7 L557.1 273.2 L558.1 273.6 L559.1 273.9 L560 274.3 L561 274.7 L562 275.1 L563 275.5 L563.9 275.8 L564.9 276.2 L565.9 276.6 L566.3 319 L567.3 318.7 L568.4 318.5 L569.4 318.5 L570.4 318.7 L571.4 319.1 L572.4 319.9 L573.5 320.9 L574.5 322.1 L575.5 323.7 L575.4 323.7 L575.9 273.2 L576.8 273.6 L577.8 273.9 L578.8 274.3 L579.7 274.7 L580.7 275.1 L581.7 275.5 L582.6 275.8 L583.6 276.2 L584.6 276.6 L585 319 L586.1 318.7 L587.1 318.5 L588.1 318.5 L589.1 318.7 L590.1 319.1 L591.2 319.9 L592.2 320.9 L593.2 322.1 L594.2 323.7 L594.1 323.7 L594.6 273.2 L595.6 273.6 L596.5 273.9 L597.5 274.3 L598.5 274.7 L599.4 275.1 L600.4 275.5 L601.4 275.8 L602.3 276.2 L603.3 276.6 L603.8 319 L604.8 318.7 L605.8 318.5 L606.8 318.5 L607.9 318.7 L608.9 319.1 L609.9 319.9 L610.9 320.9 L611.9 322.1 L613 323.7 L612.9 323.7 L613.3 273.2 L614.3 273.6 L615.3 273.9 L616.2 274.3 L617.2 274.7 L618.2 275.1 L619.1 275.5 L620.1 275.8 L621.1 276.2 L622 276.6 L622.5 319 L623.5 318.7 L624.5 318.5 L625.6 318.5 L626.6 318.7 L627.6 319.1 L628.6 319.9 L629.6 320.9 L630.7 322.1 L631.7 323.7 L631.6 323.7 L631.8 273.2 L632.9 273.6 L634.4 274.1 L636.2 274.8 L638.2 275.5 L640.1 276.1 L641.9 276.6 L643.5 277 L645.1 277.4 L646.6 277.7 L648.2 277.9 L649.6 278.2 L651 278.4 L652.4 278.6 L653.7 278.8 L655 279 L656.2 279.1 L657.3 279.2 L658.4 279.2 L659.4 279.1 L660.4 278.9 L661.4 278.7 L662.3 278.4 L663.1 278.1 L663.9 277.6 L664.6 277.2 L665.3 276.7 L665.9 276.1 L666.5 275.5 L667.1 274.6 L667.6 273.6 L668 272.3 L668.5 270.8 L668.9 269.1 L669.2 267.4 L669.6 265.5 L669.9 263.8 L670.1 262.1 L670.4 260.4 L670.6 258.8 L670.7 257 L670.9 254.9 L671.1 252.6 L671.2 250 L671.3 247 L671.4 243.9 L671.5 240.6 L671.6 237.2 L671.7 233.8 L671.8 230.1 L671.8 226.1 L671.9 221.9 L671.9 218 L672 214.8 L672 212.4" fill="none" stroke="#b6636c" stroke-width="1.45" stroke-linejoin="round" clip-path="url(#cd)"/><rect x="398.2" y="204.2" width="285.3" height="157.8" fill="none" stroke="#1a1a1a" stroke-width="1.2"/><line x1="394.2" y1="340.8" x2="398.2" y2="340.8" stroke="#1a1a1a" stroke-width="1.25"/><text x="390.7" y="344.4" text-anchor="end" fill="#111" font-size="12.4" >-0.5</text><line x1="394.2" y1="298" x2="398.2" y2="298" stroke="#1a1a1a" stroke-width="1.25"/><text x="390.7" y="301.6" text-anchor="end" fill="#111" font-size="12.4" >0.0</text><line x1="394.2" y1="255.2" x2="398.2" y2="255.2" stroke="#1a1a1a" stroke-width="1.25"/><text x="390.7" y="258.8" text-anchor="end" fill="#111" font-size="12.4" >0.5</text><line x1="394.2" y1="212.4" x2="398.2" y2="212.4" stroke="#1a1a1a" stroke-width="1.25"/><text x="390.7" y="216" text-anchor="end" fill="#111" font-size="12.4" >1.0</text><line x1="396.2" y1="362.2" x2="398.2" y2="362.2" stroke="#1a1a1a" stroke-width="1.25"/><line x1="396.2" y1="319.4" x2="398.2" y2="319.4" stroke="#1a1a1a" stroke-width="1.25"/><line x1="396.2" y1="276.6" x2="398.2" y2="276.6" stroke="#1a1a1a" stroke-width="1.25"/><line x1="396.2" y1="233.8" x2="398.2" y2="233.8" stroke="#1a1a1a" stroke-width="1.25"/><line x1="398.6" y1="362" x2="398.6" y2="366" stroke="#1a1a1a" stroke-width="1.25"/><text x="398.6" y="379.3" text-anchor="middle" fill="#111" font-size="12.4" >0</text><line x1="490.4" y1="362" x2="490.4" y2="366" stroke="#1a1a1a" stroke-width="1.25"/><text x="490.4" y="379.3" text-anchor="middle" fill="#111" font-size="12.4" >10</text><line x1="582.2" y1="362" x2="582.2" y2="366" stroke="#1a1a1a" stroke-width="1.25"/><text x="582.2" y="379.3" text-anchor="middle" fill="#111" font-size="12.4" >20</text><line x1="674" y1="362" x2="674" y2="366" stroke="#1a1a1a" stroke-width="1.25"/><text x="674" y="379.3" text-anchor="middle" fill="#111" font-size="12.4" >30</text><line x1="444.5" y1="362" x2="444.5" y2="364" stroke="#1a1a1a" stroke-width="1.25"/><line x1="536.3" y1="362" x2="536.3" y2="364" stroke="#1a1a1a" stroke-width="1.25"/><line x1="628.1" y1="362" x2="628.1" y2="364" stroke="#1a1a1a" stroke-width="1.25"/><text x="541.4" y="392.7" text-anchor="middle" fill="#111" font-size="12" >Time (h)</text><text x="366" y="277.4" text-anchor="middle" fill="#111" font-size="12.6" transform="rotate(-90 366 277.4)">Voltage (V)</text><text x="422.4" y="223.7" text-anchor="start" fill="#111" font-size="12" >&#8722;60 &#176;C</text><text x="534.7" y="224.3" text-anchor="start" fill="#111" font-size="12" >Avg. CE</text><text x="491.6" y="238.3" text-anchor="start" fill="#b6636c" font-size="12" >TFPM</text><text x="538" y="238.3" text-anchor="start" fill="#b6636c" font-size="12" >96.1%</text><text x="491.6" y="251.5" text-anchor="start" fill="#3f80b8" font-size="12" >TFBM</text><text x="538" y="251.5" text-anchor="start" fill="#3f80b8" font-size="12" >91.7%</text><text x="677.8" y="357" fill="#111" font-size="12" text-anchor="end">0.1 mA cm<tspan font-size="8" dy="-4.5">&#8722;2</tspan><tspan dy="4.5">, 0.1 mAh cm</tspan><tspan font-size="8" dy="-4.5">&#8722;2</tspan></text><text x="351" y="210.5" text-anchor="start" fill="#111" font-size="10.5" font-weight="bold" >d</text><text x="-0.5" y="416.3" text-anchor="start" fill="#111" font-size="12" font-weight="bold" >e</text><text x="107.2" y="416.8" text-anchor="middle" fill="#96d1c6" font-size="12" >PM</text><text x="266.6" y="416.8" text-anchor="middle" fill="#f0b83a" font-size="12" >BM</text><text x="107.2" y="578.6" text-anchor="middle" fill="#b6636c" font-size="12" >TFPM</text><text x="266.8" y="578.6" text-anchor="middle" fill="#3f80b8" font-size="12" >TFBM</text><text x="1.2" y="574.6" text-anchor="start" fill="#111" font-size="12" >&#8722;40 &#176;C</text><rect x="44.4" y="426.2" width="125.3" height="124.8" filter="url(#se1b)" /><rect x="44.4" y="426.2" width="125.3" height="124.8" filter="url(#se1m)" /><rect x="44.4" y="426.2" width="125.3" height="124.8" filter="url(#se1p)" /><rect x="44.4" y="426.2" width="125.3" height="124.8" filter="url(#se1e)" /><rect x="44.4" y="426.2" width="125.3" height="124.8" filter="url(#se1l)" /><clipPath id="clse1"><rect x="43.4" y="425.2" width="127.3" height="126.8"/></clipPath><rect x="45" y="427" width="49.6" height="49.6" fill="#e9ebef"/><circle cx="69.4" cy="451.4" r="24" fill="#d38a58"/><circle cx="69.8" cy="449.4" r="16.6" fill="#b6b8ad"/><circle cx="69.8" cy="449.4" r="15" fill="#6f756a"/><circle cx="69.8" cy="449.4" r="14.2" fill="#c6c8be"/><circle cx="69.8" cy="449.4" r="13.9" fill="#000" filter="url(#speck)"/><line x1="70.2" y1="468" x2="74.5" y2="475.4" stroke="#e6e6e6" stroke-width="2.8"/><line x1="71.5" y1="468.3" x2="75.8" y2="475.7" stroke="#777" stroke-width="0.8"/><line x1="119.8" y1="541.6" x2="163.1" y2="541.6" stroke="#f6ee00" stroke-width="2.3"/><text x="142.2" y="534.2" text-anchor="middle" fill="#f6ee00" font-size="12.5" stroke="#f6ee00" stroke-width="0.35">10 &#956;m</text><rect x="44.2" y="426.1" width="125.6" height="125.1" fill="none" stroke="#9fd3c8" stroke-width="1.7"/><rect x="204.1" y="426.2" width="125" height="124.8" filter="url(#se2b)" /><rect x="204.1" y="426.2" width="125" height="124.8" filter="url(#se2m)" /><rect x="204.1" y="426.2" width="125" height="124.8" filter="url(#se2p)" /><rect x="204.1" y="426.2" width="125" height="124.8" filter="url(#se2e)" /><rect x="204.1" y="426.2" width="125" height="124.8" filter="url(#se2l)" /><clipPath id="clse2"><rect x="203.1" y="425.2" width="127" height="126.8"/></clipPath><rect x="205" y="427" width="49.6" height="49.6" fill="#e9ebef"/><circle cx="229" cy="451" r="23.6" fill="#d3946a"/><circle cx="228.6" cy="451" r="18" fill="#4d4639"/><circle cx="228.6" cy="451" r="17" fill="#c9cdc0"/><circle cx="228.6" cy="451" r="16.7" fill="#000" filter="url(#speck)"/><line x1="240.4" y1="465.2" x2="244" y2="475.4" stroke="#f0f0f0" stroke-width="2.8"/><line x1="241.7" y1="465.5" x2="245.3" y2="475.7" stroke="#555" stroke-width="0.8"/><line x1="279" y1="541.6" x2="322.3" y2="541.6" stroke="#f6ee00" stroke-width="2.3"/><text x="301.4" y="534.2" text-anchor="middle" fill="#f6ee00" font-size="12.5" stroke="#f6ee00" stroke-width="0.35">10 &#956;m</text><rect x="203.9" y="426.1" width="125.3" height="125.1" fill="none" stroke="#f0b445" stroke-width="1.7"/><rect x="44.4" y="588.8" width="125.4" height="125.2" filter="url(#se3b)" /><rect x="44.4" y="588.8" width="125.4" height="125.2" filter="url(#se3m)" /><rect x="44.4" y="588.8" width="125.4" height="125.2" filter="url(#se3p)" /><rect x="44.4" y="588.8" width="125.4" height="125.2" filter="url(#se3e)" /><clipPath id="clse3"><rect x="43.4" y="587.8" width="127.4" height="127.2"/></clipPath><g clip-path="url(#clse3)" filter="url(#blur6)"><ellipse cx="147.9" cy="615.8" rx="7.6" ry="6.4" fill="#000" fill-opacity="0.5"/><ellipse cx="109.6" cy="600.5" rx="5.1" ry="5.1" fill="#000" fill-opacity="0.4"/><ellipse cx="81.6" cy="641.2" rx="6.4" ry="5.1" fill="#000" fill-opacity="0.4"/><ellipse cx="88" cy="689.6" rx="10.2" ry="5.1" fill="#000" fill-opacity="0.55"/><ellipse cx="122.4" cy="632.3" rx="3.8" ry="3.8" fill="#000" fill-opacity="0.35"/></g><rect x="45" y="589" width="49.6" height="49.6" fill="#e9ebef"/><circle cx="69.4" cy="612.6" r="24.2" fill="#cc7440"/><circle cx="69.4" cy="610.6" r="16" fill="#7d8678"/><circle cx="69.4" cy="610.6" r="14.6" fill="#55604f"/><circle cx="69.4" cy="610.6" r="13.8" fill="#ebe7d6"/><circle cx="69.4" cy="610.6" r="13.5" fill="#000" filter="url(#speck)"/><circle cx="69.4" cy="610.6" r="7.6" fill="#b8b08a" fill-opacity="0.5" filter="url(#blur2)"/><line x1="73.3" y1="630" x2="77.7" y2="637.4" stroke="#eeeeee" stroke-width="2.8"/><line x1="74.6" y1="630.3" x2="79" y2="637.7" stroke="#777" stroke-width="0.8"/><line x1="119.8" y1="702.3" x2="163.1" y2="702.3" stroke="#f6ee00" stroke-width="2.3"/><text x="142.2" y="694.9" text-anchor="middle" fill="#f6ee00" font-size="12.5" stroke="#f6ee00" stroke-width="0.35">10 &#956;m</text><rect x="44.2" y="588.6" width="125.7" height="125.5" fill="none" stroke="#c77a80" stroke-width="1.7"/><rect x="204.4" y="588.8" width="124.8" height="125.2" filter="url(#se4b)" /><rect x="204.4" y="588.8" width="124.8" height="125.2" filter="url(#se4m)" /><rect x="204.4" y="588.8" width="124.8" height="125.2" filter="url(#se4p)" /><rect x="204.4" y="588.8" width="124.8" height="125.2" filter="url(#se4e)" /><rect x="204.4" y="588.8" width="124.8" height="125.2" filter="url(#se4l)" /><clipPath id="clse4"><rect x="203.4" y="587.8" width="126.8" height="127.2"/></clipPath><rect x="205" y="589" width="49.6" height="49.6" fill="#e9ebef"/><circle cx="229.8" cy="613" r="24.4" fill="#d4845a"/><circle cx="230.2" cy="613" r="18.5" fill="#98a292"/><circle cx="230.2" cy="613" r="13.6" fill="#ebe6c8"/><circle cx="230.2" cy="613" r="13.3" fill="#000" filter="url(#speck)"/><circle cx="230.2" cy="613" r="7.5" fill="#a8a878" fill-opacity="0.5" filter="url(#blur2)"/><line x1="242.6" y1="629.8" x2="252.4" y2="638" stroke="#666" stroke-width="2.8"/><line x1="243.9" y1="630.1" x2="253.7" y2="638.3" stroke="#ddd" stroke-width="0.8"/><line x1="278.7" y1="702.3" x2="322" y2="702.3" stroke="#f6ee00" stroke-width="2.3"/><text x="301.2" y="694.9" text-anchor="middle" fill="#f6ee00" font-size="12.5" stroke="#f6ee00" stroke-width="0.35">10 &#956;m</text><rect x="204.2" y="588.6" width="125.1" height="125.5" fill="none" stroke="#4a89bf" stroke-width="1.7"/><text x="354" y="416.1" text-anchor="start" fill="#111" font-size="12" font-weight="bold" >f</text><text x="461.6" y="416.8" text-anchor="middle" fill="#96d1c6" font-size="12" >PM</text><text x="621" y="416.8" text-anchor="middle" fill="#f0b83a" font-size="12" >BM</text><text x="461.6" y="578.6" text-anchor="middle" fill="#b6636c" font-size="12" >TFPM</text><text x="621" y="578.6" text-anchor="middle" fill="#3f80b8" font-size="12" >TFBM</text><text x="355.6" y="574.4" text-anchor="start" fill="#111" font-size="12" >&#8722;60 &#176;C</text><rect x="399" y="426.2" width="125.2" height="124.8" filter="url(#sf1b)" /><rect x="399" y="426.2" width="125.2" height="124.8" filter="url(#sf1m)" /><rect x="399" y="426.2" width="125.2" height="124.8" filter="url(#sf1l)" /><clipPath id="clsf1"><rect x="398" y="425.2" width="127.2" height="126.8"/></clipPath><g clip-path="url(#clsf1)" filter="url(#blur6)"><ellipse cx="464.1" cy="430.3" rx="15.3" ry="7.6" fill="#fff" fill-opacity="0.3"/><ellipse cx="509.9" cy="453.1" rx="16.5" ry="20.3" fill="#fff" fill-opacity="0.45"/><ellipse cx="518.8" cy="488.6" rx="7.6" ry="19" fill="#fff" fill-opacity="0.25"/><ellipse cx="426" cy="498.7" rx="31.8" ry="17.8" fill="#000" fill-opacity="0.35"/><ellipse cx="413.3" cy="536.8" rx="15.3" ry="12.7" fill="#fff" fill-opacity="0.3"/><ellipse cx="461.6" cy="536.8" rx="19.1" ry="12.7" fill="#000" fill-opacity="0.2"/><ellipse cx="476.9" cy="482.3" rx="19.1" ry="19" fill="#fff" fill-opacity="0.1"/><ellipse cx="468" cy="463.2" rx="12.7" ry="12.7" fill="#000" fill-opacity="0.15"/></g><g clip-path="url(#clsf1)" filter="url(#blur05)"><circle cx="516.1" cy="442.3" r="2.6" fill="url(#br1)"/><circle cx="498.4" cy="436.2" r="3.4" fill="url(#br1)"/><circle cx="501" cy="453" r="3.4" fill="url(#br1)"/><circle cx="502.2" cy="460.7" r="3.8" fill="url(#br1)"/><circle cx="515.2" cy="457.1" r="4.6" fill="url(#br1)"/><circle cx="507.6" cy="463.4" r="4" fill="url(#br1)"/><circle cx="511.6" cy="441.1" r="4.1" fill="url(#br1)"/><circle cx="510.7" cy="444.3" r="3.2" fill="url(#br1)"/><circle cx="514.6" cy="441.4" r="3.7" fill="url(#br1)"/><circle cx="509.8" cy="465.4" r="4.9" fill="url(#br1)"/><circle cx="500.6" cy="436.8" r="3.4" fill="url(#br1)"/><circle cx="504.8" cy="438.6" r="2.9" fill="url(#br1)"/><circle cx="508.2" cy="468.8" r="3.9" fill="url(#br1)"/><circle cx="507.8" cy="433.7" r="4.1" fill="url(#br1)"/><circle cx="503.6" cy="460.9" r="4" fill="url(#br1)"/><circle cx="509.5" cy="463" r="4.3" fill="url(#br1)"/><circle cx="509" cy="444.5" r="3.3" fill="url(#br1)"/><circle cx="506.1" cy="439.2" r="2.7" fill="url(#br1)"/><circle cx="519.1" cy="454.4" r="4.5" fill="url(#br1)"/><circle cx="515.1" cy="463.3" r="2.7" fill="url(#br1)"/><circle cx="494.3" cy="443.2" r="4.8" fill="url(#br1)"/><circle cx="514.2" cy="456.2" r="4.2" fill="url(#br1)"/><circle cx="516.2" cy="446.9" r="2.7" fill="url(#br1)"/><circle cx="513.4" cy="458.6" r="4.2" fill="url(#br1)"/><circle cx="508.4" cy="450.2" r="3.2" fill="url(#br1)"/><circle cx="509.3" cy="459.2" r="4.7" fill="url(#br1)"/><circle cx="494.6" cy="451.4" r="2.6" fill="url(#br1)"/><circle cx="516.2" cy="453.4" r="2.8" fill="url(#br1)"/><circle cx="494.5" cy="446.1" r="4.2" fill="url(#br1)"/><circle cx="503.3" cy="428" r="4.7" fill="url(#br1)"/><circle cx="514.7" cy="454.6" r="3.6" fill="url(#br1)"/><circle cx="522.2" cy="447.1" r="3.1" fill="url(#br1)"/><circle cx="518.5" cy="476" r="4.2" fill="url(#br1)"/><circle cx="515.9" cy="436" r="3.2" fill="url(#br1)"/><circle cx="497.1" cy="453.1" r="2.8" fill="url(#br1)"/><circle cx="518" cy="452.7" r="2.8" fill="url(#br1)"/><circle cx="511.1" cy="455.7" r="4.2" fill="url(#br1)"/><circle cx="514.8" cy="451" r="3.7" fill="url(#br1)"/><circle cx="510.5" cy="474.7" r="4.7" fill="url(#br1)"/><circle cx="524.8" cy="444.4" r="4.4" fill="url(#br1)"/><circle cx="503.3" cy="453.2" r="4.1" fill="url(#br1)"/><circle cx="512.8" cy="452.4" r="3.8" fill="url(#br1)"/><circle cx="508.7" cy="440.9" r="3.7" fill="url(#br1)"/><circle cx="505.7" cy="476.1" r="2.9" fill="url(#br1)"/><circle cx="517.7" cy="446.9" r="3.8" fill="url(#br1)"/><circle cx="467.5" cy="428.1" r="3.4" fill="url(#br1)"/><circle cx="472.9" cy="431.1" r="3.8" fill="url(#br1)"/><circle cx="481.6" cy="431.5" r="3.3" fill="url(#br1)"/><circle cx="473.1" cy="433.8" r="3.4" fill="url(#br1)"/><circle cx="470" cy="432.1" r="3" fill="url(#br1)"/><circle cx="468.4" cy="433.7" r="3.5" fill="url(#br1)"/><circle cx="477.1" cy="435.1" r="3.4" fill="url(#br1)"/><circle cx="464.9" cy="431.1" r="3.2" fill="url(#br1)"/><circle cx="466.8" cy="427.7" r="2.9" fill="url(#br1)"/><circle cx="458.2" cy="427" r="3.7" fill="url(#br1)"/><circle cx="452.8" cy="429.7" r="2.7" fill="url(#br1)"/><circle cx="473.5" cy="433.9" r="2.6" fill="url(#br1)"/><circle cx="400.7" cy="526.4" r="3.5" fill="url(#br1)"/><circle cx="424.8" cy="531" r="3.5" fill="url(#br1)"/><circle cx="418.5" cy="548.4" r="2.5" fill="url(#br1)"/><circle cx="401.7" cy="541.2" r="3.8" fill="url(#br1)"/><circle cx="401.3" cy="524.9" r="3.9" fill="url(#br1)"/><circle cx="407.4" cy="523" r="3.2" fill="url(#br1)"/><circle cx="428.2" cy="545.2" r="4" fill="url(#br1)"/><circle cx="412.6" cy="533.8" r="2.9" fill="url(#br1)"/><circle cx="412" cy="529" r="3.9" fill="url(#br1)"/><circle cx="428.2" cy="522.7" r="2.8" fill="url(#br1)"/><circle cx="418.7" cy="537.2" r="2.8" fill="url(#br1)"/><circle cx="393.9" cy="554.1" r="2.9" fill="url(#br1)"/><circle cx="425" cy="526.8" r="4" fill="url(#br1)"/><circle cx="416.1" cy="555.3" r="4.2" fill="url(#br1)"/><circle cx="429.3" cy="530.8" r="4.5" fill="url(#br1)"/><circle cx="402.9" cy="540.6" r="4.4" fill="url(#br1)"/><circle cx="401" cy="532.5" r="4.1" fill="url(#br1)"/><circle cx="424.7" cy="535.4" r="2.5" fill="url(#br1)"/><circle cx="417.1" cy="527.7" r="3.1" fill="url(#br1)"/><circle cx="399.6" cy="520.6" r="3.7" fill="url(#br1)"/><circle cx="513" cy="497.6" r="4" fill="url(#br2)"/><circle cx="520.8" cy="498.1" r="3.6" fill="url(#br2)"/><circle cx="519.6" cy="487.4" r="3.8" fill="url(#br2)"/><circle cx="518.7" cy="502.7" r="2.8" fill="url(#br2)"/><circle cx="515.3" cy="478.2" r="2.7" fill="url(#br2)"/><circle cx="518.2" cy="491.9" r="4" fill="url(#br2)"/><circle cx="520.2" cy="491.7" r="3.1" fill="url(#br2)"/><circle cx="513.8" cy="489.8" r="2.9" fill="url(#br2)"/><circle cx="512.2" cy="503.9" r="2.8" fill="url(#br2)"/><circle cx="516.9" cy="480.2" r="2.7" fill="url(#br2)"/><circle cx="428.3" cy="540.3" r="2.5" fill="url(#br2)"/><circle cx="438.4" cy="539" r="3.8" fill="url(#br2)"/><circle cx="428.9" cy="545.4" r="3.3" fill="url(#br2)"/><circle cx="420.5" cy="547.1" r="3.9" fill="url(#br2)"/><circle cx="436.5" cy="544.7" r="2.8" fill="url(#br2)"/><circle cx="431.1" cy="542.5" r="3.7" fill="url(#br2)"/><circle cx="427.2" cy="540.6" r="3.4" fill="url(#br2)"/><circle cx="430.2" cy="545.5" r="3.8" fill="url(#br2)"/></g><g clip-path="url(#clsf1)" filter="url(#blur2)"><ellipse cx="440" cy="511.4" rx="5.7" ry="6.3" fill="#000" fill-opacity="0.8"/><ellipse cx="423.4" cy="488.6" rx="7.6" ry="5.1" fill="#000" fill-opacity="0.35"/><ellipse cx="455.2" cy="524.1" rx="5.1" ry="5.1" fill="#000" fill-opacity="0.4"/></g><rect x="399.2" y="427" width="49.6" height="49.6" fill="#e9ebef"/><circle cx="424" cy="451" r="24.2" fill="#e3a36e"/><circle cx="423.6" cy="449" r="15.6" fill="#8e8e76"/><circle cx="423.6" cy="449" r="14.8" fill="#b9c2aa"/><circle cx="423.6" cy="449" r="8.1" fill="#c8c4a8" fill-opacity="0.5" filter="url(#blur2)"/><line x1="431.9" y1="468" x2="436.6" y2="475.4" stroke="#aaa" stroke-width="2.8"/><line x1="433.2" y1="468.3" x2="437.9" y2="475.7" stroke="#555" stroke-width="0.8"/><line x1="474.3" y1="541.8" x2="517" y2="541.8" stroke="#f6ee00" stroke-width="2.3"/><text x="496.4" y="534.4" text-anchor="middle" fill="#f6ee00" font-size="12.5" stroke="#f6ee00" stroke-width="0.35">5 &#956;m</text><rect x="398.9" y="426.1" width="125.5" height="125.1" fill="none" stroke="#9fd3c8" stroke-width="1.7"/><rect x="558.6" y="426.2" width="125.4" height="124.8" filter="url(#sf2b)" /><rect x="558.6" y="426.2" width="125.4" height="124.8" filter="url(#sf2m)" /><rect x="558.6" y="426.2" width="125.4" height="124.8" filter="url(#sf2p)" /><rect x="558.6" y="426.2" width="125.4" height="124.8" filter="url(#sf2l)" /><clipPath id="clsf2"><rect x="557.6" y="425.2" width="127.4" height="126.8"/></clipPath><g clip-path="url(#clsf2)" filter="url(#blur6)"><ellipse cx="665.9" cy="478.5" rx="15.3" ry="22.8" fill="#fff" fill-opacity="0.3"/><ellipse cx="649.3" cy="534.2" rx="19.1" ry="12.7" fill="#fff" fill-opacity="0.2"/><ellipse cx="576.7" cy="475.9" rx="12.7" ry="10.1" fill="#000" fill-opacity="0.35"/><ellipse cx="608.6" cy="494.9" rx="19.1" ry="15.2" fill="#000" fill-opacity="0.15"/><ellipse cx="621.3" cy="435.3" rx="25.5" ry="8.9" fill="#fff" fill-opacity="0.15"/></g><g clip-path="url(#clsf2)" filter="url(#blur05)"><circle cx="659.1" cy="464.9" r="4.5" fill="url(#br2)"/><circle cx="669.5" cy="471.2" r="3.8" fill="url(#br2)"/><circle cx="653.5" cy="484.7" r="3" fill="url(#br2)"/><circle cx="667.4" cy="472.8" r="4.4" fill="url(#br2)"/><circle cx="673.1" cy="467.5" r="3" fill="url(#br2)"/><circle cx="661.6" cy="485.6" r="4.2" fill="url(#br2)"/><circle cx="678.3" cy="454.7" r="3.1" fill="url(#br2)"/><circle cx="664.8" cy="471.2" r="4.4" fill="url(#br2)"/><circle cx="670.6" cy="485.6" r="4.5" fill="url(#br2)"/><circle cx="664" cy="507" r="3.7" fill="url(#br2)"/><circle cx="657" cy="479.1" r="2.9" fill="url(#br2)"/><circle cx="669.4" cy="472.8" r="3.8" fill="url(#br2)"/><circle cx="674.7" cy="483.5" r="2.9" fill="url(#br2)"/><circle cx="668.8" cy="487.9" r="3.4" fill="url(#br2)"/><circle cx="668.9" cy="479.8" r="3.5" fill="url(#br2)"/><circle cx="650" cy="463.3" r="4.1" fill="url(#br2)"/><circle cx="639.4" cy="498.1" r="4.4" fill="url(#br2)"/><circle cx="673.2" cy="487.1" r="4.4" fill="url(#br2)"/><circle cx="670.1" cy="471.4" r="3.6" fill="url(#br2)"/><circle cx="662.3" cy="465.2" r="3.2" fill="url(#br2)"/><circle cx="655.6" cy="504.6" r="2.7" fill="url(#br2)"/><circle cx="677.2" cy="502.6" r="3" fill="url(#br2)"/><circle cx="656.8" cy="487.2" r="3.5" fill="url(#br2)"/><circle cx="665.4" cy="477.7" r="2.9" fill="url(#br2)"/><circle cx="657.9" cy="463.3" r="3" fill="url(#br2)"/><circle cx="667.2" cy="466.7" r="3.4" fill="url(#br2)"/><circle cx="653.4" cy="494.7" r="3.8" fill="url(#br2)"/><circle cx="680.4" cy="494" r="3.5" fill="url(#br2)"/><circle cx="663.9" cy="476" r="3.6" fill="url(#br2)"/><circle cx="666.4" cy="476" r="4.3" fill="url(#br2)"/><circle cx="642.5" cy="538.6" r="2.9" fill="url(#br2)"/><circle cx="644" cy="532.9" r="2.9" fill="url(#br2)"/><circle cx="653.3" cy="547.8" r="3.8" fill="url(#br2)"/><circle cx="643.6" cy="531" r="2.6" fill="url(#br2)"/><circle cx="655.8" cy="541.9" r="2.6" fill="url(#br2)"/><circle cx="640.7" cy="541.4" r="3.7" fill="url(#br2)"/><circle cx="648.7" cy="540.6" r="2.9" fill="url(#br2)"/><circle cx="653.5" cy="541.6" r="3.7" fill="url(#br2)"/><circle cx="656.1" cy="544.8" r="2.8" fill="url(#br2)"/><circle cx="633.8" cy="542.3" r="3.4" fill="url(#br2)"/><circle cx="672.7" cy="530.5" r="2.5" fill="url(#br2)"/><circle cx="648.7" cy="533.7" r="3.5" fill="url(#br2)"/><circle cx="675.5" cy="549.3" r="2.7" fill="url(#br2)"/><circle cx="647.5" cy="537.5" r="3.4" fill="url(#br2)"/><circle cx="614.4" cy="438.8" r="3.2" fill="url(#br2)"/><circle cx="614.2" cy="438.7" r="2.4" fill="url(#br2)"/><circle cx="608.6" cy="438.6" r="3.1" fill="url(#br2)"/><circle cx="612.8" cy="435.1" r="3.3" fill="url(#br2)"/><circle cx="619.3" cy="432.1" r="2.3" fill="url(#br2)"/><circle cx="611.1" cy="437.4" r="3.4" fill="url(#br2)"/><circle cx="606.1" cy="427" r="2.5" fill="url(#br2)"/><circle cx="611.1" cy="435.7" r="2.2" fill="url(#br2)"/><circle cx="605.6" cy="439.3" r="3.2" fill="url(#br2)"/><circle cx="593.7" cy="451.8" r="3.5" fill="url(#br2)"/></g><rect x="559" y="427" width="49.6" height="49.6" fill="#e9ebef"/><circle cx="583.8" cy="451.4" r="24" fill="#e0a07e"/><circle cx="581.4" cy="449.8" r="14.9" fill="#8e8070"/><circle cx="581.4" cy="449.8" r="14" fill="#d6c0ab"/><circle cx="581.4" cy="449.8" r="7.7" fill="#dcb8a0" fill-opacity="0.5" filter="url(#blur2)"/><line x1="590.1" y1="468" x2="594.8" y2="475" stroke="#bbb" stroke-width="2.8"/><line x1="591.4" y1="468.3" x2="596.1" y2="475.3" stroke="#666" stroke-width="0.8"/><line x1="632.3" y1="541.8" x2="675" y2="541.8" stroke="#f6ee00" stroke-width="2.3"/><text x="654.4" y="534.4" text-anchor="middle" fill="#f6ee00" font-size="12.5" stroke="#f6ee00" stroke-width="0.35">5 &#956;m</text><rect x="558.5" y="426.1" width="125.7" height="125.1" fill="none" stroke="#f0b445" stroke-width="1.7"/><rect x="398.8" y="588.8" width="125.6" height="125.2" filter="url(#sf3b)" /><clipPath id="clsf3"><rect x="397.8" y="587.8" width="127.6" height="127.2"/></clipPath><g clip-path="url(#clsf3)" filter="url(#blur05)"><circle cx="402" cy="705.1" r="3.2" fill="url(#gr1)"/><circle cx="450" cy="687.3" r="4.6" fill="url(#gr2)"/><circle cx="454.9" cy="588.3" r="3" fill="url(#gr2)"/><circle cx="480.7" cy="659.5" r="3.6" fill="url(#gr1)"/><circle cx="481.6" cy="687.3" r="3.3" fill="url(#gr1)"/><circle cx="450" cy="690.5" r="2.9" fill="url(#gr1)"/><circle cx="517" cy="712" r="4.1" fill="url(#gr3)"/><circle cx="521" cy="585" r="3" fill="url(#gr3)"/><circle cx="428.7" cy="659.5" r="4.5" fill="url(#gr2)"/><circle cx="511.8" cy="716.8" r="4.3" fill="url(#gr2)"/><circle cx="420" cy="693.6" r="4" fill="url(#gr2)"/><circle cx="522.3" cy="694.8" r="4" fill="url(#gr1)"/><circle cx="398.4" cy="690.1" r="4.5" fill="url(#gr1)"/><circle cx="470" cy="585.4" r="3.4" fill="url(#gr2)"/><circle cx="513.3" cy="665.1" r="3.7" fill="url(#gr2)"/><circle cx="504.6" cy="612.6" r="4" fill="url(#gr2)"/><circle cx="475" cy="635.2" r="3.5" fill="url(#gr2)"/><circle cx="508.3" cy="663.1" r="3.6" fill="url(#gr1)"/><circle cx="408" cy="699.8" r="4" fill="url(#gr3)"/><circle cx="524.6" cy="607.8" r="3.9" fill="url(#gr3)"/><circle cx="483.5" cy="630.5" r="3.6" fill="url(#gr3)"/><circle cx="473.2" cy="704" r="3.3" fill="url(#gr2)"/><circle cx="479.2" cy="684.1" r="4.4" fill="url(#gr2)"/><circle cx="403" cy="680.1" r="4" fill="url(#gr1)"/><circle cx="465.7" cy="686" r="2.9" fill="url(#gr3)"/><circle cx="417.8" cy="639.3" r="3" fill="url(#gr3)"/><circle cx="515.1" cy="608.7" r="4.2" fill="url(#gr1)"/><circle cx="441.8" cy="676.8" r="3.7" fill="url(#gr1)"/><circle cx="477.6" cy="686" r="3.4" fill="url(#gr3)"/><circle cx="518.7" cy="604.9" r="4.3" fill="url(#gr2)"/><circle cx="460" cy="643.4" r="3.8" fill="url(#gr1)"/><circle cx="427.5" cy="651.2" r="4" fill="url(#gr1)"/><circle cx="445.7" cy="691.9" r="3.4" fill="url(#gr3)"/><circle cx="485.2" cy="626" r="3.5" fill="url(#gr2)"/><circle cx="469.6" cy="709.4" r="4.4" fill="url(#gr2)"/><circle cx="480.2" cy="690" r="3.5" fill="url(#gr3)"/><circle cx="448" cy="650.4" r="3.7" fill="url(#gr3)"/><circle cx="524.5" cy="586.5" r="3" fill="url(#gr1)"/><circle cx="446.8" cy="657.6" r="3.5" fill="url(#gr3)"/><circle cx="417.8" cy="715.1" r="4.6" fill="url(#gr3)"/><circle cx="476" cy="614.1" r="4" fill="url(#gr1)"/><circle cx="455.7" cy="613.9" r="4.3" fill="url(#gr2)"/><circle cx="416.4" cy="690.9" r="3.4" fill="url(#gr2)"/><circle cx="480.7" cy="637.2" r="3.4" fill="url(#gr2)"/><circle cx="491" cy="711.6" r="2.8" fill="url(#gr3)"/><circle cx="437" cy="695.7" r="3.3" fill="url(#gr2)"/><circle cx="487.8" cy="615.2" r="3.4" fill="url(#gr2)"/><circle cx="514.3" cy="603" r="3.2" fill="url(#gr2)"/><circle cx="446.2" cy="656.9" r="3.2" fill="url(#gr2)"/><circle cx="497.7" cy="590.1" r="3.3" fill="url(#gr2)"/><circle cx="452.2" cy="681.4" r="2.8" fill="url(#gr3)"/><circle cx="441" cy="645" r="3.8" fill="url(#gr3)"/><circle cx="399.2" cy="644.1" r="4.1" fill="url(#gr3)"/><circle cx="472.7" cy="663" r="4.4" fill="url(#gr3)"/><circle cx="469.5" cy="586.1" r="3.3" fill="url(#gr2)"/><circle cx="465.3" cy="682.3" r="3" fill="url(#gr1)"/><circle cx="420.9" cy="701.4" r="3.1" fill="url(#gr2)"/><circle cx="501.2" cy="664.8" r="3.6" fill="url(#gr3)"/><circle cx="401" cy="710.5" r="4.2" fill="url(#gr3)"/><circle cx="460.5" cy="645.9" r="4" fill="url(#gr1)"/><circle cx="489.5" cy="607.3" r="3.9" fill="url(#gr1)"/><circle cx="497.8" cy="653.1" r="3.1" fill="url(#gr1)"/><circle cx="510.9" cy="643.6" r="3" fill="url(#gr1)"/><circle cx="494.4" cy="657.5" r="3.9" fill="url(#gr3)"/><circle cx="518.7" cy="655.4" r="3.6" fill="url(#gr3)"/><circle cx="488.5" cy="593" r="3.7" fill="url(#gr1)"/><circle cx="427.9" cy="705.2" r="3.4" fill="url(#gr3)"/><circle cx="418.5" cy="654.7" r="4.3" fill="url(#gr2)"/><circle cx="524.2" cy="614.8" r="3.9" fill="url(#gr1)"/><circle cx="512.4" cy="625.2" r="2.8" fill="url(#gr2)"/><circle cx="514.9" cy="586.8" r="3.3" fill="url(#gr2)"/><circle cx="464.6" cy="636.6" r="3.2" fill="url(#gr1)"/><circle cx="503.2" cy="649.5" r="3.3" fill="url(#gr3)"/><circle cx="447.7" cy="665.9" r="3.8" fill="url(#gr1)"/><circle cx="492.9" cy="616.9" r="4.6" fill="url(#gr1)"/><circle cx="400.6" cy="691.2" r="4.6" fill="url(#gr1)"/><circle cx="407.1" cy="642.7" r="4.6" fill="url(#gr3)"/><circle cx="485" cy="591.2" r="3.5" fill="url(#gr2)"/><circle cx="475.1" cy="674" r="3.4" fill="url(#gr3)"/><circle cx="515.9" cy="588.9" r="3.9" fill="url(#gr3)"/><circle cx="473" cy="702.6" r="4.1" fill="url(#gr3)"/><circle cx="489.5" cy="695" r="3.1" fill="url(#gr2)"/><circle cx="437.4" cy="691.2" r="4.3" fill="url(#gr1)"/><circle cx="492.6" cy="712.3" r="4.5" fill="url(#gr2)"/><circle cx="457.3" cy="617.8" r="3.6" fill="url(#gr1)"/><circle cx="434.9" cy="661.1" r="4.4" fill="url(#gr1)"/><circle cx="451.4" cy="593.3" r="3" fill="url(#gr1)"/><circle cx="409.9" cy="691.4" r="3.1" fill="url(#gr3)"/><circle cx="517.4" cy="681.8" r="3.1" fill="url(#gr3)"/><circle cx="415.3" cy="652.2" r="3.3" fill="url(#gr2)"/><circle cx="525" cy="675.8" r="4.6" fill="url(#gr1)"/><circle cx="412.8" cy="681.8" r="2.9" fill="url(#gr2)"/><circle cx="506.1" cy="716.9" r="3.4" fill="url(#gr2)"/><circle cx="504.6" cy="619" r="2.9" fill="url(#gr3)"/><circle cx="451" cy="706.5" r="3.5" fill="url(#gr1)"/><circle cx="502.3" cy="649.7" r="3.8" fill="url(#gr3)"/><circle cx="459.8" cy="612.8" r="3.7" fill="url(#gr1)"/><circle cx="472" cy="610.5" r="4.5" fill="url(#gr2)"/><circle cx="513" cy="593.9" r="3.8" fill="url(#gr2)"/><circle cx="503.8" cy="714.2" r="3.2" fill="url(#gr1)"/><circle cx="459.5" cy="707.5" r="4.4" fill="url(#gr1)"/><circle cx="471.1" cy="685.2" r="3.5" fill="url(#gr3)"/><circle cx="525" cy="601.3" r="3.5" fill="url(#gr2)"/><circle cx="441" cy="705.7" r="3.8" fill="url(#gr1)"/><circle cx="510.5" cy="700.9" r="3.5" fill="url(#gr2)"/><circle cx="445.8" cy="695.6" r="4.2" fill="url(#gr2)"/><circle cx="456.8" cy="689.2" r="3" fill="url(#gr3)"/><circle cx="456.6" cy="644.1" r="4" fill="url(#gr3)"/><circle cx="495.1" cy="635" r="4.4" fill="url(#gr1)"/><circle cx="460.1" cy="628.8" r="3.1" fill="url(#gr3)"/><circle cx="458.8" cy="623.3" r="2.9" fill="url(#gr3)"/><circle cx="458.9" cy="653.7" r="4" fill="url(#gr1)"/><circle cx="464.2" cy="684.8" r="3.1" fill="url(#gr1)"/><circle cx="441.1" cy="641.8" r="4.5" fill="url(#gr3)"/><circle cx="513.6" cy="611.6" r="3.6" fill="url(#gr2)"/><circle cx="518.6" cy="631.9" r="3.9" fill="url(#gr2)"/><circle cx="485.7" cy="592.2" r="3.7" fill="url(#gr2)"/><circle cx="471.5" cy="649" r="3.2" fill="url(#gr2)"/><circle cx="407.8" cy="682.5" r="3.9" fill="url(#gr1)"/><circle cx="485.6" cy="621.7" r="3.5" fill="url(#gr2)"/><circle cx="401.6" cy="652.1" r="4.5" fill="url(#gr1)"/><circle cx="450.2" cy="614.2" r="4" fill="url(#gr2)"/><circle cx="489.4" cy="711.8" r="3.7" fill="url(#gr3)"/><circle cx="478.1" cy="635.1" r="3.2" fill="url(#gr1)"/><circle cx="484.2" cy="631.9" r="4.4" fill="url(#gr1)"/><circle cx="400.9" cy="685.1" r="3.6" fill="url(#gr3)"/><circle cx="464" cy="651.6" r="4.4" fill="url(#gr2)"/><circle cx="516.2" cy="679.9" r="4.2" fill="url(#gr1)"/><circle cx="493.9" cy="678.7" r="3.2" fill="url(#gr2)"/><circle cx="478.4" cy="633" r="2.9" fill="url(#gr1)"/><circle cx="517.2" cy="625.3" r="4.2" fill="url(#gr2)"/><circle cx="420.8" cy="668.8" r="4" fill="url(#gr2)"/><circle cx="469.8" cy="624.7" r="3.2" fill="url(#gr2)"/><circle cx="448.1" cy="621" r="3.7" fill="url(#gr1)"/><circle cx="484.2" cy="619.7" r="4.5" fill="url(#gr3)"/><circle cx="466.4" cy="681.1" r="3.9" fill="url(#gr1)"/><circle cx="446.8" cy="674.7" r="3.7" fill="url(#gr1)"/><circle cx="409.1" cy="660.7" r="4.1" fill="url(#gr3)"/><circle cx="496.4" cy="679.7" r="4.4" fill="url(#gr1)"/><circle cx="455.8" cy="688.9" r="3.9" fill="url(#gr3)"/><circle cx="461.6" cy="701" r="3.1" fill="url(#gr2)"/><circle cx="482.5" cy="656" r="3.3" fill="url(#gr3)"/><circle cx="502.4" cy="701.1" r="3.4" fill="url(#gr1)"/><circle cx="453.2" cy="708.1" r="3.9" fill="url(#gr3)"/><circle cx="454.5" cy="651.5" r="4.4" fill="url(#gr3)"/><circle cx="527" cy="708.6" r="4.3" fill="url(#gr2)"/><circle cx="521.4" cy="685.5" r="3.3" fill="url(#gr1)"/><circle cx="431.5" cy="704.2" r="4.1" fill="url(#gr3)"/><circle cx="462.4" cy="640.6" r="4" fill="url(#gr2)"/><circle cx="413.5" cy="684.3" r="4.2" fill="url(#gr3)"/><circle cx="522.7" cy="684.1" r="3.7" fill="url(#gr3)"/><circle cx="448.1" cy="709.5" r="3.7" fill="url(#gr1)"/><circle cx="455.8" cy="645.9" r="2.8" fill="url(#gr1)"/><circle cx="474.8" cy="705.7" r="3.6" fill="url(#gr3)"/><circle cx="448.2" cy="598.9" r="4.4" fill="url(#gr2)"/><circle cx="480.6" cy="651.7" r="2.9" fill="url(#gr1)"/><circle cx="491" cy="586.7" r="2.9" fill="url(#gr3)"/><circle cx="401.1" cy="660.3" r="3" fill="url(#gr2)"/><circle cx="523.9" cy="592" r="4.3" fill="url(#gr2)"/><circle cx="423.4" cy="700.8" r="4.1" fill="url(#gr1)"/><circle cx="515.1" cy="585.8" r="3.5" fill="url(#gr3)"/><circle cx="483.8" cy="653.6" r="3.6" fill="url(#gr2)"/><circle cx="489.5" cy="608.1" r="4.1" fill="url(#gr1)"/><circle cx="500.8" cy="595.6" r="3.1" fill="url(#gr1)"/><circle cx="459.1" cy="646" r="3.2" fill="url(#gr1)"/><circle cx="527.2" cy="640.3" r="3.9" fill="url(#gr1)"/><circle cx="403.1" cy="703.9" r="2.9" fill="url(#gr3)"/><circle cx="473.7" cy="684.5" r="4.6" fill="url(#gr3)"/><circle cx="484.8" cy="610" r="3.1" fill="url(#gr1)"/><circle cx="516.3" cy="683.1" r="4.3" fill="url(#gr3)"/><circle cx="438.9" cy="691.4" r="3.9" fill="url(#gr3)"/><circle cx="485.5" cy="705.1" r="3.4" fill="url(#gr3)"/><circle cx="481.3" cy="595.6" r="4" fill="url(#gr3)"/><circle cx="524.1" cy="647.8" r="3.9" fill="url(#gr3)"/><circle cx="458.7" cy="586.8" r="4.5" fill="url(#gr3)"/><circle cx="426.6" cy="652.3" r="3.4" fill="url(#gr1)"/><circle cx="470.4" cy="714.1" r="3.6" fill="url(#gr1)"/><circle cx="475.6" cy="684.1" r="4" fill="url(#gr1)"/><circle cx="410.6" cy="691.1" r="3.6" fill="url(#gr1)"/><circle cx="518.5" cy="625.8" r="3.3" fill="url(#gr1)"/><circle cx="522.5" cy="644.3" r="3.6" fill="url(#gr2)"/><circle cx="461.8" cy="618.9" r="3.6" fill="url(#gr1)"/><circle cx="433.2" cy="678.6" r="4.6" fill="url(#gr3)"/><circle cx="517.8" cy="694.5" r="4.4" fill="url(#gr2)"/><circle cx="424.2" cy="715.8" r="4.5" fill="url(#gr3)"/><circle cx="434.2" cy="707.3" r="4.4" fill="url(#gr2)"/><circle cx="414.3" cy="696.7" r="4.3" fill="url(#gr1)"/><circle cx="464.1" cy="652.6" r="4" fill="url(#gr2)"/><circle cx="489.8" cy="588.3" r="3.7" fill="url(#gr3)"/><circle cx="520" cy="655.2" r="3.3" fill="url(#gr1)"/><circle cx="455.6" cy="637.1" r="4.3" fill="url(#gr2)"/><circle cx="418.6" cy="678.6" r="3.9" fill="url(#gr2)"/><circle cx="505.8" cy="701.7" r="2.9" fill="url(#gr2)"/><circle cx="453.8" cy="645.7" r="4.1" fill="url(#gr2)"/><circle cx="441.4" cy="689.3" r="3" fill="url(#gr1)"/><circle cx="442.9" cy="714" r="3.6" fill="url(#gr2)"/><circle cx="452.8" cy="647.3" r="3" fill="url(#gr2)"/><circle cx="454.9" cy="596.7" r="4.3" fill="url(#gr1)"/><circle cx="482.1" cy="707.6" r="3.7" fill="url(#gr1)"/><circle cx="520.6" cy="586.4" r="4.5" fill="url(#gr1)"/><circle cx="411.1" cy="715" r="3.4" fill="url(#gr3)"/><circle cx="503.1" cy="707.1" r="3.9" fill="url(#gr2)"/><circle cx="491.2" cy="623.6" r="4.2" fill="url(#gr3)"/><circle cx="495.8" cy="618.3" r="3.6" fill="url(#gr1)"/><circle cx="433.3" cy="699.1" r="3.8" fill="url(#gr1)"/><circle cx="464.6" cy="653.8" r="4.3" fill="url(#gr1)"/><circle cx="435.9" cy="716.8" r="3.4" fill="url(#gr1)"/><circle cx="489.4" cy="686.4" r="3.2" fill="url(#gr3)"/><circle cx="515.1" cy="622.1" r="3.2" fill="url(#gr3)"/><circle cx="412.9" cy="652.9" r="4.4" fill="url(#gr1)"/><circle cx="522.7" cy="697.1" r="3.3" fill="url(#gr1)"/><circle cx="455.4" cy="660.3" r="3.9" fill="url(#gr2)"/><circle cx="506.4" cy="642.2" r="3.7" fill="url(#gr3)"/><circle cx="520.7" cy="675.4" r="4.5" fill="url(#gr1)"/><circle cx="466.9" cy="657.5" r="3" fill="url(#gr2)"/><circle cx="516.5" cy="705.7" r="3.1" fill="url(#gr3)"/><circle cx="463.2" cy="675.4" r="3.9" fill="url(#gr3)"/><circle cx="412.2" cy="682" r="3.1" fill="url(#gr1)"/><circle cx="481.2" cy="616.6" r="3.4" fill="url(#gr3)"/><circle cx="443.3" cy="679.2" r="4.1" fill="url(#gr2)"/><circle cx="494.7" cy="702.8" r="3.4" fill="url(#gr1)"/><circle cx="406.8" cy="657.8" r="3.8" fill="url(#gr2)"/><circle cx="519.5" cy="612.1" r="3.6" fill="url(#gr2)"/><circle cx="464.8" cy="653.2" r="3.8" fill="url(#gr1)"/><circle cx="400.1" cy="649.3" r="4.1" fill="url(#gr2)"/><circle cx="418" cy="671.2" r="3.5" fill="url(#gr3)"/><circle cx="395.4" cy="677.5" r="3.9" fill="url(#gr2)"/><circle cx="468.2" cy="704.1" r="3" fill="url(#gr3)"/><circle cx="452.9" cy="631" r="4.5" fill="url(#gr3)"/><circle cx="427.9" cy="715.2" r="4.3" fill="url(#gr2)"/><circle cx="439.1" cy="695.2" r="3" fill="url(#gr2)"/><circle cx="443.8" cy="703.8" r="4.6" fill="url(#gr3)"/><circle cx="517.9" cy="694.7" r="4.5" fill="url(#gr1)"/><circle cx="414.6" cy="679.8" r="4" fill="url(#gr1)"/><circle cx="515" cy="658.7" r="4" fill="url(#gr3)"/><circle cx="396" cy="653.6" r="4.5" fill="url(#gr3)"/><circle cx="426.8" cy="681.5" r="3.4" fill="url(#gr2)"/><circle cx="491.5" cy="677.7" r="4.1" fill="url(#gr2)"/><circle cx="512.6" cy="698.4" r="3.4" fill="url(#gr3)"/><circle cx="453.7" cy="610.7" r="4.5" fill="url(#gr2)"/><circle cx="395.3" cy="690.5" r="2.9" fill="url(#gr3)"/><circle cx="476.5" cy="618.4" r="3.5" fill="url(#gr1)"/><circle cx="404.4" cy="703.9" r="4.2" fill="url(#gr2)"/><circle cx="471.2" cy="673.2" r="3.8" fill="url(#gr2)"/><circle cx="472.1" cy="640.8" r="4.3" fill="url(#gr2)"/><circle cx="498" cy="614.1" r="4.5" fill="url(#gr3)"/><circle cx="499" cy="610.9" r="3.2" fill="url(#gr2)"/><circle cx="486.3" cy="704.2" r="3.9" fill="url(#gr1)"/><circle cx="521.2" cy="633.9" r="4.4" fill="url(#gr2)"/><circle cx="474.7" cy="607.1" r="4" fill="url(#gr3)"/><circle cx="429.5" cy="677.5" r="3.6" fill="url(#gr2)"/><circle cx="504.6" cy="590.9" r="2.9" fill="url(#gr1)"/><circle cx="484.4" cy="700.8" r="4.4" fill="url(#gr2)"/><circle cx="455.4" cy="614.5" r="3.1" fill="url(#gr1)"/><circle cx="454.6" cy="596.3" r="3.3" fill="url(#gr2)"/><circle cx="429.4" cy="673" r="4.5" fill="url(#gr2)"/><circle cx="510.8" cy="632.5" r="3.9" fill="url(#gr3)"/><circle cx="511.6" cy="691.4" r="4.4" fill="url(#gr1)"/><circle cx="469.6" cy="704.8" r="2.9" fill="url(#gr3)"/><circle cx="466.4" cy="643.7" r="4.5" fill="url(#gr1)"/><circle cx="527.1" cy="675.4" r="4.2" fill="url(#gr2)"/><circle cx="451.5" cy="621.1" r="4.2" fill="url(#gr1)"/><circle cx="467.8" cy="679" r="4.5" fill="url(#gr1)"/><circle cx="417" cy="644.6" r="4.6" fill="url(#gr3)"/><circle cx="509.7" cy="663.9" r="3.3" fill="url(#gr2)"/><circle cx="408" cy="700.9" r="4.4" fill="url(#gr2)"/><circle cx="469.9" cy="602.4" r="3.7" fill="url(#gr3)"/><circle cx="515.3" cy="653.6" r="3.5" fill="url(#gr2)"/><circle cx="522.2" cy="589.2" r="3.6" fill="url(#gr3)"/><circle cx="496.2" cy="596.7" r="2.9" fill="url(#gr2)"/><circle cx="454" cy="716" r="4.5" fill="url(#gr1)"/><circle cx="506.3" cy="624.7" r="4.6" fill="url(#gr3)"/><circle cx="434.6" cy="691.6" r="3.1" fill="url(#gr2)"/><circle cx="406.9" cy="661.3" r="4.4" fill="url(#gr3)"/><circle cx="426.2" cy="652.2" r="4.1" fill="url(#gr2)"/><circle cx="448.4" cy="691.4" r="4.4" fill="url(#gr1)"/><circle cx="431.7" cy="666.6" r="3.9" fill="url(#gr1)"/><circle cx="461.4" cy="676.5" r="3.6" fill="url(#gr2)"/><circle cx="498.6" cy="650" r="3.4" fill="url(#gr2)"/><circle cx="495.4" cy="666.2" r="2.9" fill="url(#gr2)"/><circle cx="492.7" cy="647.9" r="4.1" fill="url(#gr3)"/><circle cx="449.8" cy="708.7" r="3.8" fill="url(#gr2)"/><circle cx="489.1" cy="594.1" r="3.4" fill="url(#gr2)"/><circle cx="516.2" cy="684.2" r="3.5" fill="url(#gr1)"/><circle cx="507.7" cy="643.9" r="3.3" fill="url(#gr1)"/><circle cx="464.3" cy="682.8" r="3.5" fill="url(#gr2)"/><circle cx="490.7" cy="665.9" r="2.9" fill="url(#gr1)"/><circle cx="485.1" cy="665" r="3.3" fill="url(#gr2)"/><circle cx="407.3" cy="665.6" r="4.1" fill="url(#gr1)"/><circle cx="401.8" cy="694.3" r="3.5" fill="url(#gr3)"/><circle cx="520.6" cy="655.1" r="4" fill="url(#gr1)"/><circle cx="476.9" cy="690.8" r="3.8" fill="url(#gr3)"/><circle cx="424.9" cy="711" r="3.9" fill="url(#gr3)"/><circle cx="480.3" cy="678.1" r="4.3" fill="url(#gr3)"/><circle cx="528" cy="616.5" r="3.6" fill="url(#gr3)"/><circle cx="516.1" cy="595.2" r="4.2" fill="url(#gr3)"/><circle cx="485.9" cy="625.9" r="3.5" fill="url(#gr1)"/><circle cx="423.7" cy="685.2" r="2.8" fill="url(#gr1)"/><circle cx="450.6" cy="701.4" r="3.4" fill="url(#gr2)"/><circle cx="501.1" cy="629.1" r="4.1" fill="url(#gr2)"/><circle cx="451.6" cy="638.9" r="3.1" fill="url(#gr1)"/><circle cx="440" cy="671" r="3.7" fill="url(#gr1)"/><circle cx="526" cy="651.5" r="4.4" fill="url(#gr2)"/><circle cx="507.9" cy="607.4" r="3.7" fill="url(#gr3)"/><circle cx="499.3" cy="592.1" r="3.2" fill="url(#gr3)"/><circle cx="473.1" cy="675.5" r="3.7" fill="url(#gr3)"/><circle cx="522.5" cy="646.5" r="4.2" fill="url(#gr1)"/><circle cx="438.2" cy="663.7" r="3.7" fill="url(#gr3)"/><circle cx="446.1" cy="658.8" r="3.6" fill="url(#gr2)"/><circle cx="505.9" cy="674" r="4.4" fill="url(#gr2)"/><circle cx="485.6" cy="712.8" r="3.2" fill="url(#gr3)"/><circle cx="525.8" cy="654.8" r="4.3" fill="url(#gr2)"/><circle cx="513.9" cy="596.1" r="3.2" fill="url(#gr1)"/><circle cx="465.1" cy="657.1" r="3.8" fill="url(#gr3)"/><circle cx="426.2" cy="710.3" r="3.6" fill="url(#gr2)"/><circle cx="483.8" cy="619.9" r="3.6" fill="url(#gr1)"/><circle cx="507.6" cy="624.3" r="3.9" fill="url(#gr3)"/><circle cx="518.8" cy="636.9" r="3" fill="url(#gr1)"/><circle cx="488.9" cy="589.2" r="3.6" fill="url(#gr1)"/><circle cx="406.6" cy="688.1" r="3.6" fill="url(#gr1)"/><circle cx="522.2" cy="673.3" r="4.5" fill="url(#gr1)"/><circle cx="494.4" cy="638.9" r="3.8" fill="url(#gr1)"/><circle cx="410.8" cy="648.7" r="3.8" fill="url(#gr2)"/><circle cx="487.3" cy="686.7" r="3.4" fill="url(#gr2)"/><circle cx="472.8" cy="702.1" r="4" fill="url(#gr1)"/><circle cx="490.4" cy="712.4" r="4.6" fill="url(#gr1)"/><circle cx="417" cy="701" r="3.1" fill="url(#gr3)"/><circle cx="489.8" cy="652.2" r="3.4" fill="url(#gr3)"/><circle cx="511.7" cy="657.5" r="3" fill="url(#gr2)"/><circle cx="488.5" cy="629.8" r="4.1" fill="url(#gr2)"/><circle cx="499.1" cy="601.2" r="3.7" fill="url(#gr2)"/><circle cx="444.1" cy="676.5" r="4.2" fill="url(#gr2)"/><circle cx="440.2" cy="639.2" r="4.2" fill="url(#gr2)"/><circle cx="464.5" cy="652.2" r="3.1" fill="url(#gr1)"/><circle cx="406" cy="704" r="3.2" fill="url(#gr3)"/><circle cx="524.3" cy="675.7" r="4" fill="url(#gr1)"/><circle cx="503.1" cy="684" r="4" fill="url(#gr3)"/><circle cx="406.8" cy="713.3" r="3.9" fill="url(#gr1)"/><circle cx="480.5" cy="641.7" r="3.3" fill="url(#gr1)"/><circle cx="397.4" cy="679.8" r="3.9" fill="url(#gr1)"/><circle cx="493.4" cy="714.6" r="3.6" fill="url(#gr2)"/><circle cx="404.8" cy="688.1" r="4.2" fill="url(#gr3)"/><circle cx="455.5" cy="589.6" r="3.8" fill="url(#gr1)"/><circle cx="510.2" cy="643.5" r="3.6" fill="url(#gr1)"/><circle cx="438.8" cy="675.1" r="3.2" fill="url(#gr2)"/><circle cx="473.4" cy="585.3" r="4.4" fill="url(#gr1)"/><circle cx="479.1" cy="695.2" r="4.2" fill="url(#gr1)"/><circle cx="484" cy="669.4" r="4.3" fill="url(#gr2)"/><circle cx="515.4" cy="699.7" r="4" fill="url(#gr3)"/><circle cx="428.7" cy="638.2" r="3.7" fill="url(#gr3)"/><circle cx="455.7" cy="604.9" r="3.8" fill="url(#gr1)"/><circle cx="401.8" cy="646.5" r="3.8" fill="url(#gr2)"/><circle cx="519.8" cy="588.7" r="3.6" fill="url(#gr1)"/><circle cx="447.7" cy="676.9" r="3.8" fill="url(#gr2)"/><circle cx="455.7" cy="616.8" r="3.5" fill="url(#gr3)"/><circle cx="513.4" cy="670.4" r="3.2" fill="url(#gr2)"/><circle cx="431.2" cy="665.8" r="4.1" fill="url(#gr1)"/><circle cx="498.9" cy="610.8" r="3.6" fill="url(#gr3)"/><circle cx="525.6" cy="662" r="3.5" fill="url(#gr1)"/><circle cx="477.8" cy="642.9" r="4.2" fill="url(#gr2)"/><circle cx="487.8" cy="706.7" r="3.8" fill="url(#gr2)"/><circle cx="407.2" cy="687.9" r="3.6" fill="url(#gr2)"/><circle cx="484.4" cy="589.8" r="3.3" fill="url(#gr3)"/><circle cx="414.9" cy="642.3" r="2.9" fill="url(#gr2)"/><circle cx="479.4" cy="610" r="3.4" fill="url(#gr3)"/><circle cx="402.7" cy="668.7" r="4.4" fill="url(#gr3)"/><circle cx="506.8" cy="639.2" r="3.1" fill="url(#gr1)"/><circle cx="453.7" cy="657.6" r="4.2" fill="url(#gr3)"/><circle cx="498" cy="679.3" r="3.6" fill="url(#gr1)"/><circle cx="399.2" cy="649.3" r="3.4" fill="url(#gr3)"/><circle cx="495.3" cy="712.9" r="3.3" fill="url(#gr2)"/><circle cx="510.4" cy="594.9" r="3.8" fill="url(#gr2)"/><circle cx="455.7" cy="613.2" r="3.3" fill="url(#gr3)"/><circle cx="479.8" cy="637" r="3.4" fill="url(#gr2)"/><circle cx="524.1" cy="617.3" r="4.4" fill="url(#gr1)"/><circle cx="496.2" cy="607.1" r="4" fill="url(#gr2)"/><circle cx="457.9" cy="642.3" r="3.2" fill="url(#gr2)"/><circle cx="480.6" cy="664.8" r="4.3" fill="url(#gr2)"/><circle cx="396" cy="668.3" r="4.5" fill="url(#gr2)"/><circle cx="478.9" cy="637.3" r="4.4" fill="url(#gr2)"/><circle cx="505.9" cy="689.1" r="3" fill="url(#gr3)"/><circle cx="446.2" cy="702.7" r="3.9" fill="url(#gr1)"/><circle cx="513.6" cy="697.9" r="3" fill="url(#gr2)"/><circle cx="425.6" cy="661" r="3.6" fill="url(#gr2)"/><circle cx="476.6" cy="675.6" r="3.2" fill="url(#gr1)"/><circle cx="433.7" cy="656.3" r="4.2" fill="url(#gr1)"/><circle cx="422.4" cy="642.7" r="4" fill="url(#gr2)"/><circle cx="520.1" cy="622.6" r="3" fill="url(#gr2)"/><circle cx="522.6" cy="685.1" r="3.2" fill="url(#gr3)"/><circle cx="470.4" cy="681.7" r="2.9" fill="url(#gr2)"/><circle cx="452.6" cy="660.1" r="3.5" fill="url(#gr3)"/><circle cx="408.5" cy="654.6" r="4.1" fill="url(#gr1)"/><circle cx="464.7" cy="593.2" r="3.7" fill="url(#gr1)"/><circle cx="504.4" cy="605.5" r="3.8" fill="url(#gr1)"/><circle cx="439.2" cy="666.9" r="3.5" fill="url(#gr3)"/><circle cx="512.2" cy="633.8" r="4.3" fill="url(#gr2)"/><circle cx="474.8" cy="676.1" r="3.1" fill="url(#gr1)"/><circle cx="518.5" cy="685.4" r="4.1" fill="url(#gr3)"/><circle cx="397.7" cy="705.5" r="4" fill="url(#gr1)"/><circle cx="475.5" cy="653.5" r="3.8" fill="url(#gr1)"/><circle cx="513.8" cy="602" r="4.1" fill="url(#gr2)"/><circle cx="416.8" cy="695.5" r="3.4" fill="url(#gr3)"/><circle cx="476.6" cy="612.4" r="3.9" fill="url(#gr3)"/><circle cx="426.1" cy="713" r="4.5" fill="url(#gr2)"/><circle cx="497.8" cy="683.4" r="3.5" fill="url(#gr3)"/><circle cx="509.6" cy="652.4" r="3.2" fill="url(#gr3)"/><circle cx="400" cy="694.9" r="2.9" fill="url(#gr3)"/><circle cx="409.6" cy="684.8" r="4.4" fill="url(#gr2)"/><circle cx="418.3" cy="653.7" r="3.9" fill="url(#gr3)"/><circle cx="498.4" cy="603.1" r="3.7" fill="url(#gr3)"/><circle cx="481.5" cy="702.2" r="2.8" fill="url(#gr1)"/><circle cx="481.4" cy="632.3" r="4.1" fill="url(#gr3)"/><circle cx="501.8" cy="680" r="3.7" fill="url(#gr1)"/><circle cx="452.9" cy="597.5" r="4.2" fill="url(#gr1)"/><circle cx="490.9" cy="714" r="3.2" fill="url(#gr2)"/><circle cx="485" cy="650.5" r="4.1" fill="url(#gr2)"/><circle cx="451.8" cy="624.2" r="4.5" fill="url(#gr1)"/><circle cx="424" cy="654.2" r="3.5" fill="url(#gr1)"/><circle cx="525.9" cy="661.6" r="4.2" fill="url(#gr3)"/><circle cx="469.8" cy="699.4" r="4.2" fill="url(#gr2)"/><circle cx="483.6" cy="691.8" r="4.6" fill="url(#gr3)"/><circle cx="506.6" cy="641.8" r="3" fill="url(#gr3)"/><circle cx="460.1" cy="653.9" r="3.5" fill="url(#gr2)"/><circle cx="457.3" cy="634.8" r="3.9" fill="url(#gr2)"/><circle cx="526.4" cy="642.9" r="4.5" fill="url(#gr1)"/><circle cx="442.9" cy="667.4" r="3.7" fill="url(#gr1)"/><circle cx="488.3" cy="703" r="3.5" fill="url(#gr3)"/><circle cx="506.8" cy="692.9" r="3.2" fill="url(#gr2)"/><circle cx="449.5" cy="684.7" r="2.8" fill="url(#gr2)"/><circle cx="412.8" cy="717" r="3.8" fill="url(#gr3)"/><circle cx="460.8" cy="700" r="3.8" fill="url(#gr1)"/><circle cx="436.4" cy="712.5" r="3.9" fill="url(#gr1)"/><circle cx="512.8" cy="596.7" r="2.9" fill="url(#gr3)"/><circle cx="448.8" cy="651.6" r="3.2" fill="url(#gr3)"/><circle cx="511.8" cy="616.7" r="2.9" fill="url(#gr2)"/><circle cx="451.2" cy="641" r="3.8" fill="url(#gr2)"/><circle cx="460.2" cy="668.8" r="3.9" fill="url(#gr1)"/><circle cx="526.9" cy="684.5" r="4.5" fill="url(#gr1)"/><circle cx="521" cy="657.9" r="4.4" fill="url(#gr2)"/><circle cx="476.2" cy="698" r="4.1" fill="url(#gr3)"/><circle cx="483.3" cy="607.2" r="3.8" fill="url(#gr2)"/><circle cx="433.7" cy="673" r="4.1" fill="url(#gr3)"/><circle cx="505.8" cy="608.4" r="3.8" fill="url(#gr2)"/><circle cx="437" cy="660" r="3.7" fill="url(#gr3)"/><circle cx="423.5" cy="670.2" r="4.1" fill="url(#gr1)"/><circle cx="473.3" cy="651.3" r="3.6" fill="url(#gr3)"/><circle cx="495.7" cy="641.9" r="3.1" fill="url(#gr3)"/><circle cx="464.3" cy="689" r="4.4" fill="url(#gr1)"/><circle cx="420.3" cy="654.1" r="3" fill="url(#gr2)"/><circle cx="429.1" cy="656.6" r="3.7" fill="url(#gr1)"/><circle cx="526.2" cy="713.3" r="3.5" fill="url(#gr3)"/><circle cx="470.9" cy="642.1" r="3.5" fill="url(#gr1)"/><circle cx="516.4" cy="661.1" r="3.1" fill="url(#gr1)"/><circle cx="467.8" cy="696.2" r="3.1" fill="url(#gr2)"/><circle cx="494.9" cy="588.4" r="4" fill="url(#gr3)"/><circle cx="440.9" cy="697.9" r="4.3" fill="url(#gr1)"/><circle cx="400.1" cy="657.7" r="3.9" fill="url(#gr3)"/><circle cx="502.4" cy="639.6" r="4.2" fill="url(#gr3)"/><circle cx="504" cy="647.2" r="4.4" fill="url(#gr1)"/><circle cx="421.5" cy="701.6" r="3.3" fill="url(#gr1)"/><circle cx="413.6" cy="649" r="4.5" fill="url(#gr2)"/><circle cx="424.7" cy="650.4" r="3.6" fill="url(#gr3)"/><circle cx="466.3" cy="607.5" r="2.8" fill="url(#gr1)"/><circle cx="410.6" cy="685.4" r="3.8" fill="url(#gr3)"/><circle cx="517.3" cy="660.4" r="4.1" fill="url(#gr1)"/><circle cx="452.8" cy="591.5" r="3.8" fill="url(#gr1)"/><circle cx="469.6" cy="696.9" r="3.9" fill="url(#gr1)"/><circle cx="442.9" cy="716.9" r="3.5" fill="url(#gr1)"/><circle cx="507.6" cy="641.3" r="3.9" fill="url(#gr3)"/><circle cx="478.7" cy="684.3" r="4.2" fill="url(#gr3)"/><circle cx="518.3" cy="624.3" r="3.9" fill="url(#gr2)"/><circle cx="500.6" cy="635" r="3.1" fill="url(#gr3)"/><circle cx="429.5" cy="639.4" r="3.8" fill="url(#gr2)"/><circle cx="525.9" cy="611.8" r="4.4" fill="url(#gr2)"/><circle cx="454.2" cy="587.1" r="4.5" fill="url(#gr3)"/><circle cx="482" cy="621.8" r="3.2" fill="url(#gr1)"/><circle cx="518.5" cy="638.6" r="4.1" fill="url(#gr3)"/><circle cx="521.2" cy="606.1" r="4.1" fill="url(#gr2)"/><circle cx="494.5" cy="686" r="4.5" fill="url(#gr2)"/><circle cx="510.4" cy="598" r="4.6" fill="url(#gr1)"/><circle cx="403.6" cy="668.8" r="3.1" fill="url(#gr1)"/><circle cx="411.5" cy="706.3" r="4.1" fill="url(#gr2)"/><circle cx="498.8" cy="706.1" r="3.8" fill="url(#gr1)"/><circle cx="485" cy="671.5" r="2.9" fill="url(#gr2)"/><circle cx="456.1" cy="678.7" r="4.4" fill="url(#gr2)"/><circle cx="471.2" cy="633" r="3" fill="url(#gr1)"/><circle cx="399.5" cy="699" r="4" fill="url(#gr2)"/><circle cx="483.5" cy="683.2" r="2.9" fill="url(#gr3)"/><circle cx="452.5" cy="613.9" r="4" fill="url(#gr1)"/><circle cx="412.2" cy="691.8" r="3.8" fill="url(#gr3)"/><circle cx="488.9" cy="643.5" r="3.3" fill="url(#gr1)"/><circle cx="517" cy="714.2" r="2.9" fill="url(#gr1)"/><circle cx="467.9" cy="695.9" r="4.5" fill="url(#gr3)"/><circle cx="448.3" cy="717.9" r="4" fill="url(#gr3)"/><circle cx="513.9" cy="713" r="4.5" fill="url(#gr1)"/><circle cx="443.6" cy="702.5" r="2.8" fill="url(#gr1)"/><circle cx="465.9" cy="677.2" r="3.4" fill="url(#gr1)"/><circle cx="466.9" cy="709" r="3.7" fill="url(#gr3)"/><circle cx="500.8" cy="635" r="4.5" fill="url(#gr1)"/><circle cx="435.5" cy="657.4" r="2.9" fill="url(#gr2)"/><circle cx="510" cy="702.6" r="4.2" fill="url(#gr1)"/><circle cx="414" cy="666.6" r="4.3" fill="url(#gr1)"/><circle cx="476.5" cy="611.9" r="4.5" fill="url(#gr2)"/><circle cx="499.9" cy="709.2" r="3" fill="url(#gr3)"/><circle cx="462.8" cy="653.2" r="4.6" fill="url(#gr2)"/><circle cx="398.7" cy="671.6" r="4.3" fill="url(#gr2)"/><circle cx="437.2" cy="662.2" r="3.7" fill="url(#gr2)"/><circle cx="411" cy="691.1" r="3.9" fill="url(#gr3)"/><circle cx="443" cy="679.4" r="3.4" fill="url(#gr2)"/><circle cx="415.6" cy="693.6" r="4.5" fill="url(#gr2)"/><circle cx="484.7" cy="604.3" r="4.5" fill="url(#gr3)"/><circle cx="455.8" cy="681.5" r="2.9" fill="url(#gr2)"/><circle cx="475.6" cy="646.2" r="3" fill="url(#gr2)"/><circle cx="419.6" cy="660.3" r="4.6" fill="url(#gr2)"/><circle cx="475.6" cy="618.1" r="3.1" fill="url(#gr3)"/><circle cx="520.9" cy="587.9" r="4.2" fill="url(#gr2)"/><circle cx="472.3" cy="702.9" r="3.8" fill="url(#gr2)"/><circle cx="465" cy="592.7" r="3" fill="url(#gr3)"/><circle cx="437.4" cy="651.6" r="3.5" fill="url(#gr3)"/><circle cx="486.9" cy="705.1" r="2.9" fill="url(#gr1)"/><circle cx="498.4" cy="693" r="4.3" fill="url(#gr3)"/><circle cx="524.5" cy="596.2" r="3" fill="url(#gr1)"/><circle cx="489" cy="703.5" r="3.7" fill="url(#gr2)"/><circle cx="511.1" cy="640.6" r="3.7" fill="url(#gr3)"/><circle cx="479" cy="641.2" r="3.7" fill="url(#gr1)"/><circle cx="426.6" cy="687.5" r="3.5" fill="url(#gr1)"/><circle cx="453" cy="687.4" r="3.9" fill="url(#gr1)"/><circle cx="406.5" cy="660.7" r="3.8" fill="url(#gr2)"/><circle cx="526.2" cy="703.8" r="4" fill="url(#gr3)"/><circle cx="498" cy="600.3" r="3.8" fill="url(#gr2)"/><circle cx="518.5" cy="698.9" r="2.9" fill="url(#gr2)"/><circle cx="493.6" cy="620.1" r="4.4" fill="url(#gr2)"/><circle cx="506.6" cy="692.5" r="3.7" fill="url(#gr3)"/><circle cx="516.3" cy="585.9" r="3.5" fill="url(#gr2)"/><circle cx="509.5" cy="689.5" r="3" fill="url(#gr1)"/><circle cx="425.7" cy="690.8" r="3" fill="url(#gr3)"/><circle cx="449.4" cy="597.1" r="3.7" fill="url(#gr3)"/><circle cx="419.9" cy="695.9" r="3.3" fill="url(#gr3)"/><circle cx="507.3" cy="629.1" r="2.9" fill="url(#gr1)"/><circle cx="458.5" cy="618.6" r="3" fill="url(#gr2)"/><circle cx="464.8" cy="598.4" r="4.6" fill="url(#gr1)"/><circle cx="465.3" cy="597.2" r="3.1" fill="url(#gr2)"/><circle cx="513.2" cy="717.9" r="3.2" fill="url(#gr3)"/><circle cx="413.8" cy="698.8" r="2.8" fill="url(#gr3)"/><circle cx="521.4" cy="652.9" r="4.3" fill="url(#gr1)"/><circle cx="492.8" cy="710.6" r="4.5" fill="url(#gr2)"/><circle cx="470.2" cy="601.8" r="4.3" fill="url(#gr2)"/><circle cx="468.6" cy="584.9" r="4.4" fill="url(#gr1)"/><circle cx="475.7" cy="708.8" r="3.9" fill="url(#gr2)"/><circle cx="397.7" cy="716.9" r="3.4" fill="url(#gr2)"/><circle cx="465.9" cy="654.3" r="3.6" fill="url(#gr3)"/><circle cx="450.8" cy="673.5" r="4.1" fill="url(#gr3)"/><circle cx="491.1" cy="677.8" r="3" fill="url(#gr1)"/><circle cx="467" cy="595.3" r="3.8" fill="url(#gr3)"/><circle cx="468.8" cy="672.6" r="4.2" fill="url(#gr2)"/><circle cx="481.5" cy="663.5" r="2.9" fill="url(#gr1)"/><circle cx="508.4" cy="700.8" r="4" fill="url(#gr1)"/><circle cx="483.6" cy="649.5" r="3.2" fill="url(#gr1)"/><circle cx="411.5" cy="702" r="3.7" fill="url(#gr1)"/><circle cx="514" cy="623.8" r="3.9" fill="url(#gr3)"/><circle cx="478.4" cy="674.6" r="3.8" fill="url(#gr1)"/><circle cx="481.1" cy="643.9" r="3.1" fill="url(#gr2)"/><circle cx="502.5" cy="626.8" r="3.1" fill="url(#gr1)"/><circle cx="448.1" cy="640.5" r="3.8" fill="url(#gr1)"/><circle cx="454.7" cy="686.7" r="2.9" fill="url(#gr3)"/><circle cx="481" cy="600.1" r="3.4" fill="url(#gr3)"/><circle cx="490.9" cy="632.6" r="3.5" fill="url(#gr2)"/><circle cx="478.8" cy="607.8" r="4.5" fill="url(#gr2)"/><circle cx="511.1" cy="592.3" r="3.4" fill="url(#gr2)"/><circle cx="479.4" cy="662.3" r="3.9" fill="url(#gr3)"/><circle cx="430.2" cy="673.6" r="4.4" fill="url(#gr2)"/><circle cx="443.3" cy="679.7" r="4.2" fill="url(#gr2)"/><circle cx="451.2" cy="714.9" r="4.3" fill="url(#gr1)"/><circle cx="399.7" cy="691.7" r="3.6" fill="url(#gr2)"/><circle cx="519.1" cy="684.8" r="2.9" fill="url(#gr3)"/><circle cx="503.4" cy="648.8" r="4.3" fill="url(#gr1)"/><circle cx="398" cy="674" r="3.8" fill="url(#gr2)"/><circle cx="468.6" cy="605.7" r="4.4" fill="url(#gr1)"/><circle cx="459.6" cy="700.3" r="3.6" fill="url(#gr1)"/><circle cx="460.9" cy="627.8" r="4.6" fill="url(#gr1)"/><circle cx="523.7" cy="604.7" r="3.6" fill="url(#gr1)"/><circle cx="495.6" cy="669.3" r="4.3" fill="url(#gr1)"/><circle cx="400.5" cy="674.5" r="3.1" fill="url(#gr1)"/><circle cx="449.8" cy="684.9" r="3.6" fill="url(#gr1)"/><circle cx="472.6" cy="618.8" r="3.3" fill="url(#gr3)"/><circle cx="464.8" cy="587.3" r="2.8" fill="url(#gr3)"/><circle cx="492.1" cy="700.2" r="2.9" fill="url(#gr2)"/><circle cx="478.9" cy="584.9" r="3" fill="url(#gr2)"/><circle cx="507.3" cy="589.5" r="3.5" fill="url(#gr2)"/><circle cx="398.5" cy="713.5" r="3.6" fill="url(#gr1)"/><circle cx="526" cy="656.8" r="4.3" fill="url(#gr2)"/><circle cx="403.6" cy="703.1" r="3.2" fill="url(#gr3)"/><circle cx="400.3" cy="665.4" r="3" fill="url(#gr2)"/><circle cx="526.1" cy="708.4" r="3.6" fill="url(#gr2)"/><circle cx="423.1" cy="690" r="4.3" fill="url(#gr2)"/><circle cx="444" cy="675.6" r="3.7" fill="url(#gr3)"/><circle cx="492.4" cy="650.4" r="4.1" fill="url(#gr2)"/><circle cx="459.1" cy="646.2" r="3.2" fill="url(#gr1)"/><circle cx="473.2" cy="636.3" r="4.5" fill="url(#gr1)"/><circle cx="483.8" cy="686.6" r="2.9" fill="url(#gr1)"/><circle cx="467.8" cy="704.7" r="3.4" fill="url(#gr2)"/><circle cx="507.4" cy="621" r="3.7" fill="url(#gr1)"/><circle cx="523" cy="655.7" r="3.9" fill="url(#gr2)"/><circle cx="518.7" cy="627.8" r="4.4" fill="url(#gr3)"/><circle cx="509.2" cy="683.4" r="4" fill="url(#gr2)"/><circle cx="494.4" cy="596.3" r="4.6" fill="url(#gr1)"/><circle cx="514.7" cy="698.4" r="3" fill="url(#gr3)"/><circle cx="428.4" cy="672.5" r="3" fill="url(#gr3)"/><circle cx="432" cy="690" r="4.5" fill="url(#gr2)"/><circle cx="426.1" cy="674.3" r="4.2" fill="url(#gr1)"/><circle cx="462.5" cy="687.5" r="4" fill="url(#gr1)"/><circle cx="413.9" cy="650" r="3.4" fill="url(#gr1)"/><circle cx="503.9" cy="708.7" r="3.1" fill="url(#gr1)"/><circle cx="476.6" cy="659.5" r="3.2" fill="url(#gr1)"/><circle cx="453.4" cy="614" r="3" fill="url(#gr1)"/><circle cx="507.8" cy="649" r="3.5" fill="url(#gr1)"/><circle cx="452.7" cy="625.5" r="3.1" fill="url(#gr1)"/><circle cx="459.4" cy="616.4" r="3.3" fill="url(#gr2)"/><circle cx="476.9" cy="643.3" r="3.9" fill="url(#gr1)"/><circle cx="513" cy="593.8" r="4.4" fill="url(#gr2)"/><circle cx="409.5" cy="684.7" r="3.1" fill="url(#gr1)"/><circle cx="460.4" cy="716.5" r="3.6" fill="url(#gr3)"/><circle cx="436.5" cy="650" r="2.9" fill="url(#gr1)"/><circle cx="400.5" cy="697.2" r="3.6" fill="url(#gr3)"/><circle cx="438.3" cy="687.2" r="3.5" fill="url(#gr1)"/><circle cx="484.9" cy="612.6" r="3.3" fill="url(#gr3)"/><circle cx="403.9" cy="658.6" r="3.5" fill="url(#gr1)"/><circle cx="399.6" cy="678.2" r="2.9" fill="url(#gr3)"/><circle cx="403.9" cy="716.1" r="3.2" fill="url(#gr2)"/><circle cx="523.7" cy="622.8" r="4.3" fill="url(#gr1)"/><circle cx="427.1" cy="655.5" r="3" fill="url(#gr1)"/><circle cx="448.1" cy="618.2" r="4.4" fill="url(#gr3)"/><circle cx="448.7" cy="715.4" r="4.2" fill="url(#gr3)"/><circle cx="461.9" cy="713" r="4.3" fill="url(#gr1)"/><circle cx="519.4" cy="707.4" r="3.3" fill="url(#gr2)"/><circle cx="495.2" cy="680.2" r="3.8" fill="url(#gr3)"/><circle cx="443.5" cy="655.5" r="3.9" fill="url(#gr1)"/><circle cx="453.5" cy="657.8" r="3.6" fill="url(#gr2)"/><circle cx="396.4" cy="657.6" r="3.9" fill="url(#gr2)"/><circle cx="514.8" cy="626.3" r="4.1" fill="url(#gr3)"/><circle cx="408.6" cy="708.6" r="4.5" fill="url(#gr3)"/><circle cx="455.9" cy="614.3" r="3.1" fill="url(#gr3)"/><circle cx="451.2" cy="691.3" r="3.5" fill="url(#gr1)"/><circle cx="405.2" cy="657" r="3.3" fill="url(#gr2)"/><circle cx="496.2" cy="603.9" r="3.9" fill="url(#gr2)"/><circle cx="488.1" cy="623.4" r="3.2" fill="url(#gr2)"/><circle cx="397.2" cy="655.8" r="4.6" fill="url(#gr3)"/><circle cx="489.9" cy="664.4" r="3.8" fill="url(#gr2)"/><circle cx="516.4" cy="604.7" r="4.1" fill="url(#gr2)"/><circle cx="453.9" cy="685.1" r="3.3" fill="url(#gr2)"/><circle cx="515.6" cy="715.5" r="3.6" fill="url(#gr3)"/><circle cx="443.8" cy="648.8" r="3.3" fill="url(#gr2)"/><circle cx="496.4" cy="605.8" r="3.6" fill="url(#gr3)"/><circle cx="463.4" cy="688.7" r="4.4" fill="url(#gr2)"/><circle cx="493.2" cy="600.5" r="4.2" fill="url(#gr2)"/><circle cx="507.8" cy="684.3" r="3.3" fill="url(#gr2)"/><circle cx="399.9" cy="687.5" r="2.9" fill="url(#gr3)"/><circle cx="437.5" cy="689.4" r="3.2" fill="url(#gr3)"/><circle cx="434.1" cy="654.5" r="4.4" fill="url(#gr1)"/><circle cx="478.2" cy="669.8" r="4.2" fill="url(#gr1)"/><circle cx="509.9" cy="696" r="2.8" fill="url(#gr1)"/><circle cx="424.2" cy="667.8" r="3.7" fill="url(#gr2)"/><circle cx="477.8" cy="670.2" r="3.3" fill="url(#gr2)"/><circle cx="411.6" cy="681.1" r="3" fill="url(#gr2)"/><circle cx="506.2" cy="717.3" r="3.5" fill="url(#gr2)"/><circle cx="425.2" cy="666.2" r="4.4" fill="url(#gr1)"/><circle cx="398.2" cy="669.1" r="3.7" fill="url(#gr2)"/><circle cx="412.3" cy="679.1" r="4.3" fill="url(#gr2)"/><circle cx="445.1" cy="663.6" r="4.1" fill="url(#gr2)"/><circle cx="527.6" cy="623.3" r="4.4" fill="url(#gr2)"/><circle cx="512.9" cy="687" r="4.3" fill="url(#gr3)"/><circle cx="458.3" cy="635.6" r="2.8" fill="url(#gr2)"/><circle cx="493.2" cy="705.9" r="4.5" fill="url(#gr1)"/><circle cx="490.1" cy="588.7" r="4.1" fill="url(#gr1)"/><circle cx="453.5" cy="624.8" r="4.2" fill="url(#gr3)"/><circle cx="420.9" cy="708.6" r="4.3" fill="url(#gr3)"/><circle cx="513.2" cy="665.9" r="3.5" fill="url(#gr2)"/><circle cx="480.7" cy="653.4" r="4.6" fill="url(#gr1)"/><circle cx="497.6" cy="599.2" r="3.8" fill="url(#gr2)"/><circle cx="468.7" cy="631.8" r="3.4" fill="url(#gr1)"/><circle cx="455.3" cy="714.9" r="4.2" fill="url(#gr3)"/><circle cx="466.8" cy="599.6" r="3.4" fill="url(#gr1)"/><circle cx="477.1" cy="679.5" r="3.8" fill="url(#gr3)"/><circle cx="525.2" cy="605.6" r="3" fill="url(#gr3)"/><circle cx="507.1" cy="704.1" r="4.2" fill="url(#gr3)"/><circle cx="430.5" cy="691.8" r="3.1" fill="url(#gr2)"/><circle cx="487" cy="645.2" r="3.2" fill="url(#gr1)"/><circle cx="395.2" cy="645.2" r="3.9" fill="url(#gr2)"/><circle cx="407.5" cy="646.5" r="3.3" fill="url(#gr2)"/><circle cx="447.3" cy="667.6" r="3.5" fill="url(#gr2)"/><circle cx="485.7" cy="641.4" r="3.3" fill="url(#gr1)"/><circle cx="420.9" cy="649.6" r="3.9" fill="url(#gr1)"/><circle cx="450.8" cy="635.6" r="3.9" fill="url(#gr1)"/><circle cx="440.3" cy="640.7" r="4.3" fill="url(#gr2)"/><circle cx="483.7" cy="632.2" r="3.1" fill="url(#gr1)"/><circle cx="522.8" cy="644.4" r="2.9" fill="url(#gr2)"/><circle cx="428.1" cy="681" r="4.4" fill="url(#gr1)"/><circle cx="487.4" cy="668.8" r="4" fill="url(#gr1)"/><circle cx="402" cy="642" r="3.2" fill="url(#gr3)"/><circle cx="483.2" cy="686" r="3.2" fill="url(#gr1)"/><circle cx="422.7" cy="650.7" r="3.7" fill="url(#gr3)"/><circle cx="513.8" cy="606" r="3.2" fill="url(#gr3)"/><circle cx="485.2" cy="612.6" r="3.9" fill="url(#gr2)"/><circle cx="501.7" cy="587.5" r="3.9" fill="url(#gr1)"/><circle cx="397.4" cy="692.8" r="3.3" fill="url(#gr1)"/><circle cx="470.1" cy="612" r="4.1" fill="url(#gr1)"/><circle cx="403.4" cy="662.2" r="4" fill="url(#gr3)"/><circle cx="515" cy="688" r="3.7" fill="url(#gr3)"/><circle cx="516.2" cy="588.2" r="4.2" fill="url(#gr2)"/><circle cx="493.9" cy="598.7" r="4.4" fill="url(#gr3)"/><circle cx="475.3" cy="632.4" r="4.1" fill="url(#gr3)"/><circle cx="521.2" cy="698.2" r="3.7" fill="url(#gr3)"/><circle cx="500.1" cy="614.3" r="4.5" fill="url(#gr1)"/><circle cx="522.3" cy="673.5" r="3.1" fill="url(#gr1)"/><circle cx="491.9" cy="694" r="3.4" fill="url(#gr3)"/><circle cx="507.7" cy="657.2" r="3.8" fill="url(#gr1)"/><circle cx="461.5" cy="676.5" r="4.3" fill="url(#gr3)"/><circle cx="482.5" cy="646.8" r="3.4" fill="url(#gr1)"/><circle cx="515.2" cy="698.5" r="2.9" fill="url(#gr1)"/><circle cx="453.4" cy="587.6" r="4.6" fill="url(#gr1)"/><circle cx="476.2" cy="603.2" r="3.1" fill="url(#gr1)"/><circle cx="409.5" cy="715.5" r="3.3" fill="url(#gr3)"/><circle cx="398" cy="661.7" r="2.9" fill="url(#gr2)"/><circle cx="459.2" cy="625.6" r="4.3" fill="url(#gr3)"/><circle cx="462.6" cy="694" r="3.2" fill="url(#gr3)"/><circle cx="414.2" cy="668.1" r="3.7" fill="url(#gr1)"/><circle cx="438.9" cy="648.4" r="3.9" fill="url(#gr1)"/><circle cx="474.8" cy="703.6" r="3.8" fill="url(#gr2)"/><circle cx="432.4" cy="691.3" r="4.3" fill="url(#gr1)"/><circle cx="515.7" cy="615.4" r="3.9" fill="url(#gr2)"/><circle cx="483.1" cy="585.4" r="3.7" fill="url(#gr1)"/><circle cx="409.5" cy="695.7" r="4.3" fill="url(#gr1)"/><circle cx="522.7" cy="607.6" r="4.6" fill="url(#gr3)"/><circle cx="446.3" cy="697" r="4.5" fill="url(#gr3)"/><circle cx="442.4" cy="673.6" r="4.4" fill="url(#gr1)"/><circle cx="502.7" cy="644.4" r="4.2" fill="url(#gr1)"/><circle cx="501.2" cy="612" r="2.9" fill="url(#gr1)"/><circle cx="455" cy="668.1" r="3.1" fill="url(#gr3)"/><circle cx="423.8" cy="685.4" r="3.6" fill="url(#gr3)"/><circle cx="402.9" cy="672.2" r="4.5" fill="url(#gr2)"/><circle cx="451.7" cy="663.6" r="3.4" fill="url(#gr1)"/><circle cx="459.1" cy="660.5" r="3.3" fill="url(#gr1)"/><circle cx="500.1" cy="715.1" r="3.9" fill="url(#gr3)"/><circle cx="522.9" cy="702.8" r="4" fill="url(#gr1)"/><circle cx="501" cy="603.4" r="4.4" fill="url(#gr2)"/><circle cx="482.1" cy="607.5" r="3" fill="url(#gr2)"/><circle cx="463.4" cy="709.6" r="2.8" fill="url(#gr1)"/><circle cx="448" cy="647" r="3.1" fill="url(#gr1)"/><circle cx="511" cy="635.3" r="4.6" fill="url(#gr2)"/><circle cx="397.8" cy="665.3" r="4.5" fill="url(#gr2)"/><circle cx="470.2" cy="646" r="3.3" fill="url(#gr1)"/><circle cx="452.1" cy="605.7" r="3.5" fill="url(#gr3)"/><circle cx="499.4" cy="632.8" r="3.5" fill="url(#gr3)"/><circle cx="526.5" cy="629.7" r="3.5" fill="url(#gr3)"/><circle cx="490.7" cy="612.3" r="3.7" fill="url(#gr3)"/><circle cx="419.4" cy="641.7" r="4.1" fill="url(#gr3)"/><circle cx="512.6" cy="687" r="4.3" fill="url(#gr1)"/><circle cx="515.4" cy="643.4" r="3.9" fill="url(#gr3)"/><circle cx="493.8" cy="680" r="4" fill="url(#gr3)"/><circle cx="399.8" cy="662.1" r="3.3" fill="url(#gr3)"/><circle cx="480.9" cy="631.5" r="4.1" fill="url(#gr3)"/><circle cx="524.5" cy="714.3" r="4.5" fill="url(#gr3)"/><circle cx="514.8" cy="651.3" r="4.4" fill="url(#gr2)"/><circle cx="493.1" cy="700.3" r="3.7" fill="url(#gr1)"/><circle cx="468.1" cy="699.8" r="2.8" fill="url(#gr2)"/><circle cx="477.2" cy="703" r="3.6" fill="url(#gr2)"/><circle cx="464.7" cy="697.3" r="3.6" fill="url(#gr3)"/><circle cx="440.9" cy="686.7" r="2.9" fill="url(#gr3)"/><circle cx="483.2" cy="717.2" r="3.9" fill="url(#gr2)"/><circle cx="405.3" cy="704.5" r="3.7" fill="url(#gr3)"/><circle cx="495.8" cy="673.4" r="3.6" fill="url(#gr1)"/><circle cx="458.2" cy="613.7" r="4.5" fill="url(#gr2)"/><circle cx="412.9" cy="692.8" r="3.3" fill="url(#gr2)"/><circle cx="514.6" cy="640" r="2.8" fill="url(#gr2)"/><circle cx="508.1" cy="635.1" r="3.8" fill="url(#gr3)"/><circle cx="512.3" cy="668.3" r="3.9" fill="url(#gr3)"/><circle cx="498.5" cy="661.9" r="3.1" fill="url(#gr2)"/><circle cx="438" cy="714.6" r="4.6" fill="url(#gr1)"/><circle cx="525" cy="652.6" r="3.7" fill="url(#gr2)"/><circle cx="478.6" cy="704.1" r="3.8" fill="url(#gr3)"/><circle cx="443.6" cy="698" r="3.2" fill="url(#gr3)"/><circle cx="395.5" cy="682.7" r="3.3" fill="url(#gr2)"/><circle cx="447.9" cy="673.2" r="4.5" fill="url(#gr1)"/><circle cx="430.9" cy="705.4" r="3.8" fill="url(#gr1)"/><circle cx="458" cy="690.1" r="3.7" fill="url(#gr1)"/><circle cx="438.2" cy="705" r="4.2" fill="url(#gr3)"/><circle cx="518.1" cy="656.7" r="3.3" fill="url(#gr3)"/><circle cx="397.3" cy="664.3" r="4.5" fill="url(#gr3)"/><circle cx="475.2" cy="677.7" r="4.5" fill="url(#gr3)"/><circle cx="480.8" cy="626" r="3" fill="url(#gr2)"/><circle cx="402.9" cy="684.4" r="3.7" fill="url(#gr1)"/><circle cx="522.9" cy="590.1" r="3.1" fill="url(#gr3)"/><circle cx="460.8" cy="584.8" r="4.4" fill="url(#gr1)"/><circle cx="489.3" cy="682.5" r="4.5" fill="url(#gr3)"/><circle cx="491.9" cy="701.6" r="3.7" fill="url(#gr3)"/><circle cx="464.1" cy="602.3" r="4" fill="url(#gr1)"/><circle cx="478.7" cy="641" r="4.5" fill="url(#gr3)"/><circle cx="488.7" cy="639.2" r="4.3" fill="url(#gr2)"/><circle cx="526.7" cy="700.3" r="3.6" fill="url(#gr3)"/><circle cx="443.3" cy="656.4" r="4" fill="url(#gr2)"/><circle cx="447.1" cy="715" r="4.6" fill="url(#gr3)"/><circle cx="432.2" cy="673.1" r="4.2" fill="url(#gr1)"/><circle cx="441.3" cy="668.2" r="3" fill="url(#gr1)"/><circle cx="395.7" cy="650.8" r="4.4" fill="url(#gr2)"/><circle cx="404.8" cy="645.7" r="2.8" fill="url(#gr2)"/><circle cx="409.3" cy="689.1" r="3.9" fill="url(#gr3)"/><circle cx="516.1" cy="651.1" r="4.5" fill="url(#gr1)"/><circle cx="431.5" cy="673.9" r="3.9" fill="url(#gr1)"/><circle cx="501.5" cy="605.1" r="4.1" fill="url(#gr1)"/><circle cx="469.4" cy="656.6" r="3.4" fill="url(#gr2)"/><circle cx="503.5" cy="613" r="2.8" fill="url(#gr1)"/><circle cx="445.2" cy="688.1" r="4.1" fill="url(#gr2)"/><circle cx="494.9" cy="698.4" r="3.4" fill="url(#gr1)"/><circle cx="410.3" cy="713" r="3.2" fill="url(#gr3)"/></g><rect x="399" y="589" width="49.6" height="49.6" fill="#e9ebef"/><circle cx="423.8" cy="613" r="24.4" fill="#e2a070"/><circle cx="422.6" cy="613.8" r="14.7" fill="#b0a896"/><circle cx="422.6" cy="613.8" r="14" fill="#dfe4d5"/><line x1="434.6" y1="629.4" x2="440.5" y2="637.6" stroke="#cfcfcf" stroke-width="2.8"/><line x1="435.9" y1="629.7" x2="441.8" y2="637.9" stroke="#555" stroke-width="0.8"/><line x1="474.3" y1="702.3" x2="517" y2="702.3" stroke="#f6ee00" stroke-width="2.3"/><text x="496.4" y="694.9" text-anchor="middle" fill="#f6ee00" font-size="12.5" stroke="#f6ee00" stroke-width="0.35">5 &#956;m</text><rect x="398.7" y="588.6" width="125.9" height="125.5" fill="none" stroke="#c77a80" stroke-width="1.7"/><rect x="558.6" y="588.8" width="125.4" height="125.2" filter="url(#sf4b)" /><clipPath id="clsf4"><rect x="557.6" y="587.8" width="127.4" height="127.2"/></clipPath><g clip-path="url(#clsf4)" filter="url(#blur05)"><circle cx="588.7" cy="668" r="2.3" fill="url(#sph1)"/><circle cx="625.4" cy="695.5" r="2.5" fill="url(#sph3)"/><circle cx="617.4" cy="612.6" r="2" fill="url(#sph1)"/><circle cx="571.7" cy="677.8" r="2.1" fill="url(#sph2)"/><circle cx="560.9" cy="652.3" r="2.2" fill="url(#sph1)"/><circle cx="612.1" cy="607.6" r="2.1" fill="url(#sph1)"/><circle cx="615.8" cy="654.6" r="2.2" fill="url(#sph3)"/><circle cx="610.7" cy="612.2" r="2.4" fill="url(#sph3)"/><circle cx="640.4" cy="709.4" r="2.5" fill="url(#sph2)"/><circle cx="561" cy="713.9" r="2.4" fill="url(#sph3)"/><circle cx="672.6" cy="622" r="2.4" fill="url(#sph2)"/><circle cx="568.4" cy="648.8" r="2.1" fill="url(#sph2)"/><circle cx="583.6" cy="639.5" r="2.6" fill="url(#sph2)"/><circle cx="621.5" cy="589.5" r="2.6" fill="url(#sph2)"/><circle cx="632.6" cy="654" r="2.1" fill="url(#sph1)"/><circle cx="626.2" cy="685.1" r="2.5" fill="url(#sph2)"/><circle cx="624" cy="634.7" r="2.6" fill="url(#sph3)"/><circle cx="593.2" cy="696.6" r="2.3" fill="url(#sph1)"/><circle cx="555.8" cy="713.4" r="2.2" fill="url(#sph1)"/><circle cx="678.1" cy="714.8" r="2" fill="url(#sph1)"/><circle cx="632.8" cy="657.4" r="2.2" fill="url(#sph2)"/><circle cx="681.4" cy="629.4" r="2.4" fill="url(#sph3)"/><circle cx="598.6" cy="638" r="2.6" fill="url(#sph2)"/><circle cx="563.4" cy="659.5" r="2.3" fill="url(#sph2)"/><circle cx="659.1" cy="694.1" r="2.5" fill="url(#sph2)"/><circle cx="565.9" cy="682.3" r="2.5" fill="url(#sph3)"/><circle cx="600.1" cy="701" r="2.4" fill="url(#sph3)"/><circle cx="621.7" cy="664.3" r="2.6" fill="url(#sph2)"/><circle cx="602.9" cy="678.5" r="2.3" fill="url(#sph1)"/><circle cx="669.3" cy="692.9" r="2.6" fill="url(#sph3)"/><circle cx="622.9" cy="593.9" r="2.4" fill="url(#sph2)"/><circle cx="649" cy="691.3" r="2.1" fill="url(#sph3)"/><circle cx="614.6" cy="700" r="2.2" fill="url(#sph3)"/><circle cx="648.2" cy="608.1" r="2.1" fill="url(#sph1)"/><circle cx="606.6" cy="656.2" r="2.6" fill="url(#sph2)"/><circle cx="653.4" cy="678.3" r="2.3" fill="url(#sph3)"/><circle cx="671.6" cy="658.8" r="2.1" fill="url(#sph2)"/><circle cx="648" cy="679.5" r="2.3" fill="url(#sph2)"/><circle cx="644.6" cy="632.4" r="2.6" fill="url(#sph1)"/><circle cx="611.4" cy="636.9" r="2.2" fill="url(#sph1)"/><circle cx="678.3" cy="656.9" r="2" fill="url(#sph3)"/><circle cx="560.5" cy="690.4" r="2.4" fill="url(#sph2)"/><circle cx="591.6" cy="670.1" r="2.5" fill="url(#sph1)"/><circle cx="582.5" cy="655.1" r="2.6" fill="url(#sph2)"/><circle cx="616.5" cy="655.4" r="2.5" fill="url(#sph2)"/><circle cx="636.8" cy="680" r="2.5" fill="url(#sph3)"/><circle cx="655" cy="706.8" r="2.1" fill="url(#sph2)"/><circle cx="639.1" cy="683.5" r="2.6" fill="url(#sph2)"/><circle cx="602.5" cy="670.3" r="2.1" fill="url(#sph2)"/><circle cx="599.4" cy="673.9" r="2" fill="url(#sph2)"/><circle cx="652.7" cy="678.8" r="2.2" fill="url(#sph3)"/><circle cx="611.6" cy="627.2" r="2" fill="url(#sph2)"/><circle cx="652.6" cy="660.7" r="2" fill="url(#sph1)"/><circle cx="643.8" cy="693.4" r="2.6" fill="url(#sph3)"/><circle cx="645.8" cy="594.6" r="2.1" fill="url(#sph2)"/><circle cx="559.9" cy="654.2" r="2.4" fill="url(#sph2)"/><circle cx="577" cy="679.3" r="2.2" fill="url(#sph2)"/><circle cx="608.7" cy="629.4" r="2.3" fill="url(#sph3)"/><circle cx="608.8" cy="659" r="2.2" fill="url(#sph2)"/><circle cx="635" cy="621.4" r="2.3" fill="url(#sph1)"/><circle cx="590.5" cy="692.8" r="2" fill="url(#sph2)"/><circle cx="567.4" cy="714.5" r="2.3" fill="url(#sph2)"/><circle cx="557.1" cy="696.9" r="2.1" fill="url(#sph2)"/><circle cx="651.9" cy="642.5" r="2.5" fill="url(#sph2)"/><circle cx="626.5" cy="665.9" r="2" fill="url(#sph2)"/><circle cx="638.8" cy="589.3" r="2.2" fill="url(#sph3)"/><circle cx="597.2" cy="678.2" r="2.6" fill="url(#sph2)"/><circle cx="592.3" cy="659.6" r="2.3" fill="url(#sph2)"/><circle cx="562" cy="715.9" r="2.6" fill="url(#sph1)"/><circle cx="631" cy="666.3" r="2.3" fill="url(#sph3)"/><circle cx="568.5" cy="644.2" r="2.3" fill="url(#sph2)"/><circle cx="640.9" cy="621.8" r="2.2" fill="url(#sph3)"/><circle cx="557.2" cy="685.6" r="2.4" fill="url(#sph2)"/><circle cx="630.5" cy="707.6" r="2.2" fill="url(#sph3)"/><circle cx="613.2" cy="712.1" r="2.5" fill="url(#sph1)"/><circle cx="570.4" cy="683.9" r="2.3" fill="url(#sph2)"/><circle cx="628.1" cy="680.5" r="2.3" fill="url(#sph2)"/><circle cx="680.2" cy="703.6" r="2.5" fill="url(#sph2)"/><circle cx="579.9" cy="661.5" r="2.6" fill="url(#sph3)"/><circle cx="628.4" cy="598.3" r="2.1" fill="url(#sph3)"/><circle cx="609.6" cy="666.8" r="2" fill="url(#sph2)"/><circle cx="597.4" cy="645.8" r="2.4" fill="url(#sph2)"/><circle cx="608.5" cy="622.5" r="2.4" fill="url(#sph2)"/><circle cx="559.6" cy="685.2" r="2.1" fill="url(#sph3)"/><circle cx="635.1" cy="592.6" r="2.2" fill="url(#sph1)"/><circle cx="615.9" cy="615.3" r="2.5" fill="url(#sph2)"/><circle cx="643.3" cy="592.4" r="2.6" fill="url(#sph1)"/><circle cx="656.6" cy="684.2" r="2.3" fill="url(#sph2)"/><circle cx="652.8" cy="666.7" r="2" fill="url(#sph1)"/><circle cx="635.6" cy="650.3" r="2.3" fill="url(#sph3)"/><circle cx="624.9" cy="612.9" r="2.2" fill="url(#sph1)"/><circle cx="653.1" cy="663.2" r="2.1" fill="url(#sph2)"/><circle cx="633.2" cy="717.9" r="2.1" fill="url(#sph3)"/><circle cx="634" cy="602.1" r="2.4" fill="url(#sph2)"/><circle cx="657.6" cy="648.7" r="2.3" fill="url(#sph3)"/><circle cx="664.5" cy="591.7" r="2" fill="url(#sph1)"/><circle cx="557.6" cy="687.3" r="2.2" fill="url(#sph2)"/><circle cx="667.2" cy="649.6" r="2.4" fill="url(#sph1)"/><circle cx="671.4" cy="696.5" r="2.1" fill="url(#sph2)"/><circle cx="667.5" cy="671.2" r="2.1" fill="url(#sph3)"/><circle cx="631.2" cy="587.6" r="2.1" fill="url(#sph1)"/><circle cx="566.8" cy="694.3" r="2.2" fill="url(#sph2)"/><circle cx="638.4" cy="622.9" r="2.2" fill="url(#sph3)"/><circle cx="599.1" cy="648.5" r="2.2" fill="url(#sph3)"/><circle cx="629" cy="679.5" r="2.4" fill="url(#sph1)"/><circle cx="561.9" cy="671.8" r="2.5" fill="url(#sph1)"/><circle cx="609.3" cy="615.4" r="2.6" fill="url(#sph3)"/><circle cx="654.5" cy="715" r="2.4" fill="url(#sph2)"/><circle cx="563.6" cy="683.5" r="2.5" fill="url(#sph2)"/><circle cx="624.9" cy="618" r="2.2" fill="url(#sph1)"/><circle cx="660" cy="673.2" r="2.3" fill="url(#sph1)"/><circle cx="562.9" cy="692.6" r="2.2" fill="url(#sph2)"/><circle cx="593" cy="682.5" r="2.2" fill="url(#sph3)"/><circle cx="599.5" cy="700.1" r="2.5" fill="url(#sph2)"/><circle cx="621.8" cy="586.1" r="2.2" fill="url(#sph2)"/><circle cx="622.6" cy="680.1" r="2.5" fill="url(#sph1)"/><circle cx="679.2" cy="644.4" r="2.6" fill="url(#sph2)"/><circle cx="582" cy="696.3" r="2" fill="url(#sph1)"/><circle cx="655.1" cy="661.1" r="2.4" fill="url(#sph2)"/><circle cx="651.9" cy="643.4" r="2.5" fill="url(#sph2)"/><circle cx="648.6" cy="713" r="2.2" fill="url(#sph2)"/><circle cx="675.5" cy="622.3" r="2.5" fill="url(#sph2)"/><circle cx="620.5" cy="709.5" r="2.4" fill="url(#sph2)"/><circle cx="665.7" cy="645" r="2" fill="url(#sph3)"/><circle cx="604.7" cy="707.9" r="2.2" fill="url(#sph2)"/><circle cx="636.2" cy="692.1" r="2.2" fill="url(#sph2)"/><circle cx="624.6" cy="651.1" r="2.5" fill="url(#sph2)"/><circle cx="612.8" cy="611.4" r="2.4" fill="url(#sph3)"/><circle cx="600.5" cy="644.1" r="2.3" fill="url(#sph2)"/><circle cx="590.6" cy="673.1" r="2.4" fill="url(#sph2)"/><circle cx="609.1" cy="664.5" r="2.4" fill="url(#sph2)"/><circle cx="661.8" cy="685.8" r="2" fill="url(#sph2)"/><circle cx="665.4" cy="689.7" r="2.1" fill="url(#sph2)"/><circle cx="631.8" cy="590" r="2.4" fill="url(#sph2)"/><circle cx="681.2" cy="625.7" r="2.5" fill="url(#sph2)"/><circle cx="637.9" cy="608" r="2.1" fill="url(#sph1)"/><circle cx="681.6" cy="649.5" r="2.4" fill="url(#sph3)"/><circle cx="630.1" cy="670.3" r="2.5" fill="url(#sph2)"/><circle cx="606.7" cy="682.9" r="2.1" fill="url(#sph3)"/><circle cx="569.2" cy="683.7" r="2.3" fill="url(#sph2)"/><circle cx="678.2" cy="675.5" r="2.4" fill="url(#sph1)"/><circle cx="651.2" cy="602.2" r="2.4" fill="url(#sph3)"/><circle cx="611.2" cy="654.5" r="2.2" fill="url(#sph2)"/><circle cx="643.7" cy="605.8" r="2.2" fill="url(#sph1)"/><circle cx="586.4" cy="643.3" r="2.3" fill="url(#sph3)"/><circle cx="574.7" cy="696.7" r="2.2" fill="url(#sph3)"/><circle cx="582.2" cy="686.5" r="2.3" fill="url(#sph3)"/><circle cx="681" cy="637.6" r="2.1" fill="url(#sph3)"/><circle cx="662" cy="667.5" r="2.3" fill="url(#sph2)"/><circle cx="562.9" cy="698.2" r="2.1" fill="url(#sph3)"/><circle cx="626.8" cy="689.1" r="2.1" fill="url(#sph2)"/><circle cx="667.7" cy="703.2" r="2.3" fill="url(#sph1)"/><circle cx="622.8" cy="599.7" r="2.1" fill="url(#sph2)"/><circle cx="610.3" cy="645.9" r="2.4" fill="url(#sph1)"/><circle cx="559.4" cy="671.6" r="2.5" fill="url(#sph1)"/><circle cx="641.4" cy="621.4" r="2.2" fill="url(#sph3)"/><circle cx="686.9" cy="685" r="2.4" fill="url(#sph2)"/><circle cx="609.4" cy="702.7" r="2.1" fill="url(#sph1)"/><circle cx="622.4" cy="643.8" r="2.5" fill="url(#sph2)"/><circle cx="637.7" cy="642.1" r="2.2" fill="url(#sph1)"/><circle cx="680.8" cy="599.1" r="2.4" fill="url(#sph1)"/><circle cx="645.7" cy="701.7" r="2.3" fill="url(#sph3)"/><circle cx="657.4" cy="681" r="2.1" fill="url(#sph1)"/><circle cx="597.3" cy="639.4" r="2.1" fill="url(#sph3)"/><circle cx="660.5" cy="641.8" r="2.6" fill="url(#sph2)"/><circle cx="595.8" cy="688.6" r="2.2" fill="url(#sph1)"/><circle cx="648.6" cy="694.5" r="2.3" fill="url(#sph1)"/><circle cx="634.7" cy="642.9" r="2.4" fill="url(#sph3)"/><circle cx="643.9" cy="673.7" r="2.1" fill="url(#sph2)"/><circle cx="573.9" cy="715.8" r="2.4" fill="url(#sph3)"/><circle cx="571.9" cy="697.2" r="2.2" fill="url(#sph2)"/><circle cx="622" cy="624.5" r="2.5" fill="url(#sph2)"/><circle cx="611.1" cy="672.8" r="2.5" fill="url(#sph2)"/><circle cx="596.1" cy="640.9" r="2.5" fill="url(#sph3)"/><circle cx="656.3" cy="684.9" r="2.2" fill="url(#sph2)"/><circle cx="644.6" cy="603.9" r="2.5" fill="url(#sph3)"/><circle cx="628.8" cy="710.6" r="2.5" fill="url(#sph2)"/><circle cx="613.8" cy="616.4" r="2.1" fill="url(#sph2)"/><circle cx="655.4" cy="689.4" r="2.5" fill="url(#sph1)"/><circle cx="662.9" cy="613.9" r="2.4" fill="url(#sph2)"/><circle cx="597.1" cy="655.1" r="2.2" fill="url(#sph1)"/><circle cx="620.3" cy="682.1" r="2.3" fill="url(#sph3)"/><circle cx="603.9" cy="702.1" r="2.1" fill="url(#sph2)"/><circle cx="682.2" cy="701.1" r="2.3" fill="url(#sph2)"/><circle cx="612.3" cy="601.6" r="2.5" fill="url(#sph2)"/><circle cx="624.5" cy="716.7" r="2.1" fill="url(#sph1)"/><circle cx="680.9" cy="713.2" r="2.6" fill="url(#sph3)"/><circle cx="649.2" cy="658.4" r="2.6" fill="url(#sph1)"/><circle cx="670.2" cy="609.8" r="2.4" fill="url(#sph2)"/><circle cx="667.5" cy="645.9" r="2.5" fill="url(#sph2)"/><circle cx="679.5" cy="717.5" r="2" fill="url(#sph1)"/><circle cx="646.3" cy="665.3" r="2.3" fill="url(#sph1)"/><circle cx="634.4" cy="670.5" r="2.1" fill="url(#sph1)"/><circle cx="632.7" cy="708.3" r="2.4" fill="url(#sph1)"/><circle cx="654.9" cy="677.1" r="2" fill="url(#sph3)"/><circle cx="659.5" cy="616.5" r="2.2" fill="url(#sph3)"/><circle cx="566.6" cy="640.8" r="2.4" fill="url(#sph2)"/><circle cx="579.4" cy="666.3" r="2.1" fill="url(#sph2)"/><circle cx="628.2" cy="643.5" r="2.5" fill="url(#sph1)"/><circle cx="681.5" cy="677.7" r="2.3" fill="url(#sph1)"/><circle cx="664" cy="608.2" r="2.4" fill="url(#sph1)"/><circle cx="575.6" cy="673.8" r="2.1" fill="url(#sph2)"/><circle cx="611.8" cy="604.5" r="2.5" fill="url(#sph1)"/><circle cx="600.8" cy="690.8" r="2.6" fill="url(#sph2)"/><circle cx="666.3" cy="641.9" r="2.3" fill="url(#sph2)"/><circle cx="589" cy="692.8" r="2.5" fill="url(#sph2)"/><circle cx="603" cy="716.4" r="2.1" fill="url(#sph2)"/><circle cx="687.6" cy="608.2" r="2" fill="url(#sph1)"/><circle cx="655.6" cy="592.6" r="2.2" fill="url(#sph1)"/><circle cx="608" cy="638.5" r="2.5" fill="url(#sph1)"/><circle cx="669.8" cy="651.8" r="2.1" fill="url(#sph2)"/><circle cx="614.6" cy="611.9" r="2.2" fill="url(#sph3)"/><circle cx="662.8" cy="595.2" r="2.6" fill="url(#sph1)"/><circle cx="594.7" cy="638.8" r="2.3" fill="url(#sph3)"/><circle cx="624.5" cy="687.7" r="2.1" fill="url(#sph2)"/><circle cx="613.5" cy="591.4" r="2" fill="url(#sph3)"/><circle cx="613.7" cy="593.7" r="2.2" fill="url(#sph2)"/><circle cx="609" cy="681.1" r="2.1" fill="url(#sph3)"/><circle cx="602.5" cy="706.3" r="2.5" fill="url(#sph2)"/><circle cx="684.3" cy="692.9" r="2.5" fill="url(#sph2)"/><circle cx="664.2" cy="642.1" r="2.1" fill="url(#sph1)"/><circle cx="624.3" cy="698.6" r="2.1" fill="url(#sph2)"/><circle cx="563.7" cy="648.5" r="2.2" fill="url(#sph1)"/><circle cx="681.9" cy="709.7" r="2.3" fill="url(#sph2)"/><circle cx="633.1" cy="671.1" r="2.4" fill="url(#sph2)"/><circle cx="587.7" cy="704.7" r="2.3" fill="url(#sph1)"/><circle cx="622.3" cy="587.7" r="2.5" fill="url(#sph1)"/><circle cx="627.4" cy="625.7" r="2.1" fill="url(#sph1)"/><circle cx="687.9" cy="588.6" r="2.6" fill="url(#sph2)"/><circle cx="679.3" cy="690.7" r="2.3" fill="url(#sph3)"/><circle cx="677.7" cy="666.3" r="2.5" fill="url(#sph1)"/><circle cx="617" cy="665.7" r="2" fill="url(#sph3)"/><circle cx="587.6" cy="707" r="2.4" fill="url(#sph1)"/><circle cx="613.2" cy="624.3" r="2.3" fill="url(#sph1)"/><circle cx="603.9" cy="652.8" r="2.6" fill="url(#sph1)"/><circle cx="566.3" cy="672.6" r="2.6" fill="url(#sph2)"/><circle cx="687" cy="670.5" r="2.5" fill="url(#sph1)"/><circle cx="570.3" cy="676.6" r="2.6" fill="url(#sph2)"/><circle cx="567.2" cy="714" r="2.4" fill="url(#sph2)"/><circle cx="571.1" cy="703.7" r="2.3" fill="url(#sph2)"/><circle cx="678.1" cy="696" r="2.2" fill="url(#sph3)"/><circle cx="655.7" cy="644.3" r="2.2" fill="url(#sph2)"/><circle cx="557.5" cy="659.4" r="2.4" fill="url(#sph2)"/><circle cx="575" cy="668" r="2.2" fill="url(#sph3)"/><circle cx="646" cy="651.7" r="2.4" fill="url(#sph2)"/><circle cx="596" cy="647" r="2.3" fill="url(#sph2)"/><circle cx="575.2" cy="697.1" r="2.2" fill="url(#sph2)"/><circle cx="643.8" cy="659.6" r="2.5" fill="url(#sph2)"/><circle cx="687.1" cy="653.7" r="2.2" fill="url(#sph2)"/><circle cx="653.6" cy="668.6" r="2.2" fill="url(#sph2)"/><circle cx="683.5" cy="622.6" r="2.2" fill="url(#sph2)"/><circle cx="603.8" cy="695.7" r="2.2" fill="url(#sph2)"/><circle cx="664.3" cy="659.3" r="2.3" fill="url(#sph3)"/><circle cx="591.6" cy="671.5" r="2.3" fill="url(#sph2)"/><circle cx="672" cy="701.8" r="2.2" fill="url(#sph3)"/><circle cx="607.5" cy="700.6" r="2.5" fill="url(#sph3)"/><circle cx="666.2" cy="645.4" r="2.5" fill="url(#sph2)"/><circle cx="636" cy="633.1" r="2.2" fill="url(#sph2)"/><circle cx="657.4" cy="645.2" r="2.2" fill="url(#sph2)"/><circle cx="559" cy="715.1" r="2.2" fill="url(#sph2)"/><circle cx="655.3" cy="639" r="2.3" fill="url(#sph1)"/><circle cx="662.5" cy="625.1" r="2.2" fill="url(#sph1)"/><circle cx="641.7" cy="609.2" r="2.3" fill="url(#sph1)"/><circle cx="659.9" cy="710.6" r="2.4" fill="url(#sph1)"/><circle cx="666.8" cy="656.2" r="2.1" fill="url(#sph2)"/><circle cx="652.8" cy="587.6" r="2" fill="url(#sph2)"/><circle cx="636.3" cy="655.4" r="2" fill="url(#sph2)"/><circle cx="677.9" cy="661.4" r="2.5" fill="url(#sph2)"/><circle cx="672.4" cy="681.7" r="2.5" fill="url(#sph2)"/><circle cx="628.1" cy="641.6" r="2.2" fill="url(#sph1)"/><circle cx="625.5" cy="635.6" r="2" fill="url(#sph2)"/><circle cx="568.4" cy="639.6" r="2.3" fill="url(#sph3)"/><circle cx="687" cy="607.4" r="2.4" fill="url(#sph2)"/><circle cx="610.3" cy="698.3" r="2.2" fill="url(#sph2)"/><circle cx="624" cy="627" r="2.4" fill="url(#sph2)"/><circle cx="659.7" cy="706.8" r="2.2" fill="url(#sph3)"/><circle cx="613" cy="687.9" r="2.5" fill="url(#sph1)"/><circle cx="659" cy="594" r="2.1" fill="url(#sph2)"/><circle cx="669.1" cy="632.8" r="2.5" fill="url(#sph2)"/><circle cx="667.2" cy="613.8" r="2.3" fill="url(#sph1)"/><circle cx="634.1" cy="689.8" r="2.2" fill="url(#sph2)"/><circle cx="679.5" cy="594.5" r="2.5" fill="url(#sph2)"/><circle cx="685.6" cy="593.2" r="2.3" fill="url(#sph2)"/><circle cx="567.5" cy="689.3" r="2.1" fill="url(#sph2)"/><circle cx="666.1" cy="668.4" r="2.4" fill="url(#sph3)"/><circle cx="627.2" cy="608.8" r="2.3" fill="url(#sph2)"/><circle cx="684.3" cy="589.3" r="2.3" fill="url(#sph2)"/><circle cx="648.3" cy="703.2" r="2.5" fill="url(#sph2)"/><circle cx="589.1" cy="640.2" r="2.5" fill="url(#sph3)"/><circle cx="571.9" cy="643.7" r="2.4" fill="url(#sph1)"/><circle cx="626" cy="655.6" r="2.5" fill="url(#sph2)"/><circle cx="593.2" cy="696.8" r="2" fill="url(#sph2)"/><circle cx="565.3" cy="682.5" r="2.5" fill="url(#sph1)"/><circle cx="587.1" cy="664.4" r="2" fill="url(#sph2)"/><circle cx="585.2" cy="638.2" r="2.2" fill="url(#sph2)"/><circle cx="668.3" cy="710.3" r="2.4" fill="url(#sph2)"/><circle cx="662.7" cy="667.2" r="2.2" fill="url(#sph1)"/><circle cx="639.1" cy="670.5" r="2.2" fill="url(#sph2)"/><circle cx="588.4" cy="693.6" r="2.1" fill="url(#sph1)"/><circle cx="564.2" cy="664.1" r="2.2" fill="url(#sph3)"/><circle cx="555.9" cy="658.6" r="2.5" fill="url(#sph2)"/><circle cx="674.2" cy="664.9" r="2.2" fill="url(#sph1)"/><circle cx="674.7" cy="664.7" r="2" fill="url(#sph2)"/><circle cx="627" cy="684.7" r="2.2" fill="url(#sph1)"/><circle cx="633" cy="663.1" r="2.5" fill="url(#sph2)"/><circle cx="623.6" cy="637.8" r="2.1" fill="url(#sph1)"/><circle cx="651.7" cy="666.2" r="2" fill="url(#sph2)"/><circle cx="648.5" cy="602" r="2.3" fill="url(#sph2)"/><circle cx="631.4" cy="598.7" r="2.2" fill="url(#sph2)"/><circle cx="628.2" cy="589" r="2.3" fill="url(#sph2)"/><circle cx="670.4" cy="610.6" r="2.4" fill="url(#sph2)"/><circle cx="669.8" cy="660.7" r="2.5" fill="url(#sph1)"/><circle cx="685.6" cy="639.6" r="2.3" fill="url(#sph1)"/><circle cx="675.4" cy="606" r="2.2" fill="url(#sph1)"/><circle cx="626.8" cy="630.2" r="2" fill="url(#sph3)"/><circle cx="664.4" cy="622.7" r="2.3" fill="url(#sph3)"/><circle cx="634.1" cy="687" r="2" fill="url(#sph3)"/><circle cx="679.8" cy="655.3" r="2" fill="url(#sph2)"/><circle cx="631.9" cy="709.4" r="2.5" fill="url(#sph1)"/><circle cx="664.4" cy="694.8" r="2.3" fill="url(#sph1)"/><circle cx="626.4" cy="592.1" r="2.6" fill="url(#sph1)"/><circle cx="677.1" cy="624.6" r="2.6" fill="url(#sph2)"/><circle cx="645.4" cy="595.7" r="2.4" fill="url(#sph2)"/><circle cx="655.5" cy="715.6" r="2.5" fill="url(#sph2)"/><circle cx="621.5" cy="639.5" r="2.5" fill="url(#sph2)"/><circle cx="679.8" cy="610.5" r="2.6" fill="url(#sph2)"/><circle cx="673.7" cy="644.7" r="2.3" fill="url(#sph2)"/><circle cx="674.6" cy="680.3" r="2.1" fill="url(#sph3)"/><circle cx="677.4" cy="620.8" r="2" fill="url(#sph2)"/><circle cx="664.9" cy="717.1" r="2.2" fill="url(#sph1)"/><circle cx="575.2" cy="667.8" r="2.1" fill="url(#sph2)"/><circle cx="661.8" cy="703.7" r="2.4" fill="url(#sph1)"/><circle cx="671" cy="604" r="2.3" fill="url(#sph1)"/><circle cx="646.9" cy="669.3" r="2.4" fill="url(#sph3)"/><circle cx="650.1" cy="684.2" r="2.1" fill="url(#sph3)"/><circle cx="606.9" cy="677.2" r="2" fill="url(#sph2)"/><circle cx="670.5" cy="688.3" r="2" fill="url(#sph2)"/><circle cx="663.4" cy="702.8" r="2.1" fill="url(#sph3)"/><circle cx="614.3" cy="662.7" r="2.1" fill="url(#sph2)"/><circle cx="664.9" cy="631.1" r="2.3" fill="url(#sph1)"/><circle cx="654.4" cy="666" r="2.5" fill="url(#sph1)"/><circle cx="663.8" cy="616.4" r="2.4" fill="url(#sph2)"/><circle cx="657.8" cy="644.4" r="2.4" fill="url(#sph2)"/><circle cx="624.4" cy="686.8" r="2.2" fill="url(#sph2)"/><circle cx="683.5" cy="684.2" r="2.1" fill="url(#sph2)"/><circle cx="589.5" cy="661" r="2.4" fill="url(#sph2)"/><circle cx="567.8" cy="677.9" r="2.2" fill="url(#sph2)"/><circle cx="647.1" cy="630.2" r="2.1" fill="url(#sph3)"/><circle cx="640.1" cy="683.7" r="2.3" fill="url(#sph1)"/><circle cx="599.3" cy="652" r="2.5" fill="url(#sph1)"/><circle cx="600.3" cy="693.5" r="2.5" fill="url(#sph2)"/><circle cx="659" cy="676" r="2.5" fill="url(#sph3)"/><circle cx="618.8" cy="636.4" r="2.3" fill="url(#sph2)"/><circle cx="633.1" cy="591.7" r="2.3" fill="url(#sph2)"/><circle cx="577.5" cy="644.3" r="2.4" fill="url(#sph3)"/><circle cx="616.9" cy="622.4" r="2.6" fill="url(#sph2)"/><circle cx="615.3" cy="710" r="2.5" fill="url(#sph3)"/><circle cx="596" cy="710.4" r="2.4" fill="url(#sph2)"/><circle cx="622.2" cy="586.8" r="2.1" fill="url(#sph2)"/><circle cx="628.4" cy="677.5" r="2.1" fill="url(#sph3)"/><circle cx="663.4" cy="632.9" r="2.2" fill="url(#sph1)"/><circle cx="650.2" cy="690.6" r="2.2" fill="url(#sph2)"/><circle cx="662.4" cy="634.1" r="2.2" fill="url(#sph3)"/><circle cx="681.6" cy="642.7" r="2.4" fill="url(#sph2)"/><circle cx="659.9" cy="661.1" r="2.5" fill="url(#sph1)"/><circle cx="598" cy="673.6" r="2.5" fill="url(#sph1)"/><circle cx="556.1" cy="695.4" r="2.5" fill="url(#sph2)"/><circle cx="668.1" cy="595.7" r="2.1" fill="url(#sph1)"/><circle cx="665.2" cy="678.2" r="2.4" fill="url(#sph2)"/><circle cx="614.3" cy="646.8" r="2.5" fill="url(#sph2)"/><circle cx="681" cy="619.6" r="2.2" fill="url(#sph2)"/><circle cx="687.3" cy="590.9" r="2" fill="url(#sph3)"/><circle cx="596.1" cy="657.4" r="2.3" fill="url(#sph1)"/><circle cx="653.9" cy="604.8" r="2.5" fill="url(#sph2)"/><circle cx="678.4" cy="652.4" r="2.1" fill="url(#sph2)"/><circle cx="671.4" cy="600.6" r="2.3" fill="url(#sph1)"/><circle cx="614.8" cy="591.7" r="2.6" fill="url(#sph2)"/><circle cx="666.5" cy="597.5" r="2" fill="url(#sph2)"/><circle cx="685.7" cy="693.8" r="2.3" fill="url(#sph3)"/><circle cx="637.9" cy="603.5" r="2.4" fill="url(#sph1)"/><circle cx="674.4" cy="704.9" r="2.2" fill="url(#sph2)"/><circle cx="626.2" cy="703.9" r="2.3" fill="url(#sph2)"/><circle cx="659.1" cy="624.6" r="2.3" fill="url(#sph1)"/><circle cx="607.1" cy="651.2" r="2.1" fill="url(#sph2)"/><circle cx="559.5" cy="639.2" r="2.5" fill="url(#sph2)"/><circle cx="617.7" cy="674.3" r="2.5" fill="url(#sph3)"/><circle cx="593.8" cy="652.8" r="2.4" fill="url(#sph2)"/><circle cx="568.2" cy="694.4" r="2.2" fill="url(#sph3)"/><circle cx="639" cy="609.5" r="2.1" fill="url(#sph3)"/><circle cx="600.9" cy="669" r="2" fill="url(#sph2)"/><circle cx="619.6" cy="715.7" r="2.2" fill="url(#sph2)"/><circle cx="600.7" cy="649.2" r="2.1" fill="url(#sph2)"/><circle cx="625.6" cy="595.1" r="2.4" fill="url(#sph2)"/><circle cx="643.1" cy="608.8" r="2.5" fill="url(#sph1)"/><circle cx="651.5" cy="671.6" r="2.2" fill="url(#sph1)"/><circle cx="630.9" cy="681.5" r="2.5" fill="url(#sph2)"/><circle cx="571" cy="710.8" r="2.4" fill="url(#sph2)"/><circle cx="592.2" cy="689" r="2.4" fill="url(#sph3)"/><circle cx="567.2" cy="703.9" r="2.1" fill="url(#sph1)"/><circle cx="584.2" cy="682.4" r="2.4" fill="url(#sph2)"/><circle cx="688" cy="709.6" r="2.3" fill="url(#sph1)"/><circle cx="643.5" cy="714.2" r="2.5" fill="url(#sph2)"/><circle cx="610" cy="606.9" r="2.4" fill="url(#sph2)"/><circle cx="668.7" cy="679" r="2.4" fill="url(#sph2)"/><circle cx="595.5" cy="653" r="2.5" fill="url(#sph2)"/><circle cx="647.3" cy="602.2" r="2.2" fill="url(#sph1)"/><circle cx="664.5" cy="637" r="2.6" fill="url(#sph1)"/><circle cx="661.4" cy="659.3" r="2.5" fill="url(#sph2)"/><circle cx="596.4" cy="709.7" r="2.4" fill="url(#sph2)"/><circle cx="575" cy="644.3" r="2.1" fill="url(#sph2)"/><circle cx="568.3" cy="685.2" r="2.1" fill="url(#sph2)"/><circle cx="600.4" cy="650" r="2.4" fill="url(#sph1)"/><circle cx="609.3" cy="604.1" r="2.4" fill="url(#sph2)"/><circle cx="636.8" cy="707.7" r="2.3" fill="url(#sph1)"/><circle cx="646" cy="624.7" r="2.4" fill="url(#sph2)"/><circle cx="579" cy="707.2" r="2.6" fill="url(#sph2)"/><circle cx="595.2" cy="674.8" r="2.4" fill="url(#sph3)"/><circle cx="573.4" cy="638.7" r="2.3" fill="url(#sph3)"/><circle cx="687.6" cy="601.2" r="2.4" fill="url(#sph1)"/><circle cx="659.3" cy="659.6" r="2.4" fill="url(#sph2)"/><circle cx="558.9" cy="679.1" r="2.2" fill="url(#sph1)"/><circle cx="560.3" cy="681.1" r="2.3" fill="url(#sph1)"/><circle cx="638.4" cy="698.5" r="2.5" fill="url(#sph3)"/><circle cx="687.8" cy="697.7" r="2.5" fill="url(#sph3)"/><circle cx="659.4" cy="692.8" r="2.5" fill="url(#sph3)"/><circle cx="575.2" cy="654.8" r="2.3" fill="url(#sph3)"/><circle cx="667.1" cy="699.8" r="2.3" fill="url(#sph2)"/><circle cx="588.5" cy="651.3" r="2.2" fill="url(#sph2)"/><circle cx="686.6" cy="715.4" r="2.5" fill="url(#sph2)"/><circle cx="683.3" cy="585" r="2" fill="url(#sph1)"/><circle cx="613.5" cy="711.8" r="2" fill="url(#sph2)"/><circle cx="627.6" cy="692.7" r="2.3" fill="url(#sph2)"/><circle cx="624.8" cy="659.3" r="2.2" fill="url(#sph2)"/><circle cx="621.5" cy="653.8" r="2.2" fill="url(#sph3)"/><circle cx="603.4" cy="675.8" r="2.3" fill="url(#sph2)"/><circle cx="676" cy="624.2" r="2.4" fill="url(#sph3)"/><circle cx="612.6" cy="687.1" r="2.1" fill="url(#sph2)"/><circle cx="655.6" cy="665.6" r="2.3" fill="url(#sph3)"/><circle cx="633.9" cy="592.6" r="2.1" fill="url(#sph2)"/><circle cx="556.2" cy="716.8" r="2.2" fill="url(#sph1)"/><circle cx="610" cy="610.3" r="2.3" fill="url(#sph1)"/><circle cx="603.9" cy="690.7" r="2.4" fill="url(#sph3)"/><circle cx="629" cy="707.3" r="2.2" fill="url(#sph1)"/><circle cx="617.7" cy="623" r="2.6" fill="url(#sph3)"/><circle cx="557.7" cy="690.1" r="2.2" fill="url(#sph2)"/><circle cx="670.2" cy="670.9" r="2.2" fill="url(#sph2)"/><circle cx="557.6" cy="693" r="2.1" fill="url(#sph2)"/><circle cx="572" cy="643.1" r="2.1" fill="url(#sph3)"/><circle cx="619.9" cy="698.8" r="2.3" fill="url(#sph3)"/><circle cx="626.1" cy="659.5" r="2" fill="url(#sph2)"/><circle cx="629.4" cy="668.3" r="2.5" fill="url(#sph3)"/><circle cx="638.1" cy="604.3" r="2.5" fill="url(#sph2)"/><circle cx="664.6" cy="707.5" r="2.6" fill="url(#sph2)"/><circle cx="684.4" cy="623.4" r="2.5" fill="url(#sph2)"/><circle cx="587.5" cy="668.4" r="2.3" fill="url(#sph2)"/><circle cx="573.5" cy="668.5" r="2.5" fill="url(#sph1)"/><circle cx="649.3" cy="610.8" r="2.1" fill="url(#sph1)"/><circle cx="644.3" cy="646" r="2.1" fill="url(#sph2)"/><circle cx="687.9" cy="604.6" r="2.5" fill="url(#sph2)"/><circle cx="667.5" cy="698" r="2.3" fill="url(#sph2)"/><circle cx="646" cy="711.9" r="2.4" fill="url(#sph2)"/><circle cx="654.8" cy="598.8" r="2" fill="url(#sph3)"/><circle cx="618.4" cy="590.3" r="2.1" fill="url(#sph1)"/><circle cx="664.6" cy="655" r="2.2" fill="url(#sph2)"/><circle cx="644.4" cy="637.5" r="2.3" fill="url(#sph2)"/><circle cx="580.4" cy="694.2" r="2.1" fill="url(#sph3)"/><circle cx="565.3" cy="647.3" r="2.2" fill="url(#sph2)"/><circle cx="665.3" cy="662.5" r="2.1" fill="url(#sph2)"/><circle cx="637.5" cy="653.2" r="2.1" fill="url(#sph3)"/><circle cx="659.1" cy="665.3" r="2.3" fill="url(#sph2)"/><circle cx="629.5" cy="677.3" r="2.1" fill="url(#sph3)"/><circle cx="648.8" cy="673.5" r="2.5" fill="url(#sph2)"/><circle cx="557.3" cy="638" r="2.2" fill="url(#sph2)"/><circle cx="682.2" cy="648.6" r="2.3" fill="url(#sph1)"/><circle cx="630.4" cy="624.1" r="2" fill="url(#sph3)"/><circle cx="564.6" cy="654.4" r="2.2" fill="url(#sph2)"/><circle cx="664.6" cy="658.8" r="2.1" fill="url(#sph2)"/><circle cx="606.1" cy="646.1" r="2.2" fill="url(#sph3)"/><circle cx="649.6" cy="621" r="2.4" fill="url(#sph2)"/><circle cx="672" cy="644.6" r="2.5" fill="url(#sph2)"/><circle cx="632.9" cy="713.6" r="2.6" fill="url(#sph3)"/><circle cx="671.2" cy="672.4" r="2.2" fill="url(#sph3)"/><circle cx="568.2" cy="699.7" r="2.3" fill="url(#sph2)"/><circle cx="681.4" cy="626.7" r="2.3" fill="url(#sph2)"/><circle cx="682.8" cy="639.7" r="2.2" fill="url(#sph2)"/><circle cx="652.1" cy="667.6" r="2" fill="url(#sph3)"/><circle cx="576.8" cy="690.5" r="2.1" fill="url(#sph1)"/><circle cx="620.4" cy="651" r="2.1" fill="url(#sph1)"/><circle cx="567.4" cy="680" r="2" fill="url(#sph3)"/><circle cx="685.2" cy="614.8" r="2.6" fill="url(#sph1)"/><circle cx="605.1" cy="702.1" r="2.2" fill="url(#sph3)"/><circle cx="676.3" cy="593.2" r="2.1" fill="url(#sph2)"/><circle cx="682.2" cy="649.2" r="2.4" fill="url(#sph3)"/><circle cx="592.3" cy="678.1" r="2.4" fill="url(#sph3)"/><circle cx="628.9" cy="678" r="2.1" fill="url(#sph2)"/><circle cx="654.4" cy="685.8" r="2.3" fill="url(#sph2)"/><circle cx="577" cy="701.6" r="2.1" fill="url(#sph2)"/><circle cx="682.2" cy="629.3" r="2.3" fill="url(#sph2)"/><circle cx="672.2" cy="678.5" r="2.4" fill="url(#sph2)"/><circle cx="558.3" cy="652.6" r="2.5" fill="url(#sph1)"/><circle cx="604.2" cy="670.9" r="2.1" fill="url(#sph1)"/><circle cx="685.8" cy="596.8" r="2.5" fill="url(#sph1)"/><circle cx="617.6" cy="672" r="2.1" fill="url(#sph2)"/><circle cx="575.9" cy="684.4" r="2.3" fill="url(#sph3)"/><circle cx="662.1" cy="676.5" r="2.4" fill="url(#sph2)"/><circle cx="574.2" cy="667" r="2.5" fill="url(#sph1)"/><circle cx="607.7" cy="681.2" r="2.1" fill="url(#sph3)"/><circle cx="639.7" cy="687" r="2.4" fill="url(#sph2)"/><circle cx="626.1" cy="599.3" r="2.3" fill="url(#sph1)"/><circle cx="623.6" cy="683.9" r="2.2" fill="url(#sph2)"/><circle cx="560.7" cy="652.4" r="2.4" fill="url(#sph2)"/><circle cx="680.8" cy="692.7" r="2.4" fill="url(#sph2)"/><circle cx="642.6" cy="626.5" r="2.1" fill="url(#sph1)"/><circle cx="686.6" cy="698.2" r="2.6" fill="url(#sph1)"/><circle cx="679.5" cy="695.7" r="2.3" fill="url(#sph2)"/><circle cx="624.2" cy="631.8" r="2.6" fill="url(#sph2)"/><circle cx="639.4" cy="677.8" r="2.2" fill="url(#sph2)"/><circle cx="626.7" cy="595.7" r="2.3" fill="url(#sph1)"/><circle cx="655.5" cy="594.8" r="2.4" fill="url(#sph2)"/><circle cx="621.5" cy="663.1" r="2.4" fill="url(#sph3)"/><circle cx="586.7" cy="646.1" r="2.6" fill="url(#sph3)"/><circle cx="597.8" cy="709.9" r="2.3" fill="url(#sph2)"/><circle cx="636" cy="593" r="2.4" fill="url(#sph3)"/><circle cx="637.8" cy="653.9" r="2.1" fill="url(#sph3)"/><circle cx="648.3" cy="652.6" r="2.5" fill="url(#sph3)"/><circle cx="634.8" cy="626.4" r="2.3" fill="url(#sph3)"/><circle cx="672.4" cy="628.6" r="2.1" fill="url(#sph1)"/><circle cx="607" cy="641.9" r="2.3" fill="url(#sph3)"/><circle cx="668.6" cy="706.9" r="2.2" fill="url(#sph2)"/><circle cx="680.1" cy="648.9" r="2.4" fill="url(#sph2)"/><circle cx="623.6" cy="633.4" r="2.2" fill="url(#sph2)"/><circle cx="563.3" cy="718" r="2.5" fill="url(#sph1)"/><circle cx="681.1" cy="586.8" r="2.2" fill="url(#sph3)"/><circle cx="675.8" cy="649.4" r="2.2" fill="url(#sph1)"/><circle cx="644.4" cy="700.4" r="2.4" fill="url(#sph1)"/><circle cx="643.6" cy="636.1" r="2.4" fill="url(#sph2)"/><circle cx="566.2" cy="696.7" r="2.2" fill="url(#sph2)"/><circle cx="611.9" cy="694.1" r="2.3" fill="url(#sph1)"/><circle cx="680.6" cy="635.2" r="2.1" fill="url(#sph2)"/><circle cx="661.2" cy="683.1" r="2.3" fill="url(#sph3)"/><circle cx="641.9" cy="674.1" r="2.5" fill="url(#sph3)"/><circle cx="559.5" cy="653.7" r="2.6" fill="url(#sph2)"/><circle cx="563.4" cy="671.1" r="2.3" fill="url(#sph3)"/><circle cx="676.3" cy="678.1" r="2.5" fill="url(#sph3)"/><circle cx="674.7" cy="687.3" r="2.3" fill="url(#sph3)"/><circle cx="667.1" cy="640.4" r="2.1" fill="url(#sph2)"/><circle cx="668.8" cy="706.7" r="2.2" fill="url(#sph1)"/><circle cx="683.3" cy="691.6" r="2.3" fill="url(#sph1)"/><circle cx="642.9" cy="657.5" r="2.5" fill="url(#sph1)"/><circle cx="663.7" cy="706.9" r="2.3" fill="url(#sph2)"/><circle cx="651" cy="587.6" r="2.1" fill="url(#sph3)"/><circle cx="605.6" cy="687.3" r="2.6" fill="url(#sph3)"/><circle cx="667.3" cy="611.7" r="2.1" fill="url(#sph1)"/><circle cx="611.5" cy="674.2" r="2.3" fill="url(#sph3)"/><circle cx="597.9" cy="641.2" r="2.6" fill="url(#sph2)"/><circle cx="670.3" cy="592" r="2.6" fill="url(#sph1)"/><circle cx="612.6" cy="663" r="2" fill="url(#sph1)"/><circle cx="595.2" cy="686.9" r="2.6" fill="url(#sph3)"/><circle cx="645.5" cy="617.8" r="2.2" fill="url(#sph2)"/><circle cx="615.5" cy="620.7" r="2.3" fill="url(#sph2)"/><circle cx="650.1" cy="621.2" r="2" fill="url(#sph2)"/><circle cx="644.9" cy="645.4" r="2.2" fill="url(#sph1)"/><circle cx="663.6" cy="668" r="2.5" fill="url(#sph2)"/><circle cx="669.5" cy="624.2" r="2.1" fill="url(#sph2)"/><circle cx="627.6" cy="671" r="2.2" fill="url(#sph1)"/><circle cx="634.7" cy="715.4" r="2.3" fill="url(#sph2)"/><circle cx="570.5" cy="678.2" r="2" fill="url(#sph1)"/><circle cx="654.5" cy="594.6" r="2.1" fill="url(#sph2)"/><circle cx="630.4" cy="688.4" r="2" fill="url(#sph3)"/><circle cx="628.3" cy="702.2" r="2.2" fill="url(#sph3)"/><circle cx="569.6" cy="669.1" r="2.2" fill="url(#sph3)"/><circle cx="668" cy="594.2" r="2.5" fill="url(#sph2)"/><circle cx="580.1" cy="669.2" r="2.4" fill="url(#sph3)"/><circle cx="641.8" cy="599.1" r="2.2" fill="url(#sph3)"/><circle cx="578.2" cy="681.8" r="2.4" fill="url(#sph2)"/><circle cx="652.9" cy="671.2" r="2.5" fill="url(#sph1)"/><circle cx="627.4" cy="697.2" r="2.3" fill="url(#sph1)"/><circle cx="635.2" cy="668.5" r="2.3" fill="url(#sph3)"/><circle cx="598.2" cy="666.4" r="2.5" fill="url(#sph3)"/><circle cx="654.1" cy="614.3" r="2.3" fill="url(#sph2)"/><circle cx="609" cy="709.7" r="2.2" fill="url(#sph2)"/><circle cx="647.8" cy="659.7" r="2.2" fill="url(#sph3)"/><circle cx="561.6" cy="686.1" r="2.5" fill="url(#sph3)"/><circle cx="559.6" cy="684.9" r="2.1" fill="url(#sph1)"/><circle cx="591.1" cy="652.8" r="2.3" fill="url(#sph1)"/><circle cx="614.1" cy="624.6" r="2.5" fill="url(#sph2)"/><circle cx="626.3" cy="645.9" r="2" fill="url(#sph2)"/><circle cx="622.5" cy="637.9" r="2.3" fill="url(#sph2)"/><circle cx="632.6" cy="585.1" r="2.5" fill="url(#sph1)"/><circle cx="672.9" cy="661.8" r="2.1" fill="url(#sph2)"/><circle cx="629" cy="674.6" r="2.3" fill="url(#sph2)"/><circle cx="656.8" cy="595.4" r="2.1" fill="url(#sph1)"/><circle cx="599.6" cy="644.2" r="2.5" fill="url(#sph2)"/><circle cx="645.3" cy="598.8" r="2.4" fill="url(#sph2)"/><circle cx="648.6" cy="697.3" r="2.5" fill="url(#sph3)"/><circle cx="681.7" cy="663.3" r="2.1" fill="url(#sph3)"/><circle cx="667.6" cy="692.2" r="2.5" fill="url(#sph2)"/><circle cx="615" cy="678" r="2.1" fill="url(#sph3)"/><circle cx="673.4" cy="706.3" r="2.3" fill="url(#sph2)"/><circle cx="621.6" cy="629.1" r="2.1" fill="url(#sph1)"/><circle cx="643.8" cy="662.9" r="2.3" fill="url(#sph2)"/><circle cx="654.9" cy="646.1" r="2.3" fill="url(#sph1)"/><circle cx="585.2" cy="665.3" r="2.1" fill="url(#sph2)"/><circle cx="579.3" cy="652.2" r="2.6" fill="url(#sph2)"/><circle cx="588.7" cy="647.7" r="2.1" fill="url(#sph2)"/><circle cx="573.4" cy="646.6" r="2.6" fill="url(#sph3)"/><circle cx="637.2" cy="613.4" r="2.4" fill="url(#sph1)"/><circle cx="647.1" cy="655.8" r="2.6" fill="url(#sph2)"/><circle cx="671.2" cy="709.4" r="2.5" fill="url(#sph2)"/><circle cx="584.4" cy="647.8" r="2.2" fill="url(#sph2)"/><circle cx="582.6" cy="650.2" r="2.4" fill="url(#sph2)"/><circle cx="604.4" cy="652.8" r="2.1" fill="url(#sph1)"/><circle cx="622.5" cy="595.8" r="2.5" fill="url(#sph2)"/><circle cx="623.3" cy="603.9" r="2.4" fill="url(#sph3)"/><circle cx="589.6" cy="652.5" r="2.3" fill="url(#sph2)"/><circle cx="603.6" cy="700.2" r="2.6" fill="url(#sph2)"/><circle cx="602.5" cy="638.4" r="2.1" fill="url(#sph2)"/><circle cx="648" cy="646.4" r="2.6" fill="url(#sph2)"/><circle cx="678.8" cy="626.7" r="2.5" fill="url(#sph1)"/><circle cx="636.9" cy="662.7" r="2.4" fill="url(#sph2)"/><circle cx="670.1" cy="627.7" r="2" fill="url(#sph1)"/><circle cx="658.7" cy="616.8" r="2.4" fill="url(#sph1)"/><circle cx="568.9" cy="685.2" r="2.1" fill="url(#sph1)"/><circle cx="600.2" cy="647" r="2.5" fill="url(#sph2)"/><circle cx="617.4" cy="630.3" r="2.3" fill="url(#sph1)"/><circle cx="556.5" cy="643.2" r="2.3" fill="url(#sph1)"/><circle cx="599.5" cy="701.9" r="2.5" fill="url(#sph1)"/><circle cx="684.9" cy="620.8" r="2.5" fill="url(#sph2)"/><circle cx="619.6" cy="657.9" r="2.6" fill="url(#sph3)"/><circle cx="680.2" cy="650.1" r="2.2" fill="url(#sph1)"/><circle cx="648" cy="654.2" r="2.3" fill="url(#sph2)"/><circle cx="632.9" cy="635.6" r="2.4" fill="url(#sph2)"/><circle cx="686.6" cy="611.6" r="2.3" fill="url(#sph3)"/><circle cx="642.1" cy="686.2" r="2.4" fill="url(#sph1)"/><circle cx="573.1" cy="705.9" r="2.1" fill="url(#sph1)"/><circle cx="556.5" cy="690.6" r="2.5" fill="url(#sph2)"/><circle cx="682.9" cy="655.9" r="2.1" fill="url(#sph2)"/><circle cx="649.8" cy="688.6" r="2.5" fill="url(#sph2)"/><circle cx="642.7" cy="605.4" r="2.5" fill="url(#sph1)"/><circle cx="612.2" cy="603.3" r="2.6" fill="url(#sph3)"/><circle cx="568.2" cy="639.9" r="2.4" fill="url(#sph3)"/><circle cx="638.3" cy="681.8" r="2.1" fill="url(#sph2)"/><circle cx="678.9" cy="640.1" r="2.5" fill="url(#sph1)"/><circle cx="624.4" cy="716.8" r="2.3" fill="url(#sph1)"/><circle cx="646.1" cy="639.3" r="2.3" fill="url(#sph2)"/><circle cx="617.8" cy="638.9" r="2.2" fill="url(#sph2)"/><circle cx="611.5" cy="639.3" r="2.6" fill="url(#sph3)"/><circle cx="645.5" cy="590.1" r="2.2" fill="url(#sph2)"/><circle cx="674.4" cy="688.7" r="2.3" fill="url(#sph3)"/><circle cx="647.9" cy="643.6" r="2.2" fill="url(#sph2)"/><circle cx="565.4" cy="696.9" r="2.6" fill="url(#sph2)"/><circle cx="677.5" cy="624.2" r="2.4" fill="url(#sph3)"/><circle cx="676.7" cy="611" r="2.2" fill="url(#sph3)"/><circle cx="606.9" cy="710.6" r="2.2" fill="url(#sph2)"/><circle cx="578" cy="649.7" r="2.2" fill="url(#sph2)"/><circle cx="656.7" cy="630.9" r="2.5" fill="url(#sph1)"/><circle cx="587.3" cy="656.6" r="2.1" fill="url(#sph2)"/><circle cx="566" cy="674.8" r="2.5" fill="url(#sph2)"/><circle cx="639.9" cy="699.2" r="2.2" fill="url(#sph1)"/><circle cx="677" cy="692.9" r="2.5" fill="url(#sph3)"/><circle cx="626" cy="628.5" r="2.1" fill="url(#sph2)"/><circle cx="591.1" cy="693" r="2.5" fill="url(#sph2)"/><circle cx="665" cy="643" r="2.6" fill="url(#sph1)"/><circle cx="687.2" cy="697.1" r="2.3" fill="url(#sph2)"/><circle cx="574.4" cy="638.5" r="2.5" fill="url(#sph3)"/><circle cx="666.3" cy="657.6" r="2.5" fill="url(#sph2)"/><circle cx="582.8" cy="645.1" r="2.5" fill="url(#sph2)"/><circle cx="606.1" cy="650.7" r="2.1" fill="url(#sph2)"/><circle cx="633.2" cy="700.9" r="2.1" fill="url(#sph3)"/><circle cx="635.2" cy="711" r="2.3" fill="url(#sph2)"/><circle cx="563.9" cy="642.9" r="2.6" fill="url(#sph2)"/><circle cx="605.5" cy="695.3" r="2.2" fill="url(#sph2)"/><circle cx="644.2" cy="668.1" r="2.4" fill="url(#sph2)"/><circle cx="570.3" cy="685.8" r="2.2" fill="url(#sph2)"/><circle cx="559.6" cy="700.3" r="2.2" fill="url(#sph1)"/><circle cx="672.3" cy="696.8" r="2.4" fill="url(#sph3)"/><circle cx="640.8" cy="688.5" r="2.3" fill="url(#sph1)"/><circle cx="598.3" cy="690.4" r="2.3" fill="url(#sph3)"/><circle cx="678.5" cy="677.8" r="2.5" fill="url(#sph3)"/><circle cx="661" cy="707.1" r="2" fill="url(#sph2)"/><circle cx="664.3" cy="585.3" r="2" fill="url(#sph3)"/><circle cx="608.7" cy="608.8" r="2.3" fill="url(#sph2)"/><circle cx="581.6" cy="652.3" r="2.5" fill="url(#sph2)"/><circle cx="673.3" cy="709.6" r="2.3" fill="url(#sph1)"/><circle cx="660.3" cy="628.4" r="2.4" fill="url(#sph2)"/><circle cx="652.3" cy="705.7" r="2.6" fill="url(#sph2)"/><circle cx="618.3" cy="676" r="2" fill="url(#sph2)"/><circle cx="594.8" cy="682.9" r="2.2" fill="url(#sph1)"/><circle cx="581.2" cy="678.1" r="2.5" fill="url(#sph2)"/><circle cx="621.1" cy="668.6" r="2.2" fill="url(#sph3)"/><circle cx="626.3" cy="647.6" r="2.3" fill="url(#sph1)"/><circle cx="607.6" cy="683" r="2.4" fill="url(#sph3)"/><circle cx="676.3" cy="702.1" r="2.6" fill="url(#sph3)"/><circle cx="580.6" cy="664" r="2.2" fill="url(#sph2)"/><circle cx="674.8" cy="662.5" r="2.6" fill="url(#sph2)"/><circle cx="659.9" cy="637.1" r="2.2" fill="url(#sph2)"/><circle cx="643.5" cy="642.5" r="2.3" fill="url(#sph2)"/><circle cx="663.7" cy="607.3" r="2.2" fill="url(#sph2)"/><circle cx="627.2" cy="655.9" r="2.4" fill="url(#sph2)"/><circle cx="665.5" cy="713.2" r="2.1" fill="url(#sph2)"/><circle cx="628.3" cy="614.4" r="2.1" fill="url(#sph2)"/><circle cx="616.5" cy="597.9" r="2.3" fill="url(#sph3)"/><circle cx="622.8" cy="606.5" r="2.6" fill="url(#sph3)"/><circle cx="571.9" cy="695.9" r="2.4" fill="url(#sph1)"/><circle cx="605.8" cy="716" r="2" fill="url(#sph3)"/><circle cx="684.3" cy="681.9" r="2.1" fill="url(#sph2)"/><circle cx="624.9" cy="638.8" r="2.3" fill="url(#sph2)"/><circle cx="569.9" cy="674" r="2.5" fill="url(#sph3)"/><circle cx="648.2" cy="609.1" r="2.5" fill="url(#sph1)"/><circle cx="679" cy="615.4" r="2.2" fill="url(#sph2)"/><circle cx="676.2" cy="647.6" r="2.4" fill="url(#sph2)"/><circle cx="638.5" cy="633.8" r="2.4" fill="url(#sph2)"/><circle cx="660.5" cy="678.6" r="2.2" fill="url(#sph3)"/><circle cx="586.2" cy="658.6" r="2.6" fill="url(#sph2)"/><circle cx="612.5" cy="654.1" r="2.5" fill="url(#sph2)"/><circle cx="658" cy="644.9" r="2.5" fill="url(#sph1)"/><circle cx="612.1" cy="632.1" r="2.3" fill="url(#sph1)"/><circle cx="586.9" cy="663.8" r="2.1" fill="url(#sph3)"/><circle cx="629.4" cy="659.8" r="2.2" fill="url(#sph3)"/><circle cx="683.8" cy="589.2" r="2.3" fill="url(#sph1)"/><circle cx="612.5" cy="605.9" r="2.3" fill="url(#sph3)"/><circle cx="674.2" cy="637" r="2" fill="url(#sph2)"/><circle cx="668.7" cy="694.8" r="2.5" fill="url(#sph1)"/><circle cx="602.9" cy="686.2" r="2.1" fill="url(#sph3)"/><circle cx="624.7" cy="608" r="2.6" fill="url(#sph2)"/><circle cx="595.3" cy="683.3" r="2" fill="url(#sph2)"/><circle cx="627" cy="715.6" r="2.3" fill="url(#sph1)"/><circle cx="580.5" cy="647.2" r="2.4" fill="url(#sph2)"/><circle cx="651.6" cy="673.1" r="2.6" fill="url(#sph2)"/><circle cx="615.4" cy="678.7" r="2.4" fill="url(#sph1)"/><circle cx="622.2" cy="698.1" r="2.1" fill="url(#sph3)"/><circle cx="602.8" cy="692.1" r="2.6" fill="url(#sph3)"/><circle cx="588.3" cy="651.3" r="2.2" fill="url(#sph3)"/><circle cx="592.6" cy="649.4" r="2.6" fill="url(#sph2)"/><circle cx="611.7" cy="703.8" r="2.5" fill="url(#sph2)"/><circle cx="646.3" cy="614.6" r="2.3" fill="url(#sph2)"/><circle cx="640" cy="682.6" r="2.4" fill="url(#sph1)"/><circle cx="638.9" cy="714.1" r="2.1" fill="url(#sph3)"/><circle cx="618.7" cy="658.9" r="2.1" fill="url(#sph2)"/><circle cx="682.3" cy="666.9" r="2.1" fill="url(#sph1)"/><circle cx="665.5" cy="627.5" r="2.1" fill="url(#sph2)"/><circle cx="647.4" cy="655.5" r="2.1" fill="url(#sph3)"/><circle cx="633.4" cy="690.6" r="2.6" fill="url(#sph3)"/><circle cx="636.9" cy="640.4" r="2.1" fill="url(#sph1)"/><circle cx="591.8" cy="664" r="2.5" fill="url(#sph2)"/><circle cx="653.3" cy="624.1" r="2.3" fill="url(#sph2)"/><circle cx="684" cy="590.7" r="2.3" fill="url(#sph1)"/><circle cx="592.3" cy="696.4" r="2.5" fill="url(#sph2)"/><circle cx="658" cy="617.5" r="2" fill="url(#sph1)"/><circle cx="678.5" cy="651.8" r="2.4" fill="url(#sph1)"/><circle cx="559.1" cy="672.7" r="2.2" fill="url(#sph3)"/><circle cx="582.6" cy="708.9" r="2.1" fill="url(#sph2)"/><circle cx="563.9" cy="656.2" r="2.2" fill="url(#sph1)"/><circle cx="621.6" cy="646.8" r="2.2" fill="url(#sph2)"/><circle cx="652.9" cy="708.6" r="2.5" fill="url(#sph2)"/><circle cx="605.9" cy="659.3" r="2.6" fill="url(#sph2)"/><circle cx="583.5" cy="668.1" r="2" fill="url(#sph1)"/><circle cx="638" cy="644.8" r="2.3" fill="url(#sph2)"/><circle cx="684" cy="638.3" r="2.6" fill="url(#sph2)"/><circle cx="670.8" cy="589.8" r="2.1" fill="url(#sph2)"/><circle cx="581.9" cy="711.6" r="2.1" fill="url(#sph3)"/><circle cx="646.3" cy="634" r="2.2" fill="url(#sph1)"/><circle cx="661.9" cy="615.9" r="2.3" fill="url(#sph2)"/><circle cx="651.6" cy="589.5" r="2.5" fill="url(#sph2)"/><circle cx="555.9" cy="664.1" r="2.1" fill="url(#sph2)"/><circle cx="563.1" cy="701.7" r="2.4" fill="url(#sph2)"/><circle cx="600.9" cy="702.8" r="2.3" fill="url(#sph2)"/><circle cx="681.8" cy="674.1" r="2.2" fill="url(#sph2)"/><circle cx="634.1" cy="603" r="2.4" fill="url(#sph3)"/><circle cx="585.5" cy="692.1" r="2.4" fill="url(#sph2)"/><circle cx="635.7" cy="717.9" r="2.5" fill="url(#sph1)"/><circle cx="620.4" cy="605" r="2.1" fill="url(#sph1)"/><circle cx="639.9" cy="672.8" r="2.3" fill="url(#sph3)"/><circle cx="566.7" cy="643.7" r="2.1" fill="url(#sph2)"/><circle cx="651.9" cy="689.2" r="2.4" fill="url(#sph2)"/><circle cx="643.9" cy="624.6" r="2.2" fill="url(#sph1)"/><circle cx="680.2" cy="683.8" r="2.3" fill="url(#sph1)"/><circle cx="608.4" cy="669.6" r="2.3" fill="url(#sph2)"/><circle cx="597.5" cy="710.8" r="2" fill="url(#sph2)"/><circle cx="682.1" cy="642.5" r="2.5" fill="url(#sph2)"/><circle cx="674.3" cy="586.2" r="2.2" fill="url(#sph3)"/><circle cx="608.6" cy="615.9" r="2.5" fill="url(#sph3)"/><circle cx="624.4" cy="639.5" r="2.2" fill="url(#sph3)"/><circle cx="638.3" cy="633.9" r="2.1" fill="url(#sph1)"/><circle cx="649.9" cy="647.8" r="2.2" fill="url(#sph2)"/><circle cx="659.4" cy="619" r="2.3" fill="url(#sph2)"/><circle cx="619.5" cy="648.8" r="2.1" fill="url(#sph2)"/><circle cx="569.1" cy="697.7" r="2" fill="url(#sph2)"/><circle cx="666.6" cy="707.5" r="2.2" fill="url(#sph2)"/><circle cx="597.8" cy="701.1" r="2.3" fill="url(#sph3)"/><circle cx="615.2" cy="587.3" r="2.6" fill="url(#sph1)"/><circle cx="611.5" cy="717.9" r="2.3" fill="url(#sph2)"/><circle cx="674.7" cy="660.7" r="2.1" fill="url(#sph3)"/><circle cx="687.2" cy="605.7" r="2.4" fill="url(#sph3)"/><circle cx="614.3" cy="606.2" r="2.4" fill="url(#sph2)"/><circle cx="683.2" cy="656.6" r="2.3" fill="url(#sph2)"/><circle cx="603.5" cy="644.1" r="2.6" fill="url(#sph3)"/><circle cx="609.8" cy="622.6" r="2.1" fill="url(#sph3)"/><circle cx="665.3" cy="623.9" r="2.4" fill="url(#sph2)"/><circle cx="606.7" cy="682.3" r="2.5" fill="url(#sph1)"/><circle cx="620.5" cy="684.6" r="2.1" fill="url(#sph1)"/><circle cx="615.9" cy="656.8" r="2.2" fill="url(#sph2)"/><circle cx="564.8" cy="654.5" r="2.2" fill="url(#sph2)"/><circle cx="684.7" cy="620.5" r="2" fill="url(#sph2)"/><circle cx="576.4" cy="697.1" r="2" fill="url(#sph2)"/><circle cx="658" cy="685" r="2.2" fill="url(#sph2)"/><circle cx="618.7" cy="601" r="2.3" fill="url(#sph1)"/><circle cx="631.4" cy="617.1" r="2.2" fill="url(#sph3)"/><circle cx="681.6" cy="597.1" r="2.5" fill="url(#sph2)"/><circle cx="589.7" cy="713.3" r="2.3" fill="url(#sph2)"/><circle cx="625.5" cy="621.8" r="2.3" fill="url(#sph3)"/><circle cx="660.4" cy="663.7" r="2.2" fill="url(#sph1)"/><circle cx="676.4" cy="710.6" r="2" fill="url(#sph2)"/><circle cx="617.6" cy="654.7" r="2.1" fill="url(#sph2)"/><circle cx="563.9" cy="674.7" r="2.2" fill="url(#sph1)"/><circle cx="662.5" cy="669.4" r="2.6" fill="url(#sph3)"/><circle cx="618.8" cy="669.2" r="2.3" fill="url(#sph2)"/><circle cx="679.5" cy="590.9" r="2.1" fill="url(#sph1)"/><circle cx="616.4" cy="648.5" r="2.5" fill="url(#sph2)"/><circle cx="640.4" cy="592.1" r="2.2" fill="url(#sph1)"/><circle cx="672.9" cy="593.8" r="2.3" fill="url(#sph1)"/><circle cx="646.6" cy="624.9" r="2.3" fill="url(#sph2)"/><circle cx="684.2" cy="671.8" r="2.3" fill="url(#sph2)"/><circle cx="613.7" cy="691.9" r="2" fill="url(#sph2)"/><circle cx="667.7" cy="692.6" r="2.3" fill="url(#sph1)"/><circle cx="621.8" cy="698" r="2.3" fill="url(#sph1)"/><circle cx="579.6" cy="649.8" r="2.1" fill="url(#sph1)"/><circle cx="594.9" cy="681.4" r="2.1" fill="url(#sph3)"/><circle cx="632" cy="609.4" r="2.1" fill="url(#sph2)"/><circle cx="569.5" cy="642.7" r="2.4" fill="url(#sph2)"/><circle cx="621.3" cy="590.9" r="2.2" fill="url(#sph2)"/><circle cx="648.5" cy="615.1" r="2.3" fill="url(#sph3)"/><circle cx="573.9" cy="640.6" r="2.4" fill="url(#sph2)"/><circle cx="607.7" cy="652.1" r="2.5" fill="url(#sph2)"/><circle cx="632.9" cy="613.6" r="2.6" fill="url(#sph3)"/><circle cx="622.8" cy="661.5" r="2.6" fill="url(#sph2)"/><circle cx="637.2" cy="690.6" r="2.3" fill="url(#sph2)"/><circle cx="671.1" cy="598.5" r="2.6" fill="url(#sph1)"/><circle cx="598.6" cy="655.4" r="2.4" fill="url(#sph1)"/><circle cx="649.7" cy="712.1" r="2.5" fill="url(#sph1)"/><circle cx="659.2" cy="700.2" r="2.1" fill="url(#sph2)"/><circle cx="617.5" cy="672.9" r="2.1" fill="url(#sph2)"/><circle cx="645.7" cy="677.8" r="2.5" fill="url(#sph2)"/><circle cx="628" cy="635.8" r="2.6" fill="url(#sph1)"/><circle cx="593.8" cy="648.3" r="2.2" fill="url(#sph3)"/><circle cx="648.7" cy="603" r="2.5" fill="url(#sph2)"/><circle cx="681.7" cy="686.8" r="2.6" fill="url(#sph3)"/><circle cx="593.2" cy="689.2" r="2.3" fill="url(#sph2)"/><circle cx="604.1" cy="639.1" r="2.4" fill="url(#sph3)"/><circle cx="628.4" cy="656.1" r="2" fill="url(#sph3)"/><circle cx="637.9" cy="646.8" r="2.1" fill="url(#sph1)"/><circle cx="635.4" cy="654.1" r="2.2" fill="url(#sph3)"/><circle cx="618.4" cy="634.4" r="2.3" fill="url(#sph1)"/><circle cx="643.6" cy="708.1" r="2.1" fill="url(#sph1)"/><circle cx="679.6" cy="684" r="2.2" fill="url(#sph2)"/><circle cx="588.8" cy="691.8" r="2.5" fill="url(#sph2)"/><circle cx="559.9" cy="654" r="2.6" fill="url(#sph2)"/><circle cx="673.9" cy="608.9" r="2.5" fill="url(#sph1)"/><circle cx="651.5" cy="655.5" r="2.1" fill="url(#sph2)"/><circle cx="626.8" cy="639.8" r="2.4" fill="url(#sph3)"/><circle cx="686" cy="626.8" r="2.4" fill="url(#sph3)"/><circle cx="570.1" cy="642.7" r="2.4" fill="url(#sph2)"/><circle cx="660.8" cy="708.3" r="2.1" fill="url(#sph2)"/><circle cx="683.1" cy="679.9" r="2.5" fill="url(#sph2)"/><circle cx="657.2" cy="613.7" r="2.2" fill="url(#sph2)"/><circle cx="671.3" cy="689.9" r="2.4" fill="url(#sph2)"/><circle cx="658.9" cy="648.6" r="2.4" fill="url(#sph3)"/><circle cx="608.7" cy="715.6" r="2" fill="url(#sph3)"/><circle cx="656" cy="674.2" r="2.2" fill="url(#sph1)"/><circle cx="569" cy="674.4" r="2.5" fill="url(#sph3)"/><circle cx="636.9" cy="621.9" r="2.5" fill="url(#sph3)"/><circle cx="632.4" cy="663.8" r="2.2" fill="url(#sph3)"/><circle cx="594.6" cy="695.8" r="2" fill="url(#sph2)"/><circle cx="624.9" cy="699" r="2.2" fill="url(#sph2)"/><circle cx="662.6" cy="592.9" r="2.5" fill="url(#sph2)"/><circle cx="610.9" cy="613.2" r="2.3" fill="url(#sph2)"/><circle cx="647.5" cy="597.8" r="2.1" fill="url(#sph2)"/><circle cx="644.1" cy="712.5" r="2.3" fill="url(#sph2)"/><circle cx="644.7" cy="689.1" r="2.4" fill="url(#sph3)"/><circle cx="669" cy="644.3" r="2.4" fill="url(#sph1)"/><circle cx="594.1" cy="662.9" r="2.5" fill="url(#sph2)"/><circle cx="641.6" cy="612.7" r="2.5" fill="url(#sph2)"/><circle cx="655.3" cy="717.1" r="2.2" fill="url(#sph2)"/><circle cx="574.1" cy="695.7" r="2.3" fill="url(#sph1)"/><circle cx="589.3" cy="701.5" r="2.2" fill="url(#sph1)"/><circle cx="673" cy="626.2" r="2" fill="url(#sph2)"/><circle cx="650.8" cy="700.2" r="2.2" fill="url(#sph2)"/><circle cx="646.7" cy="675.7" r="2.2" fill="url(#sph2)"/><circle cx="554.9" cy="638.7" r="2.5" fill="url(#sph2)"/><circle cx="657.8" cy="614.1" r="2.5" fill="url(#sph1)"/><circle cx="600.6" cy="680" r="2.5" fill="url(#sph1)"/><circle cx="558.1" cy="662.9" r="2.5" fill="url(#sph2)"/><circle cx="678.2" cy="662" r="2.2" fill="url(#sph2)"/><circle cx="667.7" cy="606.1" r="2.4" fill="url(#sph2)"/><circle cx="613.3" cy="614.8" r="2.4" fill="url(#sph2)"/><circle cx="633.7" cy="611.1" r="2.3" fill="url(#sph2)"/><circle cx="568.3" cy="702.9" r="2.5" fill="url(#sph1)"/><circle cx="629.3" cy="592.1" r="2.4" fill="url(#sph2)"/><circle cx="618.9" cy="617.5" r="2.5" fill="url(#sph2)"/><circle cx="654.7" cy="702.5" r="2.3" fill="url(#sph2)"/><circle cx="608.7" cy="703.8" r="2.3" fill="url(#sph3)"/><circle cx="661.6" cy="592.4" r="2" fill="url(#sph1)"/><circle cx="598.3" cy="639.8" r="2.6" fill="url(#sph2)"/><circle cx="687.2" cy="717" r="2.2" fill="url(#sph2)"/><circle cx="603.3" cy="710.7" r="2.2" fill="url(#sph2)"/><circle cx="572.6" cy="650.8" r="2.5" fill="url(#sph2)"/><circle cx="633.2" cy="670.7" r="2.1" fill="url(#sph1)"/><circle cx="649.6" cy="603.2" r="2.5" fill="url(#sph2)"/><circle cx="670.8" cy="671.2" r="2.1" fill="url(#sph3)"/><circle cx="655.2" cy="644" r="2.3" fill="url(#sph3)"/><circle cx="560" cy="715.2" r="2.1" fill="url(#sph2)"/><circle cx="638.2" cy="715.8" r="2.3" fill="url(#sph2)"/><circle cx="653.3" cy="623.5" r="2" fill="url(#sph1)"/><circle cx="644.7" cy="625.8" r="2.6" fill="url(#sph2)"/><circle cx="643.1" cy="641.3" r="2.6" fill="url(#sph2)"/><circle cx="564.5" cy="653.5" r="2.4" fill="url(#sph1)"/><circle cx="559.6" cy="711.9" r="2.1" fill="url(#sph3)"/><circle cx="661" cy="623.9" r="2.4" fill="url(#sph1)"/><circle cx="629.7" cy="704.5" r="2.2" fill="url(#sph2)"/><circle cx="624.1" cy="601" r="2.3" fill="url(#sph2)"/><circle cx="672.7" cy="688.9" r="2.5" fill="url(#sph1)"/><circle cx="593.2" cy="704.5" r="2.5" fill="url(#sph2)"/><circle cx="623.2" cy="676.5" r="2.5" fill="url(#sph3)"/><circle cx="665.5" cy="704.1" r="2.1" fill="url(#sph2)"/><circle cx="570.4" cy="694.2" r="2.3" fill="url(#sph2)"/><circle cx="679.8" cy="682.4" r="2.1" fill="url(#sph2)"/><circle cx="624.8" cy="650.1" r="2.3" fill="url(#sph2)"/><circle cx="667.3" cy="672" r="2.3" fill="url(#sph3)"/><circle cx="653.7" cy="678.6" r="2.2" fill="url(#sph2)"/><circle cx="570.8" cy="650.7" r="2.1" fill="url(#sph2)"/><circle cx="654.1" cy="602.5" r="2" fill="url(#sph2)"/><circle cx="637.9" cy="611.3" r="2.4" fill="url(#sph3)"/><circle cx="659.4" cy="652.3" r="2.3" fill="url(#sph2)"/><circle cx="627.7" cy="635.8" r="2.6" fill="url(#sph2)"/><circle cx="643" cy="590.8" r="2.5" fill="url(#sph2)"/><circle cx="562.9" cy="708.8" r="2.2" fill="url(#sph1)"/><circle cx="554.9" cy="646.8" r="2.2" fill="url(#sph1)"/><circle cx="582.9" cy="706.2" r="2" fill="url(#sph2)"/><circle cx="610.6" cy="704.4" r="2.4" fill="url(#sph1)"/><circle cx="667.1" cy="697.9" r="2.2" fill="url(#sph3)"/><circle cx="624.4" cy="650" r="2.5" fill="url(#sph3)"/><circle cx="584.4" cy="671.9" r="2.1" fill="url(#sph2)"/><circle cx="668.2" cy="588.5" r="2" fill="url(#sph3)"/><circle cx="607.8" cy="683.4" r="2.3" fill="url(#sph1)"/><circle cx="633.1" cy="631.6" r="2.5" fill="url(#sph2)"/><circle cx="596.4" cy="641" r="2.5" fill="url(#sph3)"/><circle cx="671.9" cy="663.3" r="2.4" fill="url(#sph2)"/><circle cx="582" cy="673.3" r="2.4" fill="url(#sph1)"/><circle cx="675.5" cy="585.7" r="2.4" fill="url(#sph2)"/><circle cx="587.8" cy="684.4" r="2.4" fill="url(#sph2)"/><circle cx="602.9" cy="675.4" r="2.5" fill="url(#sph3)"/><circle cx="658" cy="650.3" r="2.2" fill="url(#sph2)"/><circle cx="633.1" cy="659.1" r="2.1" fill="url(#sph2)"/><circle cx="629" cy="608.4" r="2.2" fill="url(#sph1)"/><circle cx="677" cy="614.4" r="2.4" fill="url(#sph3)"/><circle cx="667.8" cy="696.7" r="2.4" fill="url(#sph2)"/><circle cx="652.2" cy="673" r="2.3" fill="url(#sph2)"/><circle cx="660.6" cy="603.5" r="2.2" fill="url(#sph2)"/><circle cx="623.7" cy="671.8" r="2" fill="url(#sph2)"/><circle cx="630.4" cy="623.5" r="2.3" fill="url(#sph3)"/><circle cx="672.5" cy="708.9" r="2.1" fill="url(#sph2)"/><circle cx="616.2" cy="675" r="2.5" fill="url(#sph1)"/><circle cx="609.5" cy="667.7" r="2.5" fill="url(#sph1)"/><circle cx="648.6" cy="699" r="2.2" fill="url(#sph1)"/><circle cx="607" cy="655.8" r="2.5" fill="url(#sph2)"/><circle cx="635.8" cy="698" r="2.1" fill="url(#sph3)"/><circle cx="567.2" cy="691.1" r="2.1" fill="url(#sph1)"/><circle cx="671.4" cy="699.6" r="2.1" fill="url(#sph2)"/><circle cx="635" cy="668.8" r="2.5" fill="url(#sph3)"/><circle cx="594.7" cy="669.9" r="2.2" fill="url(#sph3)"/><circle cx="646.6" cy="684" r="2.6" fill="url(#sph1)"/><circle cx="565.8" cy="646.9" r="2.1" fill="url(#sph1)"/><circle cx="654.3" cy="663.9" r="2.4" fill="url(#sph2)"/><circle cx="595.5" cy="669.5" r="2.4" fill="url(#sph1)"/><circle cx="672.3" cy="631.9" r="2.5" fill="url(#sph2)"/><circle cx="654.4" cy="685.2" r="2.2" fill="url(#sph2)"/><circle cx="567.7" cy="683" r="2.4" fill="url(#sph1)"/><circle cx="623" cy="707.2" r="2.1" fill="url(#sph2)"/><circle cx="575.5" cy="687.5" r="2.5" fill="url(#sph3)"/><circle cx="672.9" cy="673.9" r="2.5" fill="url(#sph3)"/><circle cx="621.2" cy="641.9" r="2.5" fill="url(#sph1)"/><circle cx="593.2" cy="646.3" r="2" fill="url(#sph2)"/><circle cx="632.3" cy="699" r="2.4" fill="url(#sph2)"/><circle cx="665.5" cy="638.2" r="2.5" fill="url(#sph2)"/><circle cx="670.3" cy="635.5" r="2.5" fill="url(#sph2)"/><circle cx="643" cy="703.7" r="2.2" fill="url(#sph3)"/><circle cx="664.2" cy="625.6" r="2" fill="url(#sph3)"/><circle cx="632.3" cy="680.7" r="2.6" fill="url(#sph2)"/><circle cx="668.2" cy="705.5" r="2.3" fill="url(#sph1)"/><circle cx="645.6" cy="655.3" r="2.3" fill="url(#sph3)"/><circle cx="636.8" cy="640.4" r="2.5" fill="url(#sph1)"/><circle cx="627.8" cy="630" r="2.3" fill="url(#sph1)"/><circle cx="595" cy="698.4" r="2.2" fill="url(#sph2)"/><circle cx="643.8" cy="617.2" r="2.6" fill="url(#sph1)"/><circle cx="612.3" cy="661.2" r="2.4" fill="url(#sph2)"/><circle cx="605.8" cy="662.9" r="2" fill="url(#sph1)"/><circle cx="687.9" cy="592" r="2.2" fill="url(#sph1)"/><circle cx="630.4" cy="699.3" r="2.5" fill="url(#sph2)"/><circle cx="603.6" cy="639.8" r="2.3" fill="url(#sph3)"/><circle cx="614.9" cy="643" r="2.6" fill="url(#sph2)"/><circle cx="608.5" cy="665.9" r="2.5" fill="url(#sph1)"/><circle cx="684.8" cy="622.7" r="2" fill="url(#sph2)"/><circle cx="614.9" cy="612.9" r="2.3" fill="url(#sph1)"/><circle cx="632.2" cy="637.3" r="2.3" fill="url(#sph2)"/><circle cx="671.7" cy="669.5" r="2.5" fill="url(#sph3)"/><circle cx="659.8" cy="622.6" r="2.2" fill="url(#sph3)"/><circle cx="599" cy="703.3" r="2.3" fill="url(#sph2)"/><circle cx="687.7" cy="652.5" r="2.5" fill="url(#sph2)"/><circle cx="673.7" cy="615.7" r="2.4" fill="url(#sph3)"/><circle cx="667.1" cy="629.4" r="2.5" fill="url(#sph2)"/><circle cx="647.4" cy="669.4" r="2.6" fill="url(#sph1)"/><circle cx="561.5" cy="701.2" r="2.5" fill="url(#sph1)"/><circle cx="570.5" cy="656.5" r="2.6" fill="url(#sph2)"/><circle cx="660.5" cy="692.9" r="2.2" fill="url(#sph2)"/><circle cx="581.4" cy="676.9" r="2.1" fill="url(#sph3)"/><circle cx="624.8" cy="716.2" r="2.3" fill="url(#sph1)"/><circle cx="642.6" cy="618.6" r="2.4" fill="url(#sph1)"/><circle cx="642.9" cy="664.5" r="2.1" fill="url(#sph1)"/><circle cx="678.9" cy="660.5" r="2.4" fill="url(#sph2)"/><circle cx="566" cy="649.8" r="2.4" fill="url(#sph1)"/><circle cx="596.7" cy="671.8" r="2.5" fill="url(#sph2)"/><circle cx="613.4" cy="623.1" r="2.2" fill="url(#sph2)"/><circle cx="662" cy="717.6" r="2" fill="url(#sph2)"/><circle cx="682.8" cy="699.7" r="2.1" fill="url(#sph2)"/><circle cx="626.7" cy="634" r="2.4" fill="url(#sph3)"/><circle cx="675.4" cy="594" r="2.5" fill="url(#sph1)"/><circle cx="606.6" cy="684.3" r="2.3" fill="url(#sph2)"/><circle cx="624.8" cy="648.4" r="2.4" fill="url(#sph2)"/><circle cx="605.8" cy="691.6" r="2.3" fill="url(#sph2)"/><circle cx="646.9" cy="668.4" r="2.5" fill="url(#sph2)"/><circle cx="606.9" cy="715" r="2.3" fill="url(#sph3)"/><circle cx="652.1" cy="660" r="2.1" fill="url(#sph2)"/><circle cx="675.4" cy="656.1" r="2.2" fill="url(#sph1)"/><circle cx="671.3" cy="687" r="2.5" fill="url(#sph2)"/><circle cx="672.8" cy="687.1" r="2" fill="url(#sph2)"/><circle cx="591.6" cy="641.9" r="2.4" fill="url(#sph3)"/><circle cx="617.6" cy="588.5" r="2.2" fill="url(#sph2)"/><circle cx="608.6" cy="657" r="2.1" fill="url(#sph2)"/><circle cx="637.6" cy="658.1" r="2.6" fill="url(#sph2)"/><circle cx="653.6" cy="658" r="2.5" fill="url(#sph3)"/><circle cx="606.3" cy="709.2" r="2" fill="url(#sph2)"/><circle cx="666.8" cy="621.2" r="2.5" fill="url(#sph3)"/><circle cx="644" cy="702.9" r="2.1" fill="url(#sph2)"/><circle cx="675.1" cy="689" r="2.6" fill="url(#sph1)"/><circle cx="681.1" cy="691.1" r="2.3" fill="url(#sph1)"/><circle cx="666.7" cy="628.1" r="2.5" fill="url(#sph2)"/><circle cx="609.2" cy="598.4" r="2.2" fill="url(#sph3)"/><circle cx="568.9" cy="678.7" r="2.6" fill="url(#sph2)"/><circle cx="579.8" cy="651.3" r="2.1" fill="url(#sph2)"/><circle cx="685.2" cy="654" r="2.5" fill="url(#sph1)"/><circle cx="656.8" cy="700.4" r="2.3" fill="url(#sph2)"/><circle cx="634.8" cy="590.8" r="2.2" fill="url(#sph2)"/><circle cx="614.4" cy="690.4" r="2.4" fill="url(#sph1)"/><circle cx="582.9" cy="699.1" r="2" fill="url(#sph1)"/><circle cx="612.2" cy="629.3" r="2.3" fill="url(#sph3)"/><circle cx="646.7" cy="658.4" r="2.5" fill="url(#sph1)"/><circle cx="644.9" cy="637.1" r="2.6" fill="url(#sph3)"/><circle cx="653.4" cy="692.9" r="2.5" fill="url(#sph2)"/><circle cx="661.1" cy="655.9" r="2.1" fill="url(#sph1)"/><circle cx="656.6" cy="668.7" r="2.3" fill="url(#sph3)"/><circle cx="676.4" cy="584.9" r="2.2" fill="url(#sph1)"/><circle cx="677.6" cy="688.3" r="2.4" fill="url(#sph1)"/><circle cx="560.7" cy="682.7" r="2.2" fill="url(#sph1)"/><circle cx="638.3" cy="593.3" r="2.4" fill="url(#sph2)"/><circle cx="625.8" cy="609.2" r="2.5" fill="url(#sph2)"/><circle cx="645.9" cy="596.7" r="2.3" fill="url(#sph2)"/><circle cx="684.1" cy="649.7" r="2.5" fill="url(#sph3)"/><circle cx="589.7" cy="645.4" r="2.2" fill="url(#sph3)"/><circle cx="562.9" cy="640.9" r="2.5" fill="url(#sph2)"/><circle cx="672.1" cy="588" r="2.1" fill="url(#sph1)"/><circle cx="561.9" cy="656.5" r="2.5" fill="url(#sph1)"/><circle cx="641" cy="707.9" r="2.3" fill="url(#sph2)"/><circle cx="611" cy="613.3" r="2.6" fill="url(#sph3)"/><circle cx="647" cy="694.4" r="2.5" fill="url(#sph2)"/><circle cx="641.7" cy="658.1" r="2.2" fill="url(#sph3)"/><circle cx="674.4" cy="639.8" r="2.5" fill="url(#sph2)"/><circle cx="648.9" cy="674.9" r="2.3" fill="url(#sph3)"/><circle cx="616.1" cy="616.9" r="2" fill="url(#sph2)"/><circle cx="595.5" cy="699.2" r="2.3" fill="url(#sph1)"/><circle cx="596.6" cy="682.2" r="2.2" fill="url(#sph2)"/><circle cx="683" cy="592.3" r="2.2" fill="url(#sph3)"/><circle cx="599.4" cy="682.3" r="2.2" fill="url(#sph3)"/><circle cx="666.1" cy="654.1" r="2.2" fill="url(#sph2)"/><circle cx="634.4" cy="597.6" r="2.5" fill="url(#sph2)"/><circle cx="634" cy="661.3" r="2.4" fill="url(#sph3)"/><circle cx="675" cy="615.9" r="2.6" fill="url(#sph2)"/><circle cx="610" cy="646.8" r="2.3" fill="url(#sph1)"/><circle cx="646.4" cy="675.3" r="2.1" fill="url(#sph3)"/><circle cx="587.1" cy="677.9" r="2.3" fill="url(#sph1)"/><circle cx="655.3" cy="658.5" r="2.3" fill="url(#sph3)"/><circle cx="589.6" cy="680" r="2.2" fill="url(#sph3)"/><circle cx="571" cy="641.8" r="2.6" fill="url(#sph2)"/><circle cx="625.5" cy="588.4" r="2.4" fill="url(#sph3)"/><circle cx="578.7" cy="646.1" r="2" fill="url(#sph3)"/><circle cx="622.4" cy="692.9" r="2.1" fill="url(#sph3)"/><circle cx="687.1" cy="606.9" r="2.6" fill="url(#sph1)"/><circle cx="653.4" cy="646.8" r="2.4" fill="url(#sph2)"/><circle cx="558.3" cy="709.4" r="2.3" fill="url(#sph2)"/><circle cx="669.1" cy="714.9" r="2.2" fill="url(#sph1)"/><circle cx="653.2" cy="601.9" r="2.4" fill="url(#sph2)"/><circle cx="612.4" cy="655.6" r="2.3" fill="url(#sph2)"/><circle cx="668.3" cy="625.5" r="2" fill="url(#sph2)"/><circle cx="634.3" cy="592" r="2.2" fill="url(#sph2)"/><circle cx="650.2" cy="595.7" r="2.4" fill="url(#sph3)"/><circle cx="636" cy="643.1" r="2.3" fill="url(#sph3)"/><circle cx="609.8" cy="613.9" r="2.3" fill="url(#sph2)"/><circle cx="559.7" cy="655.9" r="2.3" fill="url(#sph2)"/><circle cx="679.5" cy="633.2" r="2.1" fill="url(#sph2)"/><circle cx="661.9" cy="628.7" r="2.3" fill="url(#sph2)"/><circle cx="659.4" cy="661" r="2.5" fill="url(#sph2)"/><circle cx="598.8" cy="654.9" r="2.5" fill="url(#sph2)"/><circle cx="568.9" cy="696.4" r="2.1" fill="url(#sph1)"/><circle cx="687.2" cy="624.5" r="2" fill="url(#sph3)"/><circle cx="645.6" cy="661.6" r="2.2" fill="url(#sph2)"/><circle cx="620.3" cy="695.1" r="2.3" fill="url(#sph2)"/><circle cx="601.4" cy="684" r="2.1" fill="url(#sph3)"/><circle cx="642.5" cy="713.9" r="2.4" fill="url(#sph2)"/><circle cx="624.5" cy="650.3" r="2.5" fill="url(#sph1)"/><circle cx="631.9" cy="693.4" r="2.4" fill="url(#sph3)"/><circle cx="652.6" cy="636.3" r="2.5" fill="url(#sph2)"/><circle cx="600" cy="709.1" r="2" fill="url(#sph3)"/><circle cx="555.1" cy="665.1" r="2.2" fill="url(#sph2)"/><circle cx="671.1" cy="603.1" r="2" fill="url(#sph1)"/><circle cx="565.9" cy="673" r="2.3" fill="url(#sph2)"/><circle cx="608.4" cy="587.8" r="2.1" fill="url(#sph3)"/><circle cx="682.1" cy="632.9" r="2.4" fill="url(#sph1)"/><circle cx="595.5" cy="703.5" r="2.2" fill="url(#sph2)"/><circle cx="565" cy="713.3" r="2.6" fill="url(#sph1)"/><circle cx="639.8" cy="585.8" r="2.2" fill="url(#sph2)"/><circle cx="629.5" cy="600.7" r="2.3" fill="url(#sph3)"/><circle cx="611.4" cy="640.5" r="2.5" fill="url(#sph3)"/><circle cx="607.5" cy="656.7" r="2" fill="url(#sph2)"/><circle cx="633.3" cy="591.3" r="2.5" fill="url(#sph2)"/><circle cx="604.8" cy="648.2" r="2" fill="url(#sph3)"/><circle cx="661.7" cy="593.6" r="2.2" fill="url(#sph1)"/><circle cx="629.8" cy="668.3" r="2.3" fill="url(#sph2)"/><circle cx="653.7" cy="598.8" r="2.3" fill="url(#sph3)"/><circle cx="668.6" cy="694.1" r="2.2" fill="url(#sph2)"/><circle cx="682.3" cy="695.6" r="2.2" fill="url(#sph3)"/><circle cx="656.5" cy="684.1" r="2.6" fill="url(#sph3)"/><circle cx="593.8" cy="654.4" r="2.4" fill="url(#sph2)"/><circle cx="604.8" cy="702.9" r="2" fill="url(#sph2)"/><circle cx="640.5" cy="674.7" r="2.5" fill="url(#sph1)"/><circle cx="656.3" cy="633.6" r="2.2" fill="url(#sph2)"/><circle cx="597.2" cy="704.8" r="2.4" fill="url(#sph2)"/><circle cx="682.6" cy="622.2" r="2.3" fill="url(#sph2)"/><circle cx="631.6" cy="683.2" r="2.2" fill="url(#sph1)"/><circle cx="686.5" cy="645" r="2.3" fill="url(#sph3)"/><circle cx="657.7" cy="644.4" r="2.2" fill="url(#sph3)"/><circle cx="625.2" cy="676.7" r="2.1" fill="url(#sph3)"/><circle cx="570.8" cy="657.4" r="2.5" fill="url(#sph1)"/><circle cx="608.7" cy="626.1" r="2.3" fill="url(#sph1)"/><circle cx="618" cy="598.3" r="2.2" fill="url(#sph2)"/><circle cx="674.6" cy="686.4" r="2" fill="url(#sph2)"/><circle cx="572.2" cy="651.3" r="2" fill="url(#sph2)"/><circle cx="682.2" cy="664" r="2.4" fill="url(#sph3)"/><circle cx="587.5" cy="674.7" r="2.4" fill="url(#sph3)"/><circle cx="682.7" cy="593.4" r="2.4" fill="url(#sph2)"/><circle cx="673.3" cy="687.9" r="2.3" fill="url(#sph2)"/><circle cx="557" cy="682.1" r="2.3" fill="url(#sph2)"/><circle cx="557.8" cy="654.7" r="2.1" fill="url(#sph2)"/><circle cx="664.6" cy="691.4" r="2.6" fill="url(#sph1)"/><circle cx="650.8" cy="607.3" r="2.3" fill="url(#sph2)"/><circle cx="561.5" cy="681.2" r="2.2" fill="url(#sph3)"/><circle cx="584.7" cy="661.6" r="2.4" fill="url(#sph2)"/><circle cx="658.7" cy="602.6" r="2.3" fill="url(#sph3)"/><circle cx="628.5" cy="601.1" r="2.4" fill="url(#sph3)"/><circle cx="566.7" cy="689.6" r="2.5" fill="url(#sph2)"/><circle cx="630.5" cy="655" r="2.4" fill="url(#sph1)"/><circle cx="619.6" cy="707" r="2.1" fill="url(#sph2)"/><circle cx="647.6" cy="711.3" r="2.3" fill="url(#sph2)"/><circle cx="630.1" cy="639.7" r="2.1" fill="url(#sph3)"/><circle cx="599.6" cy="671.2" r="2.4" fill="url(#sph2)"/><circle cx="672" cy="700.1" r="2.3" fill="url(#sph3)"/><circle cx="647.1" cy="695.5" r="2.5" fill="url(#sph2)"/><circle cx="645.2" cy="670.4" r="2.5" fill="url(#sph3)"/><circle cx="595.4" cy="686.1" r="2.2" fill="url(#sph3)"/><circle cx="619.7" cy="710.6" r="2.1" fill="url(#sph3)"/><circle cx="605.3" cy="643.6" r="2.5" fill="url(#sph1)"/><circle cx="563.2" cy="643.5" r="2.1" fill="url(#sph2)"/><circle cx="575.5" cy="688.7" r="2.6" fill="url(#sph1)"/><circle cx="622.7" cy="646.6" r="2.3" fill="url(#sph2)"/><circle cx="605.7" cy="685.9" r="2.6" fill="url(#sph1)"/><circle cx="555.9" cy="658.5" r="2.1" fill="url(#sph2)"/><circle cx="644.5" cy="697.1" r="2.5" fill="url(#sph3)"/><circle cx="679.3" cy="621.3" r="2.4" fill="url(#sph1)"/><circle cx="687.2" cy="655.8" r="2.3" fill="url(#sph2)"/><circle cx="674.5" cy="637" r="2.3" fill="url(#sph1)"/><circle cx="679.6" cy="702.6" r="2.2" fill="url(#sph1)"/><circle cx="680.3" cy="641.1" r="2.2" fill="url(#sph2)"/><circle cx="644.9" cy="693.6" r="2.3" fill="url(#sph1)"/><circle cx="639.2" cy="598" r="2.2" fill="url(#sph3)"/><circle cx="656.1" cy="665.4" r="2.2" fill="url(#sph2)"/><circle cx="572.8" cy="643.3" r="2.2" fill="url(#sph2)"/><circle cx="635.4" cy="627.6" r="2.2" fill="url(#sph3)"/><circle cx="608.8" cy="686.4" r="2.5" fill="url(#sph1)"/><circle cx="644.5" cy="667.7" r="2.6" fill="url(#sph3)"/><circle cx="597.7" cy="677" r="2.1" fill="url(#sph1)"/><circle cx="619.1" cy="613.8" r="2.3" fill="url(#sph3)"/><circle cx="678.7" cy="700" r="2.5" fill="url(#sph2)"/><circle cx="612.5" cy="680" r="2.5" fill="url(#sph2)"/><circle cx="678.8" cy="643.1" r="2" fill="url(#sph1)"/><circle cx="578.7" cy="693.1" r="2.2" fill="url(#sph1)"/><circle cx="646.2" cy="682.9" r="2.4" fill="url(#sph2)"/><circle cx="581.8" cy="659.8" r="2.2" fill="url(#sph2)"/><circle cx="686.6" cy="624.7" r="2.4" fill="url(#sph2)"/><circle cx="648.4" cy="654.5" r="2.2" fill="url(#sph1)"/><circle cx="637.9" cy="671.5" r="2.3" fill="url(#sph2)"/><circle cx="574.8" cy="695.6" r="2.5" fill="url(#sph3)"/><circle cx="589.2" cy="671.8" r="2.6" fill="url(#sph1)"/><circle cx="652.1" cy="643.5" r="2" fill="url(#sph1)"/><circle cx="571.5" cy="712.3" r="2.2" fill="url(#sph3)"/><circle cx="563.3" cy="675.3" r="2.5" fill="url(#sph1)"/><circle cx="677.9" cy="691.9" r="2.5" fill="url(#sph2)"/><circle cx="681.8" cy="698.4" r="2.4" fill="url(#sph2)"/><circle cx="624.7" cy="706.2" r="2.1" fill="url(#sph2)"/><circle cx="563.2" cy="689.7" r="2.5" fill="url(#sph3)"/><circle cx="578.3" cy="648.7" r="2.1" fill="url(#sph2)"/><circle cx="645" cy="656.8" r="2.2" fill="url(#sph3)"/><circle cx="645.7" cy="591.3" r="2.4" fill="url(#sph2)"/><circle cx="618.1" cy="627.8" r="2.1" fill="url(#sph2)"/><circle cx="589.8" cy="660.5" r="2.4" fill="url(#sph1)"/><circle cx="628.7" cy="645.1" r="2.4" fill="url(#sph3)"/><circle cx="557.8" cy="655.4" r="2.3" fill="url(#sph3)"/><circle cx="609.4" cy="707.4" r="2.3" fill="url(#sph2)"/><circle cx="674.3" cy="611.6" r="2.6" fill="url(#sph2)"/><circle cx="627.5" cy="660.2" r="2.4" fill="url(#sph3)"/><circle cx="648.4" cy="671.8" r="2.4" fill="url(#sph3)"/><circle cx="611.7" cy="688.8" r="2.5" fill="url(#sph2)"/><circle cx="686.1" cy="682.7" r="2.4" fill="url(#sph1)"/><circle cx="687.1" cy="651.6" r="2.3" fill="url(#sph1)"/><circle cx="569.2" cy="708.1" r="2.3" fill="url(#sph2)"/><circle cx="596.1" cy="659.7" r="2.5" fill="url(#sph3)"/><circle cx="660.3" cy="621" r="2.6" fill="url(#sph2)"/><circle cx="672.4" cy="629.6" r="2.4" fill="url(#sph2)"/><circle cx="604.5" cy="699.4" r="2" fill="url(#sph2)"/><circle cx="683.5" cy="585.9" r="2.3" fill="url(#sph1)"/><circle cx="657.9" cy="689.4" r="2.4" fill="url(#sph1)"/><circle cx="643.1" cy="669.8" r="2.4" fill="url(#sph3)"/><circle cx="671.5" cy="701" r="2.2" fill="url(#sph2)"/><circle cx="624" cy="597.5" r="2.4" fill="url(#sph3)"/><circle cx="630.2" cy="699.2" r="2.4" fill="url(#sph2)"/><circle cx="672.3" cy="715.7" r="2.5" fill="url(#sph2)"/><circle cx="647.5" cy="679.6" r="2.1" fill="url(#sph2)"/><circle cx="660.8" cy="604.3" r="2.4" fill="url(#sph1)"/><circle cx="623.2" cy="663.7" r="2.5" fill="url(#sph1)"/><circle cx="645.6" cy="643.9" r="2.4" fill="url(#sph3)"/><circle cx="573.5" cy="646.2" r="2.6" fill="url(#sph2)"/><circle cx="670.1" cy="597.4" r="2.4" fill="url(#sph2)"/><circle cx="684.3" cy="666.3" r="2.3" fill="url(#sph2)"/><circle cx="598.5" cy="665.8" r="2.1" fill="url(#sph2)"/><circle cx="558.6" cy="640.8" r="2" fill="url(#sph1)"/><circle cx="683.2" cy="627.2" r="2.3" fill="url(#sph3)"/><circle cx="642.6" cy="644" r="2.4" fill="url(#sph2)"/><circle cx="685.5" cy="631.6" r="2.2" fill="url(#sph1)"/><circle cx="633.5" cy="617.7" r="2.5" fill="url(#sph2)"/><circle cx="570.7" cy="702.2" r="2.5" fill="url(#sph1)"/><circle cx="663.8" cy="595.6" r="2.6" fill="url(#sph3)"/><circle cx="683" cy="645.4" r="2.1" fill="url(#sph2)"/><circle cx="685.8" cy="676.1" r="2.1" fill="url(#sph2)"/><circle cx="613.3" cy="585" r="2.4" fill="url(#sph2)"/><circle cx="633.4" cy="624.9" r="2.1" fill="url(#sph1)"/><circle cx="607.2" cy="699.4" r="2.4" fill="url(#sph2)"/><circle cx="628.1" cy="585" r="2" fill="url(#sph2)"/><circle cx="592.4" cy="689.2" r="2.4" fill="url(#sph3)"/><circle cx="613.2" cy="616.1" r="2.2" fill="url(#sph2)"/><circle cx="569.8" cy="645.2" r="2.3" fill="url(#sph2)"/><circle cx="654.8" cy="657.1" r="2.6" fill="url(#sph1)"/><circle cx="655.3" cy="698.3" r="2" fill="url(#sph1)"/><circle cx="569" cy="715.3" r="2.5" fill="url(#sph3)"/><circle cx="632.2" cy="671.6" r="2.4" fill="url(#sph2)"/><circle cx="608.7" cy="711.7" r="2.4" fill="url(#sph1)"/><circle cx="589" cy="708.1" r="2.1" fill="url(#sph2)"/><circle cx="565.1" cy="700.8" r="2.1" fill="url(#sph1)"/><circle cx="667.1" cy="626.8" r="2.2" fill="url(#sph2)"/><circle cx="613.9" cy="696.2" r="2.5" fill="url(#sph2)"/><circle cx="655.5" cy="713.4" r="2.3" fill="url(#sph3)"/><circle cx="590.5" cy="666" r="2.6" fill="url(#sph3)"/><circle cx="621.6" cy="696.2" r="2.3" fill="url(#sph2)"/><circle cx="660.8" cy="713.9" r="2.4" fill="url(#sph2)"/><circle cx="634.5" cy="622.4" r="2.4" fill="url(#sph2)"/><circle cx="621.9" cy="699.1" r="2.6" fill="url(#sph2)"/><circle cx="646.9" cy="653.5" r="2.2" fill="url(#sph1)"/><circle cx="619.1" cy="683.6" r="2.5" fill="url(#sph2)"/><circle cx="579.4" cy="654.4" r="2.6" fill="url(#sph2)"/><circle cx="664.5" cy="688.5" r="2.6" fill="url(#sph2)"/><circle cx="659" cy="641.2" r="2.3" fill="url(#sph3)"/><circle cx="673.8" cy="686" r="2.5" fill="url(#sph1)"/><circle cx="611.9" cy="611.5" r="2.5" fill="url(#sph1)"/><circle cx="611.1" cy="631.2" r="2.5" fill="url(#sph2)"/><circle cx="646" cy="596.9" r="2.3" fill="url(#sph2)"/><circle cx="619.1" cy="643.5" r="2.1" fill="url(#sph2)"/><circle cx="639.8" cy="608.4" r="2.4" fill="url(#sph2)"/><circle cx="640" cy="612" r="2.6" fill="url(#sph1)"/><circle cx="608.1" cy="610.2" r="2.4" fill="url(#sph2)"/><circle cx="642.6" cy="588.2" r="2.1" fill="url(#sph1)"/><circle cx="599.1" cy="648.7" r="2.4" fill="url(#sph2)"/><circle cx="677.2" cy="715.7" r="2.5" fill="url(#sph1)"/><circle cx="607.1" cy="680.3" r="2.1" fill="url(#sph1)"/><circle cx="673.6" cy="641.7" r="2.3" fill="url(#sph2)"/><circle cx="665.8" cy="611.1" r="2.2" fill="url(#sph2)"/><circle cx="657.3" cy="642" r="2.4" fill="url(#sph2)"/><circle cx="564.8" cy="658.9" r="2.3" fill="url(#sph2)"/><circle cx="683" cy="614.6" r="2.3" fill="url(#sph1)"/><circle cx="668.6" cy="704" r="2.4" fill="url(#sph2)"/><circle cx="608.2" cy="639.6" r="2.2" fill="url(#sph1)"/><circle cx="624.3" cy="692" r="2.3" fill="url(#sph1)"/><circle cx="605.5" cy="669.1" r="2.3" fill="url(#sph2)"/><circle cx="643.7" cy="590" r="2.1" fill="url(#sph3)"/></g><rect x="559" y="589" width="49.6" height="49.6" fill="#e9ebef"/><circle cx="583.8" cy="613.4" r="24.4" fill="#e4a470"/><circle cx="584.2" cy="611.4" r="17" fill="#a9b1a1"/><circle cx="584.2" cy="611.4" r="13.4" fill="#c4ccbc"/><circle cx="584.2" cy="611.4" r="7.4" fill="#9ea696" fill-opacity="0.5" filter="url(#blur2)"/><line x1="590.9" y1="631.5" x2="594.4" y2="638.2" stroke="#d0d0d0" stroke-width="2.8"/><line x1="592.2" y1="631.8" x2="595.7" y2="638.5" stroke="#666" stroke-width="0.8"/><line x1="632.3" y1="702.3" x2="675" y2="702.3" stroke="#f6ee00" stroke-width="2.3"/><text x="654.4" y="694.9" text-anchor="middle" fill="#f6ee00" font-size="12.5" stroke="#f6ee00" stroke-width="0.35">5 &#956;m</text><rect x="558.5" y="588.6" width="125.7" height="125.5" fill="none" stroke="#4a89bf" stroke-width="1.7"/></svg></body></html>
